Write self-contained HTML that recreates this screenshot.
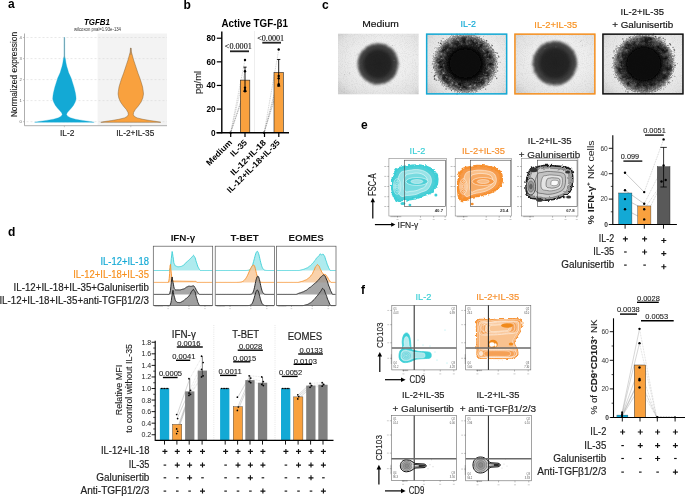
<!DOCTYPE html>
<html><head><meta charset="utf-8"><title>Figure</title>
<style>html,body{margin:0;padding:0;background:#fff;overflow:hidden;}svg{display:block;will-change:transform;}</style>
</head><body>
<svg width="685" height="496" viewBox="0 0 685 496">
<defs>
<filter id="rough" x="-20%" y="-20%" width="140%" height="140%">
  <feTurbulence type="fractalNoise" baseFrequency="0.35" numOctaves="2" seed="4" result="n"/>
  <feDisplacementMap in="SourceGraphic" in2="n" scale="3.5" xChannelSelector="R" yChannelSelector="G"/>
</filter>
<filter id="fuzz" x="-30%" y="-30%" width="160%" height="160%" color-interpolation-filters="sRGB">
  <feTurbulence type="fractalNoise" baseFrequency="0.8" numOctaves="2" seed="7" result="n"/>
  <feDisplacementMap in="SourceGraphic" in2="n" scale="5" xChannelSelector="R" yChannelSelector="G" result="d"/>
  <feGaussianBlur in="d" stdDeviation="0.5"/>
</filter>
<filter id="soft" x="-30%" y="-30%" width="160%" height="160%" color-interpolation-filters="sRGB">
  <feTurbulence type="fractalNoise" baseFrequency="1.1" numOctaves="2" seed="3" result="n"/>
  <feDisplacementMap in="SourceGraphic" in2="n" scale="3.0" xChannelSelector="R" yChannelSelector="G" result="d"/>
  <feGaussianBlur in="d" stdDeviation="0.8"/>
</filter>
<filter id="mottle" x="0" y="0" width="100%" height="100%">
  <feTurbulence type="fractalNoise" baseFrequency="0.3" numOctaves="2" seed="11" result="n"/>
  <feColorMatrix in="n" type="matrix" values="0 0 0 0 0  0 0 0 0 0  0 0 0 0 0  -3 0 0 0 1.6" result="a"/>
  <feComposite in="a" in2="SourceGraphic" operator="in"/>
</filter>
<filter id="mottleW" x="0" y="0" width="100%" height="100%">
  <feTurbulence type="fractalNoise" baseFrequency="0.35" numOctaves="2" seed="5" result="n"/>
  <feColorMatrix in="n" type="matrix" values="0 0 0 0 1  0 0 0 0 1  0 0 0 0 1  3 0 0 0 -1.45" result="a"/>
  <feComposite in="a" in2="SourceGraphic" operator="in"/>
</filter>
<filter id="grainW" x="0" y="0" width="100%" height="100%">
  <feTurbulence type="fractalNoise" baseFrequency="1.0" numOctaves="1" seed="8" result="n"/>
  <feColorMatrix in="n" type="matrix" values="0 0 0 0 1  0 0 0 0 1  0 0 0 0 1  3 0 0 0 -1.3" result="a"/>
  <feComposite in="a" in2="SourceGraphic" operator="in"/>
</filter>
<filter id="blur1" x="-50%" y="-50%" width="200%" height="200%"><feGaussianBlur stdDeviation="0.9"/></filter>
<filter id="grain" x="0" y="0" width="100%" height="100%">
  <feTurbulence type="fractalNoise" baseFrequency="1.1" numOctaves="1" seed="2" result="n"/>
  <feColorMatrix in="n" type="matrix" values="0 0 0 0 0  0 0 0 0 0  0 0 0 0 0  0 0 0 -1.6 0.9" result="a"/>
  <feComposite in="a" in2="SourceGraphic" operator="in"/>
</filter>
<radialGradient id="bgC" cx="55%" cy="45%" r="70%">
  <stop offset="0" stop-color="#f3f3f3"/><stop offset="0.5" stop-color="#eeeeee"/><stop offset="0.85" stop-color="#e2e2e2"/><stop offset="1" stop-color="#d0d0d0"/>
</radialGradient>
<radialGradient id="sph" cx="50%" cy="50%" r="50%">
  <stop offset="0" stop-color="#212121"/><stop offset="0.55" stop-color="#242424"/><stop offset="0.8" stop-color="#2e2e2e"/><stop offset="0.92" stop-color="#3e3e3e"/><stop offset="1" stop-color="#6a6a6a"/>
</radialGradient>
<radialGradient id="sph2" cx="50%" cy="50%" r="50%">
  <stop offset="0" stop-color="#060606"/><stop offset="0.52" stop-color="#0b0b0b"/><stop offset="0.64" stop-color="#262626"/><stop offset="0.74" stop-color="#4a4a4a"/><stop offset="0.86" stop-color="#606060"/><stop offset="0.95" stop-color="#8a8a8a" stop-opacity="0.85"/><stop offset="1" stop-color="#aaa" stop-opacity="0.4"/>
</radialGradient>
<radialGradient id="ringW" cx="50%" cy="50%" r="50%">
  <stop offset="0" stop-color="#fff" stop-opacity="0"/><stop offset="0.62" stop-color="#fff" stop-opacity="0"/><stop offset="0.8" stop-color="#fff" stop-opacity="1"/><stop offset="1" stop-color="#fff" stop-opacity="0.7"/>
</radialGradient>
<radialGradient id="ringK" cx="50%" cy="50%" r="50%">
  <stop offset="0" stop-color="#000" stop-opacity="0"/><stop offset="0.55" stop-color="#000" stop-opacity="0.2"/><stop offset="0.78" stop-color="#000" stop-opacity="1"/><stop offset="1" stop-color="#000" stop-opacity="0.6"/>
</radialGradient>
<clipPath id="ci1"><rect x="337.9" y="33.4" width="80.9" height="61.2"/></clipPath>
<clipPath id="ci2"><rect x="425.9" y="33.4" width="81.5" height="61.2"/></clipPath>
<clipPath id="ci3"><rect x="514.2" y="33.4" width="81.4" height="61.2"/></clipPath>
<clipPath id="ci4"><rect x="602.2" y="33.4" width="81.5" height="61.2"/></clipPath>
</defs>
<rect x="0" y="0" width="685" height="496" fill="#fff"/>
<text x="8" y="8" font-family='"Liberation Sans", sans-serif' font-size="12" font-weight="bold" fill="#000">a</text>
<text x="183.5" y="9.4" font-family='"Liberation Sans", sans-serif' font-size="12" font-weight="bold" fill="#000">b</text>
<text x="322" y="8.8" font-family='"Liberation Sans", sans-serif' font-size="12" font-weight="bold" fill="#000">c</text>
<text x="7.9" y="236" font-family='"Liberation Sans", sans-serif' font-size="12" font-weight="bold" fill="#000">d</text>
<text x="361" y="128.8" font-family='"Liberation Sans", sans-serif' font-size="12" font-weight="bold" fill="#000">e</text>
<text x="361" y="293.8" font-family='"Liberation Sans", sans-serif' font-size="12" font-weight="bold" fill="#000">f</text>
<rect x="97.6" y="33.5" width="69.4" height="92.2" fill="#f3f3f3" stroke="none" stroke-width="1"/>
<line x1="26.5" y1="121.7" x2="167" y2="121.7" stroke="#d8d8d8" stroke-width="0.6" stroke-dasharray="2,2"/>
<text x="21.8" y="123.2" font-family='"Liberation Sans", sans-serif' font-size="4.2" text-anchor="end" fill="#666">0</text>
<line x1="23.0" y1="121.7" x2="24.5" y2="121.7" stroke="#888" stroke-width="0.5"/>
<line x1="26.5" y1="100.6" x2="167" y2="100.6" stroke="#d8d8d8" stroke-width="0.6" stroke-dasharray="2,2"/>
<text x="21.8" y="102.1" font-family='"Liberation Sans", sans-serif' font-size="4.2" text-anchor="end" fill="#666">1</text>
<line x1="23.0" y1="100.6" x2="24.5" y2="100.6" stroke="#888" stroke-width="0.5"/>
<line x1="26.5" y1="79.6" x2="167" y2="79.6" stroke="#d8d8d8" stroke-width="0.6" stroke-dasharray="2,2"/>
<text x="21.8" y="81.1" font-family='"Liberation Sans", sans-serif' font-size="4.2" text-anchor="end" fill="#666">2</text>
<line x1="23.0" y1="79.6" x2="24.5" y2="79.6" stroke="#888" stroke-width="0.5"/>
<line x1="26.5" y1="58.6" x2="167" y2="58.6" stroke="#d8d8d8" stroke-width="0.6" stroke-dasharray="2,2"/>
<text x="21.8" y="60.1" font-family='"Liberation Sans", sans-serif' font-size="4.2" text-anchor="end" fill="#666">3</text>
<line x1="23.0" y1="58.6" x2="24.5" y2="58.6" stroke="#888" stroke-width="0.5"/>
<line x1="26.5" y1="37.5" x2="167" y2="37.5" stroke="#d8d8d8" stroke-width="0.6" stroke-dasharray="2,2"/>
<text x="21.8" y="39.0" font-family='"Liberation Sans", sans-serif' font-size="4.2" text-anchor="end" fill="#666">4</text>
<line x1="23.0" y1="37.5" x2="24.5" y2="37.5" stroke="#888" stroke-width="0.5"/>
<line x1="24.5" y1="33.5" x2="24.5" y2="125.7" stroke="#999" stroke-width="0.8"/>
<line x1="24.5" y1="125.7" x2="167" y2="125.7" stroke="#999" stroke-width="0.8"/>
<line x1="64.4" y1="125.7" x2="64.4" y2="127.2" stroke="#999" stroke-width="0.5"/>
<line x1="130.8" y1="125.7" x2="130.8" y2="127.2" stroke="#999" stroke-width="0.5"/>
<path d="M64.70,37.50 L64.75,56.00 L65.40,59.00 L66.00,63.00 L66.80,66.60 L67.60,69.10 L68.60,72.60 L71.10,78.10 L74.00,87.20 L75.40,93.00 L75.90,96.30 L76.10,99.00 L75.20,102.00 L73.40,105.40 L71.40,108.00 L68.90,110.80 L67.20,112.80 L66.50,114.40 L67.60,116.20 L70.40,117.80 L75.40,119.20 L82.40,120.40 L89.40,121.40 L94.20,122.30 L34.60,122.30 L39.40,121.40 L46.40,120.40 L53.40,119.20 L58.40,117.80 L61.20,116.20 L62.30,114.40 L61.60,112.80 L59.90,110.80 L57.40,108.00 L55.40,105.40 L53.60,102.00 L52.70,99.00 L52.90,96.30 L53.40,93.00 L54.80,87.20 L57.70,78.10 L60.20,72.60 L61.20,69.10 L62.00,66.60 L62.80,63.00 L63.40,59.00 L64.05,56.00 L64.10,37.50Z" fill="#13a9d5" stroke="#13a9d5" stroke-width="0.3" stroke-linejoin="round"/>
<line x1="64.4" y1="37.5" x2="64.4" y2="58" stroke="#999" stroke-width="0.6"/>
<path d="M131.10,48.00 L131.40,52.00 L132.80,57.00 L133.60,60.00 L135.10,64.40 L136.60,69.00 L138.10,73.50 L139.80,78.00 L141.30,82.60 L142.60,87.00 L143.30,91.70 L143.50,94.00 L142.80,98.00 L141.10,102.00 L138.30,106.00 L135.30,109.50 L133.60,112.50 L133.30,114.50 L134.20,116.30 L137.10,117.90 L142.80,119.30 L149.80,120.50 L156.80,121.50 L160.80,122.30 L100.80,122.30 L104.80,121.50 L111.80,120.50 L118.80,119.30 L124.50,117.90 L127.40,116.30 L128.30,114.50 L128.00,112.50 L126.30,109.50 L123.30,106.00 L120.50,102.00 L118.80,98.00 L118.10,94.00 L118.30,91.70 L119.00,87.00 L120.30,82.60 L121.80,78.00 L123.50,73.50 L125.00,69.00 L126.50,64.40 L128.00,60.00 L128.80,57.00 L130.20,52.00 L130.50,48.00Z" fill="#f9a13e" stroke="#7a5a30" stroke-width="0.45" stroke-linejoin="round"/>
<line x1="130.8" y1="48" x2="130.8" y2="55" stroke="#777" stroke-width="0.5"/>
<text x="97" y="24.8" font-family='"Liberation Sans", sans-serif' font-size="8.2" text-anchor="middle" font-weight="bold" font-style="italic" fill="#000" textLength="26" lengthAdjust="spacingAndGlyphs">TGFB1</text>
<text x="97.5" y="30.7" font-family='"Liberation Sans", sans-serif' font-size="4.6" text-anchor="middle" fill="#333" textLength="47" lengthAdjust="spacingAndGlyphs">wilcoxon pval=1.93e-134</text>
<text x="17.2" y="74.6" font-family='"Liberation Sans", sans-serif' font-size="8.8" text-anchor="middle" fill="#1a1a1a" stroke="#1a1a1a" stroke-width="0.12" textLength="85.5" lengthAdjust="spacingAndGlyphs" transform="rotate(-90 17.2 74.6)">Normalized expression</text>
<text x="67.2" y="136.2" font-family='"Liberation Sans", sans-serif' font-size="8.3" text-anchor="middle" fill="#222" stroke="#222" stroke-width="0.15" textLength="14.4" lengthAdjust="spacingAndGlyphs">IL-2</text>
<text x="135.3" y="136.2" font-family='"Liberation Sans", sans-serif' font-size="8.3" text-anchor="middle" fill="#222" stroke="#222" stroke-width="0.15" textLength="38" lengthAdjust="spacingAndGlyphs">IL-2+IL-35</text>
<text x="254.7" y="27.0" font-family='"Liberation Sans", sans-serif' font-size="10.2" text-anchor="middle" font-weight="bold" fill="#000" textLength="66.3" lengthAdjust="spacingAndGlyphs">Active TGF-β1</text>
<line x1="254.5" y1="31.5" x2="254.5" y2="132.7" stroke="#bbb" stroke-width="0.5" stroke-dasharray="1,1"/>
<line x1="230.6" y1="132.7" x2="245.0" y2="60.068499999999986" stroke="#777" stroke-width="0.35" stroke-dasharray="1,0.8"/>
<line x1="230.6" y1="132.7" x2="245.0" y2="71.28799999999998" stroke="#777" stroke-width="0.35" stroke-dasharray="1,0.8"/>
<line x1="230.6" y1="132.7" x2="245.0" y2="87.82199999999999" stroke="#777" stroke-width="0.35" stroke-dasharray="1,0.8"/>
<line x1="230.6" y1="132.7" x2="245.0" y2="90.18399999999998" stroke="#777" stroke-width="0.35" stroke-dasharray="1,0.8"/>
<line x1="230.6" y1="132.7" x2="245.0" y2="91.36499999999998" stroke="#777" stroke-width="0.35" stroke-dasharray="1,0.8"/>
<line x1="264.1" y1="132.7" x2="278.8" y2="49.43949999999998" stroke="#777" stroke-width="0.35" stroke-dasharray="1,0.8"/>
<line x1="264.1" y1="132.7" x2="278.8" y2="76.01199999999999" stroke="#777" stroke-width="0.35" stroke-dasharray="1,0.8"/>
<line x1="264.1" y1="132.7" x2="278.8" y2="78.374" stroke="#777" stroke-width="0.35" stroke-dasharray="1,0.8"/>
<line x1="264.1" y1="132.7" x2="278.8" y2="84.279" stroke="#777" stroke-width="0.35" stroke-dasharray="1,0.8"/>
<line x1="264.1" y1="132.7" x2="278.8" y2="85.45999999999998" stroke="#777" stroke-width="0.35" stroke-dasharray="1,0.8"/>
<rect x="240.3" y="80.14549999999998" width="9.5" height="52.554500000000004" fill="#f9a13e" stroke="#222" stroke-width="0.6"/>
<rect x="274.0" y="72.469" width="9.3" height="60.230999999999995" fill="#f9a13e" stroke="#222" stroke-width="0.6"/>
<line x1="245.0" y1="91.36499999999998" x2="245.0" y2="67.15449999999998" stroke="#000" stroke-width="0.9"/>
<line x1="243.4" y1="67.15449999999998" x2="246.6" y2="67.15449999999998" stroke="#000" stroke-width="0.9"/>
<line x1="243.4" y1="91.36499999999998" x2="246.6" y2="91.36499999999998" stroke="#000" stroke-width="0.9"/>
<line x1="278.7" y1="86.05049999999999" x2="278.7" y2="59.47799999999998" stroke="#000" stroke-width="0.9"/>
<line x1="277.09999999999997" y1="59.47799999999998" x2="280.3" y2="59.47799999999998" stroke="#000" stroke-width="0.9"/>
<line x1="277.09999999999997" y1="86.05049999999999" x2="280.3" y2="86.05049999999999" stroke="#000" stroke-width="0.9"/>
<circle cx="245.0" cy="60.068499999999986" r="1.2" fill="#000"/>
<circle cx="245.0" cy="71.28799999999998" r="1.2" fill="#000"/>
<circle cx="245.0" cy="87.82199999999999" r="1.2" fill="#000"/>
<circle cx="245.0" cy="90.18399999999998" r="1.2" fill="#000"/>
<circle cx="245.0" cy="91.36499999999998" r="1.2" fill="#000"/>
<circle cx="278.7" cy="49.43949999999998" r="1.2" fill="#000"/>
<circle cx="278.7" cy="76.01199999999999" r="1.2" fill="#000"/>
<circle cx="278.7" cy="78.374" r="1.2" fill="#000"/>
<circle cx="278.7" cy="84.279" r="1.2" fill="#000"/>
<circle cx="278.7" cy="85.45999999999998" r="1.2" fill="#000"/>
<circle cx="230.6" cy="132.7" r="1.2" fill="#000"/>
<circle cx="264.1" cy="132.7" r="1.2" fill="#000"/>
<line x1="221.8" y1="31.5" x2="221.8" y2="133.29999999999998" stroke="#000" stroke-width="1.4"/>
<line x1="216.5" y1="132.7" x2="289" y2="132.7" stroke="#000" stroke-width="1.4"/>
<line x1="216.8" y1="132.7" x2="221.8" y2="132.7" stroke="#000" stroke-width="1.2"/>
<text x="215.6" y="135.6" font-family='"Liberation Sans", sans-serif' font-size="8.2" text-anchor="end" font-weight="bold" fill="#000" textLength="4.6" lengthAdjust="spacingAndGlyphs">0</text>
<line x1="216.8" y1="109.07999999999998" x2="221.8" y2="109.07999999999998" stroke="#000" stroke-width="1.2"/>
<text x="215.6" y="111.97999999999999" font-family='"Liberation Sans", sans-serif' font-size="8.2" text-anchor="end" font-weight="bold" fill="#000" textLength="9.2" lengthAdjust="spacingAndGlyphs">20</text>
<line x1="216.8" y1="85.45999999999998" x2="221.8" y2="85.45999999999998" stroke="#000" stroke-width="1.2"/>
<text x="215.6" y="88.35999999999999" font-family='"Liberation Sans", sans-serif' font-size="8.2" text-anchor="end" font-weight="bold" fill="#000" textLength="9.2" lengthAdjust="spacingAndGlyphs">40</text>
<line x1="216.8" y1="61.83999999999999" x2="221.8" y2="61.83999999999999" stroke="#000" stroke-width="1.2"/>
<text x="215.6" y="64.74" font-family='"Liberation Sans", sans-serif' font-size="8.2" text-anchor="end" font-weight="bold" fill="#000" textLength="9.2" lengthAdjust="spacingAndGlyphs">60</text>
<line x1="216.8" y1="38.219999999999985" x2="221.8" y2="38.219999999999985" stroke="#000" stroke-width="1.2"/>
<text x="215.6" y="41.11999999999998" font-family='"Liberation Sans", sans-serif' font-size="8.2" text-anchor="end" font-weight="bold" fill="#000" textLength="9.2" lengthAdjust="spacingAndGlyphs">80</text>
<line x1="230.7" y1="132.7" x2="230.7" y2="137.0" stroke="#000" stroke-width="1.2"/>
<line x1="245.0" y1="132.7" x2="245.0" y2="137.0" stroke="#000" stroke-width="1.2"/>
<line x1="264.5" y1="132.7" x2="264.5" y2="137.0" stroke="#000" stroke-width="1.2"/>
<line x1="278.8" y1="132.7" x2="278.8" y2="137.0" stroke="#000" stroke-width="1.2"/>
<text x="232.6" y="143.2" font-family='"Liberation Sans", sans-serif' font-size="8.4" text-anchor="end" font-weight="bold" fill="#000" textLength="32.5" lengthAdjust="spacingAndGlyphs" transform="rotate(-45 232.6 143.2)">Medium</text>
<text x="247.6" y="143.2" font-family='"Liberation Sans", sans-serif' font-size="8.4" text-anchor="end" font-weight="bold" fill="#000" textLength="19.8" lengthAdjust="spacingAndGlyphs" transform="rotate(-45 247.6 143.2)">IL-35</text>
<text x="266.6" y="143.2" font-family='"Liberation Sans", sans-serif' font-size="8.4" text-anchor="end" font-weight="bold" fill="#000" textLength="46.5" lengthAdjust="spacingAndGlyphs" transform="rotate(-45 266.6 143.2)">IL-12+IL-18</text>
<text x="280.5" y="143.2" font-family='"Liberation Sans", sans-serif' font-size="8.4" text-anchor="end" font-weight="bold" fill="#000" textLength="71" lengthAdjust="spacingAndGlyphs" transform="rotate(-45 280.5 143.2)">IL-12+IL-18+IL-35</text>
<text x="201.0" y="82.4" font-family='"Liberation Sans", sans-serif' font-size="8.6" text-anchor="middle" fill="#222" stroke="#222" stroke-width="0.12" textLength="23" lengthAdjust="spacingAndGlyphs" transform="rotate(-90 201.0 82.4)">pg/ml</text>
<text x="238.3" y="49.3" font-family='"Liberation Serif", serif' font-size="9.2" text-anchor="middle" fill="#111" stroke="#111" stroke-width="0.15" textLength="27" lengthAdjust="spacingAndGlyphs">&lt;0.0001</text>
<line x1="230" y1="51.3" x2="249" y2="51.3" stroke="#222" stroke-width="1.8"/>
<text x="270.7" y="41.0" font-family='"Liberation Serif", serif' font-size="9.2" text-anchor="middle" fill="#111" stroke="#111" stroke-width="0.15" textLength="27" lengthAdjust="spacingAndGlyphs">&lt;0.0001</text>
<line x1="262.3" y1="42.7" x2="281" y2="42.7" stroke="#222" stroke-width="1.8"/>
<g clip-path="url(#ci1)">
<rect x="337.9" y="33.4" width="80.90000000000003" height="61.2" fill="url(#bgC)" stroke="none" stroke-width="1"/>
<ellipse cx="378" cy="63.9" rx="20.6" ry="20.6" fill="url(#sph)" filter="url(#soft)"/>
<ellipse cx="378" cy="63.9" rx="20.188000000000002" ry="20.188000000000002" fill="url(#ringW)" filter="url(#grainW)" opacity="0.35"/>
<circle cx="344.51" cy="74.85" r="0.4" fill="#999"/>
<circle cx="392.60" cy="45.58" r="0.4" fill="#999"/>
<circle cx="394.06" cy="60.20" r="0.4" fill="#999"/>
<circle cx="344.73" cy="88.79" r="0.4" fill="#999"/>
<circle cx="359.21" cy="55.51" r="0.4" fill="#999"/>
<circle cx="349.58" cy="73.02" r="0.4" fill="#999"/>
<rect x="337.9" y="33.4" width="80.90000000000003" height="61.2" fill="#000" stroke="none" stroke-width="1" filter="url(#grain)" opacity="0.10"/>
</g>
<g clip-path="url(#ci2)">
<rect x="425.9" y="33.4" width="81.5" height="61.2" fill="url(#bgC)" stroke="none" stroke-width="1"/>
<ellipse cx="465.3" cy="63.5" rx="32.6" ry="30.2" fill="url(#sph2)" filter="url(#fuzz)"/>
<circle cx="491.57" cy="64.33" r="1.83" fill="#121212" filter="url(#blur1)" opacity="0.95"/>
<circle cx="486.83" cy="73.33" r="2.15" fill="#121212" filter="url(#blur1)" opacity="0.95"/>
<circle cx="480.90" cy="81.51" r="2.96" fill="#121212" filter="url(#blur1)" opacity="0.95"/>
<circle cx="475.75" cy="82.45" r="2.21" fill="#121212" filter="url(#blur1)" opacity="0.95"/>
<circle cx="464.51" cy="87.11" r="1.89" fill="#121212" filter="url(#blur1)" opacity="0.95"/>
<circle cx="459.67" cy="85.09" r="2.92" fill="#121212" filter="url(#blur1)" opacity="0.95"/>
<circle cx="447.98" cy="81.59" r="1.90" fill="#121212" filter="url(#blur1)" opacity="0.95"/>
<circle cx="444.82" cy="77.63" r="2.58" fill="#121212" filter="url(#blur1)" opacity="0.95"/>
<circle cx="441.01" cy="67.52" r="2.07" fill="#121212" filter="url(#blur1)" opacity="0.95"/>
<circle cx="439.57" cy="61.56" r="2.65" fill="#121212" filter="url(#blur1)" opacity="0.95"/>
<circle cx="444.11" cy="50.17" r="1.82" fill="#121212" filter="url(#blur1)" opacity="0.95"/>
<circle cx="446.35" cy="47.70" r="2.22" fill="#121212" filter="url(#blur1)" opacity="0.95"/>
<circle cx="455.51" cy="43.78" r="2.47" fill="#121212" filter="url(#blur1)" opacity="0.95"/>
<circle cx="464.31" cy="40.02" r="2.47" fill="#121212" filter="url(#blur1)" opacity="0.95"/>
<circle cx="474.49" cy="42.45" r="2.86" fill="#121212" filter="url(#blur1)" opacity="0.95"/>
<circle cx="481.77" cy="44.75" r="1.98" fill="#121212" filter="url(#blur1)" opacity="0.95"/>
<circle cx="487.34" cy="52.25" r="2.03" fill="#121212" filter="url(#blur1)" opacity="0.95"/>
<circle cx="489.44" cy="56.22" r="2.13" fill="#121212" filter="url(#blur1)" opacity="0.95"/>
<ellipse cx="465.3" cy="63.5" rx="30.652" ry="28.323999999999998" fill="url(#ringW)" filter="url(#mottleW)" opacity="0.45"/>
<ellipse cx="465.3" cy="63.5" rx="30.02" ry="27.74" fill="url(#ringK)" filter="url(#mottle)" opacity="0.6"/>
<circle cx="440.44" cy="43.19" r="0.72" fill="#333" opacity="0.7"/>
<circle cx="497.97" cy="57.52" r="0.35" fill="#333" opacity="0.7"/>
<circle cx="497.30" cy="53.14" r="0.72" fill="#333" opacity="0.7"/>
<circle cx="493.02" cy="49.29" r="0.65" fill="#333" opacity="0.7"/>
<circle cx="500.16" cy="62.33" r="0.49" fill="#333" opacity="0.7"/>
<circle cx="495.93" cy="52.57" r="0.60" fill="#333" opacity="0.7"/>
<circle cx="483.29" cy="36.69" r="0.38" fill="#333" opacity="0.7"/>
<circle cx="435.94" cy="74.52" r="0.45" fill="#333" opacity="0.7"/>
<circle cx="468.13" cy="92.73" r="0.49" fill="#333" opacity="0.7"/>
<circle cx="433.46" cy="67.60" r="0.59" fill="#333" opacity="0.7"/>
<circle cx="434.61" cy="75.82" r="0.71" fill="#333" opacity="0.7"/>
<circle cx="434.41" cy="79.15" r="0.69" fill="#333" opacity="0.7"/>
<circle cx="485.62" cy="89.12" r="0.66" fill="#333" opacity="0.7"/>
<circle cx="436.97" cy="48.37" r="0.44" fill="#333" opacity="0.7"/>
<circle cx="472.95" cy="94.56" r="0.45" fill="#333" opacity="0.7"/>
<circle cx="457.35" cy="34.60" r="0.71" fill="#333" opacity="0.7"/>
<circle cx="434.66" cy="78.63" r="0.69" fill="#333" opacity="0.7"/>
<circle cx="468.72" cy="32.14" r="0.63" fill="#333" opacity="0.7"/>
<circle cx="491.40" cy="45.01" r="0.46" fill="#333" opacity="0.7"/>
<circle cx="483.56" cy="87.41" r="0.53" fill="#333" opacity="0.7"/>
<circle cx="432.22" cy="63.93" r="0.53" fill="#333" opacity="0.7"/>
<circle cx="475.45" cy="33.81" r="0.71" fill="#333" opacity="0.7"/>
<circle cx="456.46" cy="94.02" r="0.52" fill="#333" opacity="0.7"/>
<circle cx="476.93" cy="90.88" r="0.61" fill="#333" opacity="0.7"/>
<circle cx="476.98" cy="32.86" r="0.73" fill="#333" opacity="0.7"/>
<circle cx="471.85" cy="34.27" r="0.58" fill="#333" opacity="0.7"/>
<circle cx="433.53" cy="57.37" r="0.46" fill="#333" opacity="0.7"/>
<circle cx="451.55" cy="34.31" r="0.62" fill="#333" opacity="0.7"/>
<circle cx="435.87" cy="47.44" r="0.42" fill="#333" opacity="0.7"/>
<circle cx="434.73" cy="48.18" r="0.41" fill="#333" opacity="0.7"/>
<circle cx="438.74" cy="43.17" r="0.40" fill="#333" opacity="0.7"/>
<circle cx="469.76" cy="94.18" r="0.45" fill="#333" opacity="0.7"/>
<circle cx="436.49" cy="80.49" r="0.47" fill="#333" opacity="0.7"/>
<circle cx="457.47" cy="94.12" r="0.71" fill="#333" opacity="0.7"/>
<circle cx="431.92" cy="72.65" r="0.44" fill="#333" opacity="0.7"/>
<circle cx="456.96" cy="33.35" r="0.51" fill="#333" opacity="0.7"/>
<circle cx="440.86" cy="43.50" r="0.61" fill="#333" opacity="0.7"/>
<circle cx="438.32" cy="42.42" r="0.50" fill="#333" opacity="0.7"/>
<circle cx="478.16" cy="33.91" r="0.68" fill="#333" opacity="0.7"/>
<circle cx="498.59" cy="56.19" r="0.59" fill="#333" opacity="0.7"/>
<circle cx="446.07" cy="88.93" r="0.72" fill="#333" opacity="0.7"/>
<circle cx="488.96" cy="84.31" r="0.57" fill="#333" opacity="0.7"/>
<circle cx="443.08" cy="38.39" r="0.50" fill="#333" opacity="0.7"/>
<circle cx="433.08" cy="55.74" r="0.48" fill="#333" opacity="0.7"/>
<circle cx="496.44" cy="78.86" r="0.48" fill="#333" opacity="0.7"/>
<circle cx="457.07" cy="34.68" r="0.54" fill="#333" opacity="0.7"/>
<circle cx="441.22" cy="40.80" r="0.67" fill="#333" opacity="0.7"/>
<circle cx="479.10" cy="36.66" r="0.48" fill="#333" opacity="0.7"/>
<circle cx="434.94" cy="75.28" r="0.64" fill="#333" opacity="0.7"/>
<circle cx="434.27" cy="76.72" r="0.74" fill="#333" opacity="0.7"/>
<circle cx="498.92" cy="56.93" r="0.61" fill="#333" opacity="0.7"/>
<circle cx="496.72" cy="78.14" r="0.67" fill="#333" opacity="0.7"/>
<circle cx="451.52" cy="90.29" r="0.56" fill="#333" opacity="0.7"/>
<circle cx="492.26" cy="45.59" r="0.67" fill="#333" opacity="0.7"/>
<circle cx="495.23" cy="76.50" r="0.56" fill="#333" opacity="0.7"/>
<circle cx="433.36" cy="53.51" r="0.39" fill="#333" opacity="0.7"/>
<circle cx="497.67" cy="70.92" r="0.63" fill="#333" opacity="0.7"/>
<circle cx="442.07" cy="84.82" r="0.66" fill="#333" opacity="0.7"/>
<circle cx="436.01" cy="79.87" r="0.64" fill="#333" opacity="0.7"/>
<circle cx="486.71" cy="40.77" r="0.70" fill="#333" opacity="0.7"/>
<ellipse cx="465.3" cy="63.5" rx="15.8" ry="14.6" fill="#080808" filter="url(#blur1)"/>
<rect x="425.9" y="33.4" width="81.5" height="61.2" fill="#000" stroke="none" stroke-width="1" filter="url(#grain)" opacity="0.10"/>
</g>
<rect x="426.65" y="34.15" width="80.0" height="59.7" fill="none" stroke="#13a9d5" stroke-width="1.5"/>
<g clip-path="url(#ci3)">
<rect x="514.2" y="33.4" width="81.39999999999998" height="61.2" fill="url(#bgC)" stroke="none" stroke-width="1"/>
<ellipse cx="554.9" cy="63.2" rx="22.3" ry="22.3" fill="url(#sph)" filter="url(#soft)"/>
<ellipse cx="554.9" cy="63.2" rx="21.854" ry="21.854" fill="url(#ringW)" filter="url(#grainW)" opacity="0.35"/>
<circle cx="556.00" cy="46.97" r="0.4" fill="#999"/>
<circle cx="544.98" cy="48.84" r="0.4" fill="#999"/>
<circle cx="582.23" cy="45.76" r="0.4" fill="#999"/>
<circle cx="537.84" cy="52.82" r="0.4" fill="#999"/>
<circle cx="580.80" cy="41.46" r="0.4" fill="#999"/>
<circle cx="581.16" cy="40.62" r="0.4" fill="#999"/>
<rect x="514.2" y="33.4" width="81.39999999999998" height="61.2" fill="#000" stroke="none" stroke-width="1" filter="url(#grain)" opacity="0.10"/>
</g>
<rect x="514.95" y="34.15" width="79.89999999999998" height="59.7" fill="none" stroke="#f7901e" stroke-width="1.5"/>
<g clip-path="url(#ci4)">
<rect x="602.2" y="33.4" width="81.5" height="61.2" fill="url(#bgC)" stroke="none" stroke-width="1"/>
<ellipse cx="643.9" cy="64.0" rx="31.2" ry="30.2" fill="url(#sph2)" filter="url(#fuzz)"/>
<circle cx="668.22" cy="69.01" r="3.03" fill="#121212" filter="url(#blur1)" opacity="0.95"/>
<circle cx="664.38" cy="76.19" r="2.92" fill="#121212" filter="url(#blur1)" opacity="0.95"/>
<circle cx="660.31" cy="80.43" r="2.28" fill="#121212" filter="url(#blur1)" opacity="0.95"/>
<circle cx="651.71" cy="84.68" r="1.95" fill="#121212" filter="url(#blur1)" opacity="0.95"/>
<circle cx="646.04" cy="85.79" r="1.90" fill="#121212" filter="url(#blur1)" opacity="0.95"/>
<circle cx="638.03" cy="85.10" r="2.51" fill="#121212" filter="url(#blur1)" opacity="0.95"/>
<circle cx="628.29" cy="83.05" r="1.87" fill="#121212" filter="url(#blur1)" opacity="0.95"/>
<circle cx="624.35" cy="77.37" r="2.28" fill="#121212" filter="url(#blur1)" opacity="0.95"/>
<circle cx="620.55" cy="70.61" r="3.01" fill="#121212" filter="url(#blur1)" opacity="0.95"/>
<circle cx="621.34" cy="63.44" r="1.97" fill="#121212" filter="url(#blur1)" opacity="0.95"/>
<circle cx="623.23" cy="55.01" r="2.21" fill="#121212" filter="url(#blur1)" opacity="0.95"/>
<circle cx="627.42" cy="45.67" r="2.48" fill="#121212" filter="url(#blur1)" opacity="0.95"/>
<circle cx="633.24" cy="45.24" r="2.11" fill="#121212" filter="url(#blur1)" opacity="0.95"/>
<circle cx="645.55" cy="40.72" r="3.19" fill="#121212" filter="url(#blur1)" opacity="0.95"/>
<circle cx="649.56" cy="40.55" r="2.99" fill="#121212" filter="url(#blur1)" opacity="0.95"/>
<circle cx="659.39" cy="46.85" r="2.64" fill="#121212" filter="url(#blur1)" opacity="0.95"/>
<circle cx="663.98" cy="49.90" r="3.12" fill="#121212" filter="url(#blur1)" opacity="0.95"/>
<circle cx="665.03" cy="58.34" r="2.08" fill="#121212" filter="url(#blur1)" opacity="0.95"/>
<ellipse cx="643.9" cy="64.0" rx="29.293999999999997" ry="28.323999999999998" fill="url(#ringW)" filter="url(#mottleW)" opacity="0.25"/>
<ellipse cx="643.9" cy="64.0" rx="28.689999999999998" ry="27.74" fill="url(#ringK)" filter="url(#mottle)" opacity="0.6"/>
<circle cx="674.95" cy="67.00" r="0.60" fill="#333" opacity="0.7"/>
<circle cx="667.48" cy="84.38" r="0.38" fill="#333" opacity="0.7"/>
<circle cx="616.03" cy="49.41" r="0.50" fill="#333" opacity="0.7"/>
<circle cx="673.01" cy="47.46" r="0.64" fill="#333" opacity="0.7"/>
<circle cx="674.63" cy="55.13" r="0.56" fill="#333" opacity="0.7"/>
<circle cx="658.63" cy="37.93" r="0.55" fill="#333" opacity="0.7"/>
<circle cx="660.27" cy="37.69" r="0.52" fill="#333" opacity="0.7"/>
<circle cx="623.56" cy="41.32" r="0.69" fill="#333" opacity="0.7"/>
<circle cx="617.93" cy="47.23" r="0.38" fill="#333" opacity="0.7"/>
<circle cx="629.37" cy="37.42" r="0.60" fill="#333" opacity="0.7"/>
<circle cx="674.83" cy="76.28" r="0.54" fill="#333" opacity="0.7"/>
<circle cx="652.70" cy="94.34" r="0.37" fill="#333" opacity="0.7"/>
<circle cx="665.09" cy="39.74" r="0.66" fill="#333" opacity="0.7"/>
<circle cx="663.82" cy="89.73" r="0.40" fill="#333" opacity="0.7"/>
<circle cx="627.93" cy="91.97" r="0.75" fill="#333" opacity="0.7"/>
<circle cx="659.16" cy="37.13" r="0.55" fill="#333" opacity="0.7"/>
<circle cx="669.32" cy="83.02" r="0.51" fill="#333" opacity="0.7"/>
<circle cx="614.07" cy="51.05" r="0.73" fill="#333" opacity="0.7"/>
<circle cx="663.78" cy="38.52" r="0.48" fill="#333" opacity="0.7"/>
<circle cx="668.56" cy="82.48" r="0.74" fill="#333" opacity="0.7"/>
<circle cx="674.23" cy="52.61" r="0.42" fill="#333" opacity="0.7"/>
<circle cx="637.72" cy="33.34" r="0.57" fill="#333" opacity="0.7"/>
<circle cx="674.15" cy="49.44" r="0.73" fill="#333" opacity="0.7"/>
<circle cx="622.75" cy="38.93" r="0.69" fill="#333" opacity="0.7"/>
<circle cx="625.76" cy="91.10" r="0.54" fill="#333" opacity="0.7"/>
<circle cx="653.59" cy="33.48" r="0.69" fill="#333" opacity="0.7"/>
<circle cx="635.67" cy="95.52" r="0.72" fill="#333" opacity="0.7"/>
<circle cx="673.82" cy="57.93" r="0.45" fill="#333" opacity="0.7"/>
<circle cx="677.45" cy="63.84" r="0.48" fill="#333" opacity="0.7"/>
<circle cx="655.64" cy="36.61" r="0.75" fill="#333" opacity="0.7"/>
<circle cx="654.26" cy="94.32" r="0.45" fill="#333" opacity="0.7"/>
<circle cx="669.75" cy="43.64" r="0.73" fill="#333" opacity="0.7"/>
<circle cx="640.29" cy="34.28" r="0.54" fill="#333" opacity="0.7"/>
<circle cx="653.66" cy="34.87" r="0.70" fill="#333" opacity="0.7"/>
<circle cx="659.82" cy="37.89" r="0.62" fill="#333" opacity="0.7"/>
<circle cx="627.79" cy="89.24" r="0.55" fill="#333" opacity="0.7"/>
<circle cx="645.59" cy="93.18" r="0.45" fill="#333" opacity="0.7"/>
<circle cx="663.14" cy="38.12" r="0.73" fill="#333" opacity="0.7"/>
<circle cx="611.69" cy="67.47" r="0.40" fill="#333" opacity="0.7"/>
<circle cx="665.73" cy="87.53" r="0.36" fill="#333" opacity="0.7"/>
<circle cx="674.43" cy="50.64" r="0.59" fill="#333" opacity="0.7"/>
<circle cx="612.88" cy="67.73" r="0.53" fill="#333" opacity="0.7"/>
<circle cx="659.10" cy="89.77" r="0.40" fill="#333" opacity="0.7"/>
<circle cx="672.38" cy="80.75" r="0.46" fill="#333" opacity="0.7"/>
<circle cx="616.10" cy="48.26" r="0.61" fill="#333" opacity="0.7"/>
<circle cx="660.92" cy="36.71" r="0.38" fill="#333" opacity="0.7"/>
<circle cx="643.67" cy="32.36" r="0.58" fill="#333" opacity="0.7"/>
<circle cx="655.71" cy="91.42" r="0.53" fill="#333" opacity="0.7"/>
<circle cx="616.83" cy="46.12" r="0.55" fill="#333" opacity="0.7"/>
<circle cx="614.78" cy="77.28" r="0.50" fill="#333" opacity="0.7"/>
<circle cx="613.83" cy="52.85" r="0.44" fill="#333" opacity="0.7"/>
<circle cx="622.13" cy="88.83" r="0.39" fill="#333" opacity="0.7"/>
<circle cx="670.78" cy="45.56" r="0.48" fill="#333" opacity="0.7"/>
<circle cx="612.77" cy="66.32" r="0.40" fill="#333" opacity="0.7"/>
<circle cx="612.63" cy="57.92" r="0.68" fill="#333" opacity="0.7"/>
<circle cx="675.27" cy="65.36" r="0.74" fill="#333" opacity="0.7"/>
<circle cx="613.70" cy="74.32" r="0.41" fill="#333" opacity="0.7"/>
<circle cx="613.74" cy="57.57" r="0.60" fill="#333" opacity="0.7"/>
<circle cx="670.46" cy="44.43" r="0.69" fill="#333" opacity="0.7"/>
<circle cx="670.09" cy="82.40" r="0.40" fill="#333" opacity="0.7"/>
<ellipse cx="643.9" cy="64.0" rx="16.912000000000003" ry="16.352" fill="#080808" filter="url(#blur1)"/>
<rect x="602.2" y="33.4" width="81.5" height="61.2" fill="#000" stroke="none" stroke-width="1" filter="url(#grain)" opacity="0.10"/>
</g>
<rect x="602.95" y="34.15" width="80.0" height="59.7" fill="none" stroke="#111" stroke-width="1.5"/>
<text x="380.5" y="26.6" font-family='"Liberation Sans", sans-serif' font-size="9.8" text-anchor="middle" fill="#111" stroke="#111" stroke-width="0.17" textLength="36.6" lengthAdjust="spacingAndGlyphs">Medium</text>
<text x="468.3" y="27.4" font-family='"Liberation Sans", sans-serif' font-size="9.8" text-anchor="middle" fill="#13a9d5" stroke="#13a9d5" stroke-width="0.17" textLength="15.4" lengthAdjust="spacingAndGlyphs">IL-2</text>
<text x="555.8" y="27.6" font-family='"Liberation Sans", sans-serif' font-size="9.8" text-anchor="middle" fill="#f7901e" stroke="#f7901e" stroke-width="0.17" textLength="43" lengthAdjust="spacingAndGlyphs">IL-2+IL-35</text>
<text x="642.3" y="15.0" font-family='"Liberation Sans", sans-serif' font-size="9.8" text-anchor="middle" fill="#111" stroke="#111" stroke-width="0.17" textLength="43.4" lengthAdjust="spacingAndGlyphs">IL-2+IL-35</text>
<text x="642.7" y="28.4" font-family='"Liberation Sans", sans-serif' font-size="9.8" text-anchor="middle" fill="#111" stroke="#111" stroke-width="0.17" textLength="61" lengthAdjust="spacingAndGlyphs">+ Galunisertib</text>
<rect x="388.9" y="158.3" width="57.400000000000034" height="57.69999999999999" fill="#fff" stroke="#888" stroke-width="0.6"/>
<line x1="387.29999999999995" y1="166.5" x2="388.9" y2="166.5" stroke="#555" stroke-width="0.4"/>
<line x1="384.29999999999995" y1="166.5" x2="386.29999999999995" y2="166.5" stroke="#999" stroke-width="0.6"/>
<line x1="387.29999999999995" y1="176.4" x2="388.9" y2="176.4" stroke="#555" stroke-width="0.4"/>
<line x1="384.29999999999995" y1="176.4" x2="386.29999999999995" y2="176.4" stroke="#999" stroke-width="0.6"/>
<line x1="387.29999999999995" y1="186.5" x2="388.9" y2="186.5" stroke="#555" stroke-width="0.4"/>
<line x1="384.29999999999995" y1="186.5" x2="386.29999999999995" y2="186.5" stroke="#999" stroke-width="0.6"/>
<line x1="387.29999999999995" y1="196.7" x2="388.9" y2="196.7" stroke="#555" stroke-width="0.4"/>
<line x1="384.29999999999995" y1="196.7" x2="386.29999999999995" y2="196.7" stroke="#999" stroke-width="0.6"/>
<line x1="387.29999999999995" y1="206.5" x2="388.9" y2="206.5" stroke="#555" stroke-width="0.4"/>
<line x1="384.29999999999995" y1="206.5" x2="386.29999999999995" y2="206.5" stroke="#999" stroke-width="0.6"/>
<line x1="397.51" y1="216.0" x2="397.51" y2="217.6" stroke="#555" stroke-width="0.4"/>
<line x1="396.51" y1="219.5" x2="398.51" y2="219.5" stroke="#aaa" stroke-width="0.6"/>
<line x1="420.47" y1="216.0" x2="420.47" y2="217.6" stroke="#555" stroke-width="0.4"/>
<line x1="419.47" y1="219.5" x2="421.47" y2="219.5" stroke="#aaa" stroke-width="0.6"/>
<line x1="433.672" y1="216.0" x2="433.672" y2="217.6" stroke="#555" stroke-width="0.4"/>
<line x1="432.672" y1="219.5" x2="434.672" y2="219.5" stroke="#aaa" stroke-width="0.6"/>
<line x1="445.152" y1="216.0" x2="445.152" y2="217.6" stroke="#555" stroke-width="0.4"/>
<line x1="444.152" y1="219.5" x2="446.152" y2="219.5" stroke="#aaa" stroke-width="0.6"/>
<line x1="390.9" y1="216.0" x2="390.9" y2="217.2" stroke="#444" stroke-width="0.3"/>
<line x1="391.79999999999995" y1="216.0" x2="391.79999999999995" y2="217.2" stroke="#444" stroke-width="0.3"/>
<line x1="392.7" y1="216.0" x2="392.7" y2="217.2" stroke="#444" stroke-width="0.3"/>
<line x1="393.59999999999997" y1="216.0" x2="393.59999999999997" y2="217.2" stroke="#444" stroke-width="0.3"/>
<line x1="394.5" y1="216.0" x2="394.5" y2="217.2" stroke="#444" stroke-width="0.3"/>
<line x1="395.4" y1="216.0" x2="395.4" y2="217.2" stroke="#444" stroke-width="0.3"/>
<line x1="396.29999999999995" y1="216.0" x2="396.29999999999995" y2="217.2" stroke="#444" stroke-width="0.3"/>
<line x1="397.2" y1="216.0" x2="397.2" y2="217.2" stroke="#444" stroke-width="0.3"/>
<line x1="398.09999999999997" y1="216.0" x2="398.09999999999997" y2="217.2" stroke="#444" stroke-width="0.3"/>
<line x1="399.0" y1="216.0" x2="399.0" y2="217.2" stroke="#444" stroke-width="0.3"/>
<line x1="399.9" y1="216.0" x2="399.9" y2="217.2" stroke="#444" stroke-width="0.3"/>
<line x1="400.79999999999995" y1="216.0" x2="400.79999999999995" y2="217.2" stroke="#444" stroke-width="0.3"/>
<path d="M391.60,186.50 C391.42,183.33 391.53,180.98 392.40,178.00 C393.27,175.02 394.87,170.52 396.80,168.60 C398.73,166.68 401.63,167.05 404.00,166.50 C406.37,165.95 408.67,165.58 411.00,165.30 C413.33,165.02 415.50,164.68 418.00,164.80 C420.50,164.92 423.42,165.12 426.00,166.00 C428.58,166.88 431.60,168.43 433.50,170.10 C435.40,171.77 436.72,173.85 437.40,176.00 C438.08,178.15 438.08,180.75 437.60,183.00 C437.12,185.25 435.62,187.83 434.50,189.50 C433.38,191.17 432.65,192.00 430.90,193.00 C429.15,194.00 426.15,194.63 424.00,195.50 C421.85,196.37 420.17,197.53 418.00,198.20 C415.83,198.87 413.33,199.20 411.00,199.50 C408.67,199.80 406.15,199.72 404.00,200.00 C401.85,200.28 399.85,201.70 398.10,201.20 C396.35,200.70 394.58,199.45 393.50,197.00 C392.42,194.55 391.78,189.67 391.60,186.50Z" fill="#3ccfd6" stroke="#3ccfd6" stroke-width="1.3" filter="url(#rough)"/>
<path d="M393.53,186.25 C393.37,183.40 393.47,181.28 394.25,178.60 C395.03,175.91 396.47,171.86 398.21,170.14 C399.95,168.41 402.56,168.75 404.69,168.25 C406.82,167.75 408.89,167.43 410.99,167.17 C413.09,166.92 415.04,166.62 417.29,166.72 C419.54,166.82 422.17,167.00 424.49,167.80 C426.81,168.60 429.53,169.99 431.24,171.49 C432.95,172.99 434.13,174.87 434.75,176.80 C435.37,178.74 435.37,181.07 434.93,183.10 C434.50,185.12 433.14,187.45 432.14,188.95 C431.13,190.45 430.47,191.20 428.90,192.10 C427.32,193.00 424.62,193.57 422.69,194.35 C420.75,195.13 419.24,196.18 417.29,196.78 C415.34,197.38 413.09,197.68 410.99,197.95 C408.89,198.22 406.62,198.15 404.69,198.40 C402.75,198.66 400.95,199.93 399.38,199.48 C397.81,199.03 396.22,197.90 395.24,195.70 C394.26,193.50 393.70,189.10 393.53,186.25Z" fill="#4fcfd6" stroke="#4fcfd6" stroke-width="0.4" filter="url(#rough)"/>
<path d="M397.14,185.59 C397.00,183.25 397.09,181.51 397.73,179.30 C398.37,177.09 399.56,173.76 400.99,172.34 C402.42,170.93 404.56,171.20 406.31,170.79 C408.07,170.38 409.77,170.11 411.49,169.90 C413.22,169.69 414.82,169.45 416.67,169.53 C418.52,169.62 420.68,169.77 422.59,170.42 C424.51,171.07 426.74,172.22 428.14,173.45 C429.55,174.69 430.52,176.23 431.03,177.82 C431.54,179.41 431.54,181.34 431.18,183.00 C430.82,184.66 429.71,186.58 428.88,187.81 C428.06,189.04 427.51,189.66 426.22,190.40 C424.92,191.14 422.70,191.61 421.11,192.25 C419.52,192.89 418.28,193.75 416.67,194.25 C415.07,194.74 413.22,194.99 411.49,195.21 C409.77,195.43 407.91,195.37 406.31,195.58 C404.72,195.79 403.24,196.84 401.95,196.47 C400.65,196.10 399.35,195.17 398.54,193.36 C397.74,191.55 397.27,187.93 397.14,185.59Z" fill="#9ae3e7" stroke="#fff" stroke-width="0.5"/>
<path d="M403.26,184.34 C403.17,182.69 403.23,181.47 403.68,179.92 C404.13,178.37 404.96,176.03 405.97,175.03 C406.97,174.04 408.48,174.23 409.71,173.94 C410.94,173.65 412.14,173.46 413.35,173.32 C414.57,173.17 415.69,173.00 416.99,173.06 C418.29,173.12 419.81,173.22 421.15,173.68 C422.50,174.14 424.06,174.95 425.05,175.81 C426.04,176.68 426.72,177.76 427.08,178.88 C427.44,180.00 427.44,181.35 427.18,182.52 C426.93,183.69 426.15,185.03 425.57,185.90 C424.99,186.77 424.61,187.20 423.70,187.72 C422.79,188.24 421.23,188.57 420.11,189.02 C418.99,189.47 418.12,190.08 416.99,190.42 C415.87,190.77 414.57,190.94 413.35,191.10 C412.14,191.26 410.83,191.21 409.71,191.36 C408.59,191.51 407.55,192.24 406.64,191.98 C405.73,191.72 404.82,191.07 404.25,189.80 C403.69,188.53 403.36,185.99 403.26,184.34Z" fill="#78dbe0" stroke="#fff" stroke-width="0.5"/>
<ellipse cx="416.9" cy="181.5" rx="11" ry="4" fill="#4fcfd6" stroke="#fff" stroke-width="0.5"/>
<ellipse cx="416.9" cy="181.5" rx="6" ry="2" fill="#9fe3e7" stroke="#fff" stroke-width="0.4"/>
<ellipse cx="397.09999999999997" cy="186.5" rx="3.7199999999999998" ry="7.800000000000001" fill="#4fcfd6" fill-opacity="0.5" stroke="#fff" stroke-width="0.5"/>
<ellipse cx="397.09999999999997" cy="186.5" rx="2.666" ry="5.59" fill="#4fcfd6" fill-opacity="0.5" stroke="#fff" stroke-width="0.5"/>
<ellipse cx="397.09999999999997" cy="186.5" rx="1.736" ry="3.6399999999999997" fill="#4fcfd6" fill-opacity="0.5" stroke="#fff" stroke-width="0.5"/>
<ellipse cx="397.09999999999997" cy="186.5" rx="0.868" ry="1.8199999999999998" fill="#4fcfd6" fill-opacity="0.5" stroke="#fff" stroke-width="0.5"/>
<ellipse cx="402.9" cy="203.5" rx="2.5" ry="1.5" fill="#3ccfd6"/>
<ellipse cx="409.9" cy="205" rx="1.4" ry="1.2" fill="#3ccfd6"/>
<ellipse cx="435.9" cy="195" rx="1.5" ry="1.5" fill="#3ccfd6"/>
<rect x="404.4" y="160.2" width="41.10000000000002" height="46.30000000000001" fill="none" stroke="#444" stroke-width="0.6"/>
<text x="443.1" y="212.2" font-family='"Liberation Sans", sans-serif' font-size="4.3" text-anchor="end" font-weight="bold" fill="#333">40.7</text>
<rect x="455.2" y="158.3" width="56.400000000000034" height="57.69999999999999" fill="#fff" stroke="#888" stroke-width="0.6"/>
<line x1="453.59999999999997" y1="166.5" x2="455.2" y2="166.5" stroke="#555" stroke-width="0.4"/>
<line x1="450.59999999999997" y1="166.5" x2="452.59999999999997" y2="166.5" stroke="#999" stroke-width="0.6"/>
<line x1="453.59999999999997" y1="176.4" x2="455.2" y2="176.4" stroke="#555" stroke-width="0.4"/>
<line x1="450.59999999999997" y1="176.4" x2="452.59999999999997" y2="176.4" stroke="#999" stroke-width="0.6"/>
<line x1="453.59999999999997" y1="186.5" x2="455.2" y2="186.5" stroke="#555" stroke-width="0.4"/>
<line x1="450.59999999999997" y1="186.5" x2="452.59999999999997" y2="186.5" stroke="#999" stroke-width="0.6"/>
<line x1="453.59999999999997" y1="196.7" x2="455.2" y2="196.7" stroke="#555" stroke-width="0.4"/>
<line x1="450.59999999999997" y1="196.7" x2="452.59999999999997" y2="196.7" stroke="#999" stroke-width="0.6"/>
<line x1="453.59999999999997" y1="206.5" x2="455.2" y2="206.5" stroke="#555" stroke-width="0.4"/>
<line x1="450.59999999999997" y1="206.5" x2="452.59999999999997" y2="206.5" stroke="#999" stroke-width="0.6"/>
<line x1="463.65999999999997" y1="216.0" x2="463.65999999999997" y2="217.6" stroke="#555" stroke-width="0.4"/>
<line x1="462.65999999999997" y1="219.5" x2="464.65999999999997" y2="219.5" stroke="#aaa" stroke-width="0.6"/>
<line x1="486.22" y1="216.0" x2="486.22" y2="217.6" stroke="#555" stroke-width="0.4"/>
<line x1="485.22" y1="219.5" x2="487.22" y2="219.5" stroke="#aaa" stroke-width="0.6"/>
<line x1="499.192" y1="216.0" x2="499.192" y2="217.6" stroke="#555" stroke-width="0.4"/>
<line x1="498.192" y1="219.5" x2="500.192" y2="219.5" stroke="#aaa" stroke-width="0.6"/>
<line x1="510.47200000000004" y1="216.0" x2="510.47200000000004" y2="217.6" stroke="#555" stroke-width="0.4"/>
<line x1="509.47200000000004" y1="219.5" x2="511.47200000000004" y2="219.5" stroke="#aaa" stroke-width="0.6"/>
<line x1="457.2" y1="216.0" x2="457.2" y2="217.2" stroke="#444" stroke-width="0.3"/>
<line x1="458.09999999999997" y1="216.0" x2="458.09999999999997" y2="217.2" stroke="#444" stroke-width="0.3"/>
<line x1="459.0" y1="216.0" x2="459.0" y2="217.2" stroke="#444" stroke-width="0.3"/>
<line x1="459.9" y1="216.0" x2="459.9" y2="217.2" stroke="#444" stroke-width="0.3"/>
<line x1="460.8" y1="216.0" x2="460.8" y2="217.2" stroke="#444" stroke-width="0.3"/>
<line x1="461.7" y1="216.0" x2="461.7" y2="217.2" stroke="#444" stroke-width="0.3"/>
<line x1="462.59999999999997" y1="216.0" x2="462.59999999999997" y2="217.2" stroke="#444" stroke-width="0.3"/>
<line x1="463.5" y1="216.0" x2="463.5" y2="217.2" stroke="#444" stroke-width="0.3"/>
<line x1="464.4" y1="216.0" x2="464.4" y2="217.2" stroke="#444" stroke-width="0.3"/>
<line x1="465.3" y1="216.0" x2="465.3" y2="217.2" stroke="#444" stroke-width="0.3"/>
<line x1="466.2" y1="216.0" x2="466.2" y2="217.2" stroke="#444" stroke-width="0.3"/>
<line x1="467.09999999999997" y1="216.0" x2="467.09999999999997" y2="217.2" stroke="#444" stroke-width="0.3"/>
<path d="M457.60,186.50 C457.63,183.33 457.77,179.92 458.50,177.00 C459.23,174.08 459.92,170.75 462.00,169.00 C464.08,167.25 468.33,167.08 471.00,166.50 C473.67,165.92 475.50,165.58 478.00,165.50 C480.50,165.42 483.33,165.67 486.00,166.00 C488.67,166.33 491.67,166.67 494.00,167.50 C496.33,168.33 498.60,169.25 500.00,171.00 C501.40,172.75 502.23,175.67 502.40,178.00 C502.57,180.33 502.07,183.00 501.00,185.00 C499.93,187.00 498.17,188.50 496.00,190.00 C493.83,191.50 490.67,193.00 488.00,194.00 C485.33,195.00 482.67,195.42 480.00,196.00 C477.33,196.58 474.33,196.83 472.00,197.50 C469.67,198.17 467.70,199.33 466.00,200.00 C464.30,200.67 463.08,202.17 461.80,201.50 C460.52,200.83 459.00,198.50 458.30,196.00 C457.60,193.50 457.57,189.67 457.60,186.50Z" fill="#f7902e" stroke="#f7902e" stroke-width="1.3" filter="url(#rough)"/>
<path d="M459.56,186.25 C459.59,183.40 459.71,180.32 460.37,177.70 C461.03,175.07 461.64,172.07 463.52,170.50 C465.39,168.93 469.22,168.78 471.62,168.25 C474.02,167.72 475.67,167.42 477.92,167.35 C480.17,167.28 482.72,167.50 485.12,167.80 C487.52,168.10 490.22,168.40 492.32,169.15 C494.42,169.90 496.46,170.73 497.72,172.30 C498.98,173.88 499.73,176.50 499.88,178.60 C500.03,180.70 499.58,183.10 498.62,184.90 C497.66,186.70 496.07,188.05 494.12,189.40 C492.17,190.75 489.32,192.10 486.92,193.00 C484.52,193.90 482.12,194.28 479.72,194.80 C477.32,195.33 474.62,195.55 472.52,196.15 C470.42,196.75 468.65,197.80 467.12,198.40 C465.59,199.00 464.50,200.35 463.34,199.75 C462.19,199.15 460.82,197.05 460.19,194.80 C459.56,192.55 459.53,189.10 459.56,186.25Z" fill="#f69a48" stroke="#f69a48" stroke-width="0.4" filter="url(#rough)"/>
<path d="M463.22,185.59 C463.24,183.25 463.34,180.72 463.88,178.56 C464.42,176.40 464.93,173.94 466.47,172.64 C468.01,171.34 471.16,171.22 473.13,170.79 C475.11,170.36 476.46,170.11 478.31,170.05 C480.16,169.99 482.26,170.17 484.23,170.42 C486.21,170.67 488.43,170.91 490.15,171.53 C491.88,172.15 493.56,172.82 494.59,174.12 C495.63,175.42 496.24,177.57 496.37,179.30 C496.49,181.03 496.12,183.00 495.33,184.48 C494.54,185.96 493.24,187.07 491.63,188.18 C490.03,189.29 487.69,190.40 485.71,191.14 C483.74,191.88 481.77,192.19 479.79,192.62 C477.82,193.05 475.60,193.24 473.87,193.73 C472.15,194.22 470.69,195.09 469.43,195.58 C468.17,196.07 467.27,197.18 466.32,196.69 C465.37,196.20 464.25,194.47 463.73,192.62 C463.22,190.77 463.19,187.93 463.22,185.59Z" fill="#f9c08a" stroke="#fff" stroke-width="0.5"/>
<path d="M469.41,184.34 C469.43,182.69 469.49,180.92 469.88,179.40 C470.26,177.88 470.61,176.15 471.70,175.24 C472.78,174.33 474.99,174.24 476.38,173.94 C477.76,173.64 478.72,173.46 480.02,173.42 C481.32,173.38 482.79,173.51 484.18,173.68 C485.56,173.85 487.12,174.03 488.34,174.46 C489.55,174.89 490.73,175.37 491.46,176.28 C492.18,177.19 492.62,178.71 492.70,179.92 C492.79,181.13 492.53,182.52 491.98,183.56 C491.42,184.60 490.50,185.38 489.38,186.16 C488.25,186.94 486.60,187.72 485.22,188.24 C483.83,188.76 482.44,188.98 481.06,189.28 C479.67,189.58 478.11,189.71 476.90,190.06 C475.68,190.41 474.66,191.01 473.78,191.36 C472.89,191.71 472.26,192.49 471.59,192.14 C470.92,191.79 470.14,190.58 469.77,189.28 C469.41,187.98 469.39,185.99 469.41,184.34Z" fill="#f7ab66" stroke="#fff" stroke-width="0.5"/>
<ellipse cx="483.2" cy="181.5" rx="11" ry="4" fill="#f69a48" stroke="#fff" stroke-width="0.5"/>
<ellipse cx="483.2" cy="181.5" rx="6" ry="2" fill="#f9bd86" stroke="#fff" stroke-width="0.4"/>
<ellipse cx="463.4" cy="186.5" rx="3.7199999999999998" ry="7.800000000000001" fill="#f69a48" fill-opacity="0.5" stroke="#fff" stroke-width="0.5"/>
<ellipse cx="463.4" cy="186.5" rx="2.666" ry="5.59" fill="#f69a48" fill-opacity="0.5" stroke="#fff" stroke-width="0.5"/>
<ellipse cx="463.4" cy="186.5" rx="1.736" ry="3.6399999999999997" fill="#f69a48" fill-opacity="0.5" stroke="#fff" stroke-width="0.5"/>
<ellipse cx="463.4" cy="186.5" rx="0.868" ry="1.8199999999999998" fill="#f69a48" fill-opacity="0.5" stroke="#fff" stroke-width="0.5"/>
<ellipse cx="465.2" cy="199" rx="2.5" ry="2" fill="#f7902e"/>
<ellipse cx="472.2" cy="204" rx="1.5" ry="1.3" fill="#f7902e"/>
<ellipse cx="501.2" cy="180" rx="1.6" ry="3" fill="#f7902e"/>
<rect x="470.3" y="160.2" width="40.5" height="46.30000000000001" fill="none" stroke="#444" stroke-width="0.6"/>
<text x="508.40000000000003" y="212.2" font-family='"Liberation Sans", sans-serif' font-size="4.3" text-anchor="end" font-weight="bold" fill="#333">25.4</text>
<rect x="521.6" y="158.3" width="56.299999999999955" height="57.69999999999999" fill="#fff" stroke="#888" stroke-width="0.6"/>
<line x1="520.0" y1="166.5" x2="521.6" y2="166.5" stroke="#555" stroke-width="0.4"/>
<line x1="517.0" y1="166.5" x2="519.0" y2="166.5" stroke="#999" stroke-width="0.6"/>
<line x1="520.0" y1="176.4" x2="521.6" y2="176.4" stroke="#555" stroke-width="0.4"/>
<line x1="517.0" y1="176.4" x2="519.0" y2="176.4" stroke="#999" stroke-width="0.6"/>
<line x1="520.0" y1="186.5" x2="521.6" y2="186.5" stroke="#555" stroke-width="0.4"/>
<line x1="517.0" y1="186.5" x2="519.0" y2="186.5" stroke="#999" stroke-width="0.6"/>
<line x1="520.0" y1="196.7" x2="521.6" y2="196.7" stroke="#555" stroke-width="0.4"/>
<line x1="517.0" y1="196.7" x2="519.0" y2="196.7" stroke="#999" stroke-width="0.6"/>
<line x1="520.0" y1="206.5" x2="521.6" y2="206.5" stroke="#555" stroke-width="0.4"/>
<line x1="517.0" y1="206.5" x2="519.0" y2="206.5" stroke="#999" stroke-width="0.6"/>
<line x1="530.0450000000001" y1="216.0" x2="530.0450000000001" y2="217.6" stroke="#555" stroke-width="0.4"/>
<line x1="529.0450000000001" y1="219.5" x2="531.0450000000001" y2="219.5" stroke="#aaa" stroke-width="0.6"/>
<line x1="552.565" y1="216.0" x2="552.565" y2="217.6" stroke="#555" stroke-width="0.4"/>
<line x1="551.565" y1="219.5" x2="553.565" y2="219.5" stroke="#aaa" stroke-width="0.6"/>
<line x1="565.514" y1="216.0" x2="565.514" y2="217.6" stroke="#555" stroke-width="0.4"/>
<line x1="564.514" y1="219.5" x2="566.514" y2="219.5" stroke="#aaa" stroke-width="0.6"/>
<line x1="576.774" y1="216.0" x2="576.774" y2="217.6" stroke="#555" stroke-width="0.4"/>
<line x1="575.774" y1="219.5" x2="577.774" y2="219.5" stroke="#aaa" stroke-width="0.6"/>
<line x1="523.6" y1="216.0" x2="523.6" y2="217.2" stroke="#444" stroke-width="0.3"/>
<line x1="524.5" y1="216.0" x2="524.5" y2="217.2" stroke="#444" stroke-width="0.3"/>
<line x1="525.4" y1="216.0" x2="525.4" y2="217.2" stroke="#444" stroke-width="0.3"/>
<line x1="526.3000000000001" y1="216.0" x2="526.3000000000001" y2="217.2" stroke="#444" stroke-width="0.3"/>
<line x1="527.2" y1="216.0" x2="527.2" y2="217.2" stroke="#444" stroke-width="0.3"/>
<line x1="528.1" y1="216.0" x2="528.1" y2="217.2" stroke="#444" stroke-width="0.3"/>
<line x1="529.0" y1="216.0" x2="529.0" y2="217.2" stroke="#444" stroke-width="0.3"/>
<line x1="529.9" y1="216.0" x2="529.9" y2="217.2" stroke="#444" stroke-width="0.3"/>
<line x1="530.8000000000001" y1="216.0" x2="530.8000000000001" y2="217.2" stroke="#444" stroke-width="0.3"/>
<line x1="531.7" y1="216.0" x2="531.7" y2="217.2" stroke="#444" stroke-width="0.3"/>
<line x1="532.6" y1="216.0" x2="532.6" y2="217.2" stroke="#444" stroke-width="0.3"/>
<line x1="533.5" y1="216.0" x2="533.5" y2="217.2" stroke="#444" stroke-width="0.3"/>
<path d="M526.10,186.50 C526.10,183.83 526.18,181.00 527.00,178.00 C527.82,175.00 529.33,170.33 531.00,168.50 C532.67,166.67 534.67,167.50 537.00,167.00 C539.33,166.50 542.00,165.67 545.00,165.50 C548.00,165.33 551.67,165.75 555.00,166.00 C558.33,166.25 562.27,166.33 565.00,167.00 C567.73,167.67 570.12,168.17 571.40,170.00 C572.68,171.83 572.60,175.33 572.70,178.00 C572.80,180.67 572.62,183.50 572.00,186.00 C571.38,188.50 570.67,191.17 569.00,193.00 C567.33,194.83 564.67,195.92 562.00,197.00 C559.33,198.08 555.83,198.97 553.00,199.50 C550.17,200.03 547.50,200.28 545.00,200.20 C542.50,200.12 540.33,199.37 538.00,199.00 C535.67,198.63 532.83,198.83 531.00,198.00 C529.17,197.17 527.82,195.92 527.00,194.00 C526.18,192.08 526.10,189.17 526.10,186.50Z" fill="#9c9c9c" stroke="#1a1a1a" stroke-width="1.6" filter="url(#rough)"/>
<path d="M528.83,186.15 C528.83,183.86 528.90,181.42 529.60,178.84 C530.31,176.26 531.61,172.25 533.04,170.67 C534.48,169.09 536.20,169.81 538.20,169.38 C540.21,168.95 542.50,168.23 545.08,168.09 C547.66,167.95 550.82,168.31 553.68,168.52 C556.55,168.74 559.93,168.81 562.28,169.38 C564.63,169.95 566.68,170.38 567.79,171.96 C568.89,173.54 568.82,176.55 568.91,178.84 C568.99,181.13 568.83,183.57 568.30,185.72 C567.77,187.87 567.16,190.16 565.72,191.74 C564.29,193.32 562.00,194.25 559.70,195.18 C557.41,196.11 554.40,196.87 551.96,197.33 C549.53,197.79 547.23,198.00 545.08,197.93 C542.93,197.86 541.07,197.22 539.06,196.90 C537.06,196.58 534.62,196.76 533.04,196.04 C531.47,195.32 530.31,194.25 529.60,192.60 C528.90,190.95 528.83,188.44 528.83,186.15Z" fill="#d0d0d0" stroke="#555" stroke-width="0.5" filter="url(#rough)"/>
<path d="M534.77,185.31 C534.77,183.55 534.83,181.68 535.36,179.70 C535.90,177.72 536.90,174.64 538.00,173.43 C539.10,172.22 540.42,172.77 541.96,172.44 C543.50,172.11 545.26,171.56 547.24,171.45 C549.22,171.34 551.64,171.62 553.84,171.78 C556.04,171.94 558.64,172.00 560.44,172.44 C562.25,172.88 563.82,173.21 564.67,174.42 C565.51,175.63 565.46,177.94 565.53,179.70 C565.59,181.46 565.47,183.33 565.06,184.98 C564.66,186.63 564.18,188.39 563.08,189.60 C561.98,190.81 560.22,191.53 558.46,192.24 C556.70,192.96 554.39,193.54 552.52,193.89 C550.65,194.24 548.89,194.41 547.24,194.35 C545.59,194.30 544.16,193.80 542.62,193.56 C541.08,193.32 539.21,193.45 538.00,192.90 C536.79,192.35 535.90,191.52 535.36,190.26 C534.83,189.00 534.77,187.07 534.77,185.31Z" fill="#c2c2c2" stroke="#333" stroke-width="0.5"/>
<path d="M540.95,184.61 C540.95,183.38 540.99,182.08 541.36,180.70 C541.74,179.32 542.44,177.17 543.20,176.33 C543.97,175.49 544.89,175.87 545.96,175.64 C547.04,175.41 548.26,175.03 549.64,174.95 C551.02,174.87 552.71,175.06 554.24,175.18 C555.78,175.30 557.59,175.33 558.84,175.64 C560.10,175.95 561.20,176.18 561.79,177.02 C562.38,177.86 562.34,179.47 562.39,180.70 C562.43,181.93 562.35,183.23 562.06,184.38 C561.78,185.53 561.45,186.76 560.68,187.60 C559.92,188.44 558.69,188.94 557.46,189.44 C556.24,189.94 554.63,190.34 553.32,190.59 C552.02,190.84 550.79,190.95 549.64,190.91 C548.49,190.87 547.50,190.53 546.42,190.36 C545.35,190.19 544.05,190.28 543.20,189.90 C542.36,189.52 541.74,188.94 541.36,188.06 C540.99,187.18 540.95,185.84 540.95,184.61Z" fill="#e4e4e4" stroke="#444" stroke-width="0.5"/>
<path d="M546.05,184.05 C546.05,183.25 546.08,182.40 546.32,181.50 C546.57,180.60 547.02,179.20 547.52,178.65 C548.02,178.10 548.62,178.35 549.32,178.20 C550.02,178.05 550.82,177.80 551.72,177.75 C552.62,177.70 553.72,177.83 554.72,177.90 C555.72,177.97 556.90,178.00 557.72,178.20 C558.54,178.40 559.25,178.55 559.64,179.10 C560.02,179.65 560.00,180.70 560.03,181.50 C560.06,182.30 560.00,183.15 559.82,183.90 C559.64,184.65 559.42,185.45 558.92,186.00 C558.42,186.55 557.62,186.88 556.82,187.20 C556.02,187.52 554.97,187.79 554.12,187.95 C553.27,188.11 552.47,188.19 551.72,188.16 C550.97,188.13 550.32,187.91 549.62,187.80 C548.92,187.69 548.07,187.75 547.52,187.50 C546.97,187.25 546.57,186.88 546.32,186.30 C546.08,185.73 546.05,184.85 546.05,184.05Z" fill="#cfcfcf" stroke="#333" stroke-width="0.5"/>
<path d="M550.88,183.56 C550.88,183.13 550.89,182.68 551.02,182.20 C551.15,181.72 551.40,180.97 551.66,180.68 C551.93,180.39 552.25,180.52 552.62,180.44 C553.00,180.36 553.42,180.23 553.90,180.20 C554.38,180.17 554.97,180.24 555.50,180.28 C556.04,180.32 556.67,180.33 557.10,180.44 C557.54,180.55 557.92,180.63 558.13,180.92 C558.33,181.21 558.32,181.77 558.34,182.20 C558.35,182.63 558.32,183.08 558.22,183.48 C558.13,183.88 558.01,184.31 557.74,184.60 C557.48,184.89 557.05,185.07 556.62,185.24 C556.20,185.41 555.64,185.55 555.18,185.64 C554.73,185.73 554.30,185.77 553.90,185.75 C553.50,185.74 553.16,185.62 552.78,185.56 C552.41,185.50 551.96,185.53 551.66,185.40 C551.37,185.27 551.15,185.07 551.02,184.76 C550.89,184.45 550.88,183.99 550.88,183.56Z" fill="#fafafa" stroke="#333" stroke-width="0.4"/>
<ellipse cx="530.9" cy="186.5" rx="4.6" ry="8.5" fill="#c0c0c0" stroke="#222" stroke-width="0.7"/>
<ellipse cx="530.9" cy="186.5" rx="3" ry="5.6" fill="#999" stroke="#333" stroke-width="0.4"/>
<ellipse cx="530.9" cy="186.5" rx="1.4" ry="2.6" fill="#666" stroke="#333" stroke-width="0.3"/>
<ellipse cx="533.6" cy="170" rx="4" ry="2.2" fill="#333"/>
<ellipse cx="539.6" cy="200" rx="3.5" ry="1.8" fill="#333"/>
<ellipse cx="568.6" cy="197" rx="2.5" ry="1.5" fill="#333"/>
<ellipse cx="567.6" cy="172" rx="2.5" ry="1.5" fill="#333"/>
<rect x="537.5" y="160.2" width="39.60000000000002" height="46.30000000000001" fill="none" stroke="#444" stroke-width="0.6"/>
<text x="574.6999999999999" y="212.2" font-family='"Liberation Sans", sans-serif' font-size="4.3" text-anchor="end" font-weight="bold" fill="#333">67.8</text>
<text x="417.5" y="153.8" font-family='"Liberation Sans", sans-serif' font-size="9.8" text-anchor="middle" fill="#3ccfd6" stroke="#3ccfd6" stroke-width="0.17" textLength="15.8" lengthAdjust="spacingAndGlyphs">IL-2</text>
<text x="483.5" y="153.8" font-family='"Liberation Sans", sans-serif' font-size="9.8" text-anchor="middle" fill="#f7902e" stroke="#f7902e" stroke-width="0.17" textLength="43" lengthAdjust="spacingAndGlyphs">IL-2+IL-35</text>
<text x="549.7" y="144.0" font-family='"Liberation Sans", sans-serif' font-size="9.8" text-anchor="middle" fill="#222" stroke="#222" stroke-width="0.17" textLength="43.8" lengthAdjust="spacingAndGlyphs">IL-2+IL-35</text>
<text x="549.5" y="157.5" font-family='"Liberation Sans", sans-serif' font-size="9.8" text-anchor="middle" fill="#222" stroke="#222" stroke-width="0.17" textLength="61.3" lengthAdjust="spacingAndGlyphs">+ Galunisertib</text>
<text x="376.0" y="184.6" font-family='"Liberation Sans", sans-serif' font-size="10.0" text-anchor="middle" fill="#222" stroke="#222" stroke-width="0.17" textLength="22.3" lengthAdjust="spacingAndGlyphs" transform="rotate(-90 376.0 184.6)">FSC-A</text>
<line x1="372.8" y1="218.4" x2="372.8" y2="201" stroke="#000" stroke-width="1.2"/>
<path d="M372.8,197.8 L370.6,202.2 L375.0,202.2Z" fill="#000" stroke="none" stroke-width="1"/>
<line x1="374.9" y1="224.6" x2="392" y2="224.6" stroke="#000" stroke-width="1.2"/>
<path d="M395.4,224.6 L391.2,222.4 L391.2,226.8Z" fill="#000" stroke="none" stroke-width="1"/>
<text x="397.6" y="227.6" font-family='"Liberation Sans", sans-serif' font-size="9.0" fill="#222" stroke="#222" stroke-width="0.12" textLength="20.6" lengthAdjust="spacingAndGlyphs">IFN-γ</text>
<line x1="625" y1="172.81099999999998" x2="644.2" y2="192.115" stroke="#666" stroke-width="0.35"/>
<line x1="644.2" y1="192.115" x2="663.6" y2="139.41" stroke="#888" stroke-width="0.35" stroke-dasharray="1,0.8"/>
<line x1="625" y1="190.21" x2="644.2" y2="203.799" stroke="#666" stroke-width="0.35"/>
<line x1="644.2" y1="203.799" x2="663.6" y2="165.445" stroke="#888" stroke-width="0.35" stroke-dasharray="1,0.8"/>
<line x1="625" y1="199.1" x2="644.2" y2="209.26" stroke="#666" stroke-width="0.35"/>
<line x1="644.2" y1="209.26" x2="663.6" y2="180.685" stroke="#888" stroke-width="0.35" stroke-dasharray="1,0.8"/>
<line x1="625" y1="209.26" x2="644.2" y2="219.42" stroke="#666" stroke-width="0.35"/>
<line x1="644.2" y1="219.42" x2="663.6" y2="179.415" stroke="#888" stroke-width="0.35" stroke-dasharray="1,0.8"/>
<rect x="618.7" y="193.004" width="13.2" height="31.49600000000001" fill="#13a9d5" stroke="#333" stroke-width="0.4"/>
<rect x="637.8" y="205.958" width="13.1" height="18.542" fill="#f9a13e" stroke="#333" stroke-width="0.4"/>
<rect x="657.3" y="166.715" width="12.7" height="57.785" fill="#595959" stroke="#222" stroke-width="0.4"/>
<line x1="663.6" y1="147.4" x2="663.6" y2="187" stroke="#000" stroke-width="0.8"/>
<line x1="660.4" y1="147.4" x2="666.8" y2="147.4" stroke="#000" stroke-width="0.8"/>
<line x1="660.4" y1="187" x2="666.8" y2="187" stroke="#000" stroke-width="0.8"/>
<circle cx="625" cy="172.81099999999998" r="1.2" fill="#000"/>
<circle cx="625" cy="190.21" r="1.2" fill="#000"/>
<circle cx="625" cy="199.1" r="1.2" fill="#000"/>
<circle cx="625" cy="209.26" r="1.2" fill="#000"/>
<circle cx="644.2" cy="192.115" r="1.2" fill="#000"/>
<circle cx="644.2" cy="203.799" r="1.2" fill="#000"/>
<circle cx="644.2" cy="209.26" r="1.2" fill="#000"/>
<circle cx="644.2" cy="219.42" r="1.2" fill="#000"/>
<circle cx="663.6" cy="139.41" r="1.2" fill="#000"/>
<circle cx="663.6" cy="165.445" r="1.2" fill="#000"/>
<circle cx="661.5" cy="181.574" r="1.2" fill="#000"/>
<circle cx="665.7" cy="180.05" r="1.2" fill="#000"/>
<line x1="612.8" y1="135.2" x2="612.8" y2="225.0" stroke="#000" stroke-width="1.1"/>
<line x1="612.8" y1="224.5" x2="676.9" y2="224.5" stroke="#000" stroke-width="1.1"/>
<line x1="608.8" y1="224.5" x2="612.8" y2="224.5" stroke="#000" stroke-width="0.9"/>
<text x="607.8" y="226.8" font-family='"Liberation Sans", sans-serif' font-size="6.6" text-anchor="end" font-weight="bold" fill="#333">0</text>
<line x1="608.8" y1="199.1" x2="612.8" y2="199.1" stroke="#000" stroke-width="0.9"/>
<text x="607.8" y="201.4" font-family='"Liberation Sans", sans-serif' font-size="6.6" text-anchor="end" fill="#333">20</text>
<line x1="608.8" y1="173.7" x2="612.8" y2="173.7" stroke="#000" stroke-width="0.9"/>
<text x="607.8" y="176.0" font-family='"Liberation Sans", sans-serif' font-size="6.6" text-anchor="end" fill="#333">40</text>
<line x1="608.8" y1="148.3" x2="612.8" y2="148.3" stroke="#000" stroke-width="0.9"/>
<text x="607.8" y="150.60000000000002" font-family='"Liberation Sans", sans-serif' font-size="6.6" text-anchor="end" fill="#333">60</text>
<line x1="610.8" y1="211.8" x2="612.8" y2="211.8" stroke="#000" stroke-width="0.7"/>
<line x1="610.8" y1="186.4" x2="612.8" y2="186.4" stroke="#000" stroke-width="0.7"/>
<line x1="610.8" y1="161.0" x2="612.8" y2="161.0" stroke="#000" stroke-width="0.7"/>
<line x1="625.1" y1="224.5" x2="625.1" y2="228.7" stroke="#000" stroke-width="0.9"/>
<line x1="644.3" y1="224.5" x2="644.3" y2="228.7" stroke="#000" stroke-width="0.9"/>
<line x1="663.5" y1="224.5" x2="663.5" y2="228.7" stroke="#000" stroke-width="0.9"/>
<text x="629.95" y="158.6" font-family='"Liberation Sans", sans-serif' font-size="7.6" text-anchor="middle" fill="#1a1a1a" stroke="#1a1a1a" stroke-width="0.1" textLength="18.3" lengthAdjust="spacingAndGlyphs">0.099</text>
<line x1="623.4" y1="161.1" x2="642.3" y2="161.1" stroke="#222" stroke-width="1.5"/>
<text x="654.5" y="132.7" font-family='"Liberation Sans", sans-serif' font-size="7.6" text-anchor="middle" fill="#1a1a1a" stroke="#1a1a1a" stroke-width="0.1" textLength="22.6" lengthAdjust="spacingAndGlyphs">0.0051</text>
<line x1="645" y1="135.1" x2="663.8" y2="135.1" stroke="#222" stroke-width="1.5"/>
<text x="593.5" y="224.5" transform="rotate(-90 593.5 224.5)" font-family='"Liberation Sans", sans-serif' font-size="9.6" fill="#222" textLength="84" lengthAdjust="spacingAndGlyphs"><tspan font-weight="bold">% IFN-γ</tspan><tspan font-weight="bold" font-size="6" dy="-3.5">+</tspan><tspan dy="3.5"> NK cells</tspan></text>
<text x="614.2" y="241.9" font-family='"Liberation Sans", sans-serif' font-size="10.0" text-anchor="end" fill="#222" stroke="#222" stroke-width="0.17" textLength="15.4" lengthAdjust="spacingAndGlyphs">IL-2</text>
<text x="614.2" y="255.0" font-family='"Liberation Sans", sans-serif' font-size="10.0" text-anchor="end" fill="#222" stroke="#222" stroke-width="0.17" textLength="21" lengthAdjust="spacingAndGlyphs">IL-35</text>
<text x="614.2" y="268.1" font-family='"Liberation Sans", sans-serif' font-size="10.0" text-anchor="end" fill="#222" stroke="#222" stroke-width="0.17" textLength="53" lengthAdjust="spacingAndGlyphs">Galunisertib</text>
<path d="M622.90,238.90H627.90M625.40,236.40V241.40" stroke="#111" stroke-width="1.15" fill="none"/>
<path d="M642.10,238.90H647.10M644.60,236.40V241.40" stroke="#111" stroke-width="1.15" fill="none"/>
<path d="M661.30,240.50H666.30M663.80,238.00V243.00" stroke="#111" stroke-width="1.15" fill="none"/>
<path d="M624.10,252.00H626.70" stroke="#111" stroke-width="1.15" fill="none"/>
<path d="M642.10,252.00H647.10M644.60,249.50V254.50" stroke="#111" stroke-width="1.15" fill="none"/>
<path d="M661.30,253.60H666.30M663.80,251.10V256.10" stroke="#111" stroke-width="1.15" fill="none"/>
<path d="M624.10,265.10H626.70" stroke="#111" stroke-width="1.15" fill="none"/>
<path d="M643.30,265.10H645.90" stroke="#111" stroke-width="1.15" fill="none"/>
<path d="M661.30,266.70H666.30M663.80,264.20V269.20" stroke="#111" stroke-width="1.15" fill="none"/>
<text x="148.9" y="265.2" font-family='"Liberation Sans", sans-serif' font-size="10.0" text-anchor="end" fill="#13a9d5" stroke="#13a9d5" stroke-width="0.17" textLength="48.4" lengthAdjust="spacingAndGlyphs">IL-12+IL-18</text>
<text x="148.9" y="278.3" font-family='"Liberation Sans", sans-serif' font-size="10.0" text-anchor="end" fill="#f7901e" stroke="#f7901e" stroke-width="0.17" textLength="75.7" lengthAdjust="spacingAndGlyphs">IL-12+IL-18+IL-35</text>
<text x="148.9" y="291.2" font-family='"Liberation Sans", sans-serif' font-size="10.0" text-anchor="end" fill="#222" stroke="#222" stroke-width="0.17" textLength="135.3" lengthAdjust="spacingAndGlyphs">IL-12+IL-18+IL-35+Galunisertib</text>
<text x="148.9" y="304.3" font-family='"Liberation Sans", sans-serif' font-size="10.0" text-anchor="end" fill="#222" stroke="#222" stroke-width="0.17" textLength="149.5" lengthAdjust="spacingAndGlyphs">IL-12+IL-18+IL-35+anti-TGFβ1/2/3</text>
<text x="182.9" y="241.0" font-family='"Liberation Sans", sans-serif' font-size="9.8" text-anchor="middle" font-weight="bold" fill="#111">IFN-γ</text>
<text x="244.6" y="241.0" font-family='"Liberation Sans", sans-serif' font-size="9.8" text-anchor="middle" font-weight="bold" fill="#111">T-BET</text>
<text x="306.2" y="241.0" font-family='"Liberation Sans", sans-serif' font-size="9.8" text-anchor="middle" font-weight="bold" fill="#111">EOMES</text>
<rect x="153.3" y="246.2" width="59.39999999999998" height="59.400000000000034" fill="#fff" stroke="none" stroke-width="1"/>
<path d="M153.80,270.50 L153.80,270.50 L154.22,270.50 L154.63,270.50 L155.05,270.50 L155.47,270.50 L155.89,270.50 L156.30,270.50 L156.72,270.50 L157.14,270.50 L157.55,270.50 L157.97,270.50 L158.39,270.50 L158.81,270.50 L159.22,270.50 L159.64,270.50 L160.06,270.50 L160.47,270.50 L160.89,270.50 L161.31,270.50 L161.73,270.50 L162.14,270.50 L162.56,270.50 L162.98,270.50 L163.39,270.50 L163.81,270.50 L164.23,270.50 L164.65,270.50 L165.06,270.50 L165.48,270.50 L165.90,270.50 L166.31,270.50 L166.73,270.50 L167.15,270.50 L167.57,270.50 L167.98,270.50 L168.40,270.50 L168.82,270.50 L169.23,270.50 L169.65,270.18 L170.07,268.74 L170.49,267.52 L170.90,262.96 L171.32,258.41 L171.74,255.03 L172.15,251.51 L172.57,253.67 L172.99,256.46 L173.41,259.18 L173.82,262.59 L174.24,263.79 L174.66,264.56 L175.07,265.40 L175.49,265.99 L175.91,266.09 L176.33,266.23 L176.74,266.40 L177.16,266.56 L177.58,266.70 L177.99,266.80 L178.41,266.77 L178.83,266.73 L179.25,266.68 L179.66,266.63 L180.08,266.58 L180.50,266.54 L180.91,266.50 L181.33,266.39 L181.75,266.20 L182.17,265.96 L182.58,265.70 L183.00,265.44 L183.42,265.22 L183.83,265.05 L184.25,264.79 L184.67,264.26 L185.09,263.62 L185.50,263.00 L185.92,262.56 L186.34,262.32 L186.75,261.98 L187.17,261.59 L187.59,261.24 L188.01,261.00 L188.42,260.67 L188.84,260.20 L189.26,259.68 L189.67,259.23 L190.09,258.95 L190.51,258.55 L190.93,258.03 L191.34,257.60 L191.76,257.30 L192.18,256.80 L192.59,256.21 L193.01,255.65 L193.43,255.25 L193.85,255.62 L194.26,256.37 L194.68,257.12 L195.10,257.69 L195.51,259.04 L195.93,260.75 L196.35,262.18 L196.77,263.09 L197.18,264.50 L197.60,266.01 L198.02,267.01 L198.43,267.62 L198.85,268.46 L199.27,269.23 L199.69,269.64 L200.10,270.13 L200.52,270.50 L200.94,270.50 L201.35,270.50 L201.77,270.50 L202.19,270.50 L202.61,270.50 L203.02,270.50 L203.44,270.50 L203.86,270.50 L204.27,270.50 L204.69,270.50 L205.11,270.50 L205.53,270.50 L205.94,270.50 L206.36,270.50 L206.78,270.50 L207.19,270.50 L207.61,270.50 L208.03,270.50 L208.45,270.50 L208.86,270.50 L209.28,270.50 L209.70,270.50 L210.11,270.50 L210.53,270.50 L210.95,270.50 L211.37,270.50 L211.78,270.50 L212.20,270.50 L212.20,270.50Z" fill="#a6e9ec" stroke="none" stroke-width="1" fill-opacity="0.9"/>
<path d="M153.80,270.50 L154.22,270.50 L154.63,270.50 L155.05,270.50 L155.47,270.50 L155.89,270.50 L156.30,270.50 L156.72,270.50 L157.14,270.50 L157.55,270.50 L157.97,270.50 L158.39,270.50 L158.81,270.50 L159.22,270.50 L159.64,270.50 L160.06,270.50 L160.47,270.50 L160.89,270.50 L161.31,270.50 L161.73,270.50 L162.14,270.50 L162.56,270.50 L162.98,270.50 L163.39,270.50 L163.81,270.50 L164.23,270.50 L164.65,270.50 L165.06,270.50 L165.48,270.50 L165.90,270.50 L166.31,270.50 L166.73,270.50 L167.15,270.50 L167.57,270.50 L167.98,270.50 L168.40,270.50 L168.82,270.50 L169.23,270.50 L169.65,270.18 L170.07,268.74 L170.49,267.52 L170.90,262.96 L171.32,258.41 L171.74,255.03 L172.15,251.51 L172.57,253.67 L172.99,256.46 L173.41,259.18 L173.82,262.59 L174.24,263.79 L174.66,264.56 L175.07,265.40 L175.49,265.99 L175.91,266.09 L176.33,266.23 L176.74,266.40 L177.16,266.56 L177.58,266.70 L177.99,266.80 L178.41,266.77 L178.83,266.73 L179.25,266.68 L179.66,266.63 L180.08,266.58 L180.50,266.54 L180.91,266.50 L181.33,266.39 L181.75,266.20 L182.17,265.96 L182.58,265.70 L183.00,265.44 L183.42,265.22 L183.83,265.05 L184.25,264.79 L184.67,264.26 L185.09,263.62 L185.50,263.00 L185.92,262.56 L186.34,262.32 L186.75,261.98 L187.17,261.59 L187.59,261.24 L188.01,261.00 L188.42,260.67 L188.84,260.20 L189.26,259.68 L189.67,259.23 L190.09,258.95 L190.51,258.55 L190.93,258.03 L191.34,257.60 L191.76,257.30 L192.18,256.80 L192.59,256.21 L193.01,255.65 L193.43,255.25 L193.85,255.62 L194.26,256.37 L194.68,257.12 L195.10,257.69 L195.51,259.04 L195.93,260.75 L196.35,262.18 L196.77,263.09 L197.18,264.50 L197.60,266.01 L198.02,267.01 L198.43,267.62 L198.85,268.46 L199.27,269.23 L199.69,269.64 L200.10,270.13 L200.52,270.50 L200.94,270.50 L201.35,270.50 L201.77,270.50 L202.19,270.50 L202.61,270.50 L203.02,270.50 L203.44,270.50 L203.86,270.50 L204.27,270.50 L204.69,270.50 L205.11,270.50 L205.53,270.50 L205.94,270.50 L206.36,270.50 L206.78,270.50 L207.19,270.50 L207.61,270.50 L208.03,270.50 L208.45,270.50 L208.86,270.50 L209.28,270.50 L209.70,270.50 L210.11,270.50 L210.53,270.50 L210.95,270.50 L211.37,270.50 L211.78,270.50 L212.20,270.50" fill="none" stroke="#3ccfd6" stroke-width="0.9" stroke-linejoin="round"/>
<path d="M153.80,282.40 L153.80,282.40 L154.22,282.40 L154.63,282.40 L155.05,282.40 L155.47,282.40 L155.89,282.40 L156.30,282.40 L156.72,282.40 L157.14,282.40 L157.55,282.40 L157.97,282.40 L158.39,282.40 L158.81,282.40 L159.22,282.40 L159.64,282.40 L160.06,282.40 L160.47,282.40 L160.89,282.40 L161.31,282.40 L161.73,282.40 L162.14,282.40 L162.56,282.40 L162.98,282.40 L163.39,282.40 L163.81,282.40 L164.23,282.40 L164.65,282.40 L165.06,282.40 L165.48,282.40 L165.90,282.40 L166.31,282.40 L166.73,282.40 L167.15,282.40 L167.57,282.40 L167.98,282.40 L168.40,282.40 L168.82,280.91 L169.23,278.60 L169.65,273.48 L170.07,265.75 L170.49,264.40 L170.90,269.62 L171.32,273.14 L171.74,277.36 L172.15,279.59 L172.57,280.40 L172.99,281.09 L173.41,281.10 L173.82,281.11 L174.24,281.11 L174.66,281.11 L175.07,281.12 L175.49,281.12 L175.91,281.13 L176.33,281.13 L176.74,281.14 L177.16,281.14 L177.58,281.15 L177.99,281.15 L178.41,281.16 L178.83,281.16 L179.25,281.17 L179.66,281.17 L180.08,281.18 L180.50,281.19 L180.91,281.19 L181.33,281.20 L181.75,281.21 L182.17,281.21 L182.58,281.22 L183.00,281.23 L183.42,281.23 L183.83,281.24 L184.25,281.25 L184.67,281.25 L185.09,281.26 L185.50,281.27 L185.92,281.27 L186.34,281.28 L186.75,281.29 L187.17,281.29 L187.59,281.30 L188.01,281.31 L188.42,281.31 L188.84,281.32 L189.26,281.32 L189.67,281.33 L190.09,281.34 L190.51,281.34 L190.93,281.35 L191.34,281.35 L191.76,281.36 L192.18,281.36 L192.59,281.37 L193.01,281.37 L193.43,281.38 L193.85,281.38 L194.26,281.39 L194.68,281.39 L195.10,281.39 L195.51,281.40 L195.93,281.40 L196.35,281.71 L196.77,282.21 L197.18,282.40 L197.60,282.40 L198.02,282.40 L198.43,282.40 L198.85,282.40 L199.27,282.40 L199.69,282.40 L200.10,282.40 L200.52,282.40 L200.94,282.40 L201.35,282.40 L201.77,282.40 L202.19,282.40 L202.61,282.40 L203.02,282.40 L203.44,282.40 L203.86,282.40 L204.27,282.40 L204.69,282.40 L205.11,282.40 L205.53,282.40 L205.94,282.40 L206.36,282.40 L206.78,282.40 L207.19,282.40 L207.61,282.40 L208.03,282.40 L208.45,282.40 L208.86,282.40 L209.28,282.40 L209.70,282.40 L210.11,282.40 L210.53,282.40 L210.95,282.40 L211.37,282.40 L211.78,282.40 L212.20,282.40 L212.20,282.40Z" fill="#f9c796" stroke="none" stroke-width="1" fill-opacity="0.8"/>
<path d="M153.80,282.40 L154.22,282.40 L154.63,282.40 L155.05,282.40 L155.47,282.40 L155.89,282.40 L156.30,282.40 L156.72,282.40 L157.14,282.40 L157.55,282.40 L157.97,282.40 L158.39,282.40 L158.81,282.40 L159.22,282.40 L159.64,282.40 L160.06,282.40 L160.47,282.40 L160.89,282.40 L161.31,282.40 L161.73,282.40 L162.14,282.40 L162.56,282.40 L162.98,282.40 L163.39,282.40 L163.81,282.40 L164.23,282.40 L164.65,282.40 L165.06,282.40 L165.48,282.40 L165.90,282.40 L166.31,282.40 L166.73,282.40 L167.15,282.40 L167.57,282.40 L167.98,282.40 L168.40,282.40 L168.82,280.91 L169.23,278.60 L169.65,273.48 L170.07,265.75 L170.49,264.40 L170.90,269.62 L171.32,273.14 L171.74,277.36 L172.15,279.59 L172.57,280.40 L172.99,281.09 L173.41,281.10 L173.82,281.11 L174.24,281.11 L174.66,281.11 L175.07,281.12 L175.49,281.12 L175.91,281.13 L176.33,281.13 L176.74,281.14 L177.16,281.14 L177.58,281.15 L177.99,281.15 L178.41,281.16 L178.83,281.16 L179.25,281.17 L179.66,281.17 L180.08,281.18 L180.50,281.19 L180.91,281.19 L181.33,281.20 L181.75,281.21 L182.17,281.21 L182.58,281.22 L183.00,281.23 L183.42,281.23 L183.83,281.24 L184.25,281.25 L184.67,281.25 L185.09,281.26 L185.50,281.27 L185.92,281.27 L186.34,281.28 L186.75,281.29 L187.17,281.29 L187.59,281.30 L188.01,281.31 L188.42,281.31 L188.84,281.32 L189.26,281.32 L189.67,281.33 L190.09,281.34 L190.51,281.34 L190.93,281.35 L191.34,281.35 L191.76,281.36 L192.18,281.36 L192.59,281.37 L193.01,281.37 L193.43,281.38 L193.85,281.38 L194.26,281.39 L194.68,281.39 L195.10,281.39 L195.51,281.40 L195.93,281.40 L196.35,281.71 L196.77,282.21 L197.18,282.40 L197.60,282.40 L198.02,282.40 L198.43,282.40 L198.85,282.40 L199.27,282.40 L199.69,282.40 L200.10,282.40 L200.52,282.40 L200.94,282.40 L201.35,282.40 L201.77,282.40 L202.19,282.40 L202.61,282.40 L203.02,282.40 L203.44,282.40 L203.86,282.40 L204.27,282.40 L204.69,282.40 L205.11,282.40 L205.53,282.40 L205.94,282.40 L206.36,282.40 L206.78,282.40 L207.19,282.40 L207.61,282.40 L208.03,282.40 L208.45,282.40 L208.86,282.40 L209.28,282.40 L209.70,282.40 L210.11,282.40 L210.53,282.40 L210.95,282.40 L211.37,282.40 L211.78,282.40 L212.20,282.40" fill="none" stroke="#f6902a" stroke-width="0.9" stroke-linejoin="round"/>
<path d="M153.80,294.40 L153.80,294.40 L154.22,294.40 L154.63,294.40 L155.05,294.40 L155.47,294.40 L155.89,294.40 L156.30,294.40 L156.72,294.40 L157.14,294.40 L157.55,294.40 L157.97,294.40 L158.39,294.40 L158.81,294.40 L159.22,294.40 L159.64,294.40 L160.06,294.40 L160.47,294.40 L160.89,294.40 L161.31,294.40 L161.73,294.40 L162.14,294.40 L162.56,294.40 L162.98,294.40 L163.39,294.40 L163.81,294.40 L164.23,294.40 L164.65,294.40 L165.06,294.40 L165.48,294.40 L165.90,294.40 L166.31,294.40 L166.73,294.40 L167.15,294.40 L167.57,294.40 L167.98,294.40 L168.40,294.40 L168.82,294.40 L169.23,294.40 L169.65,293.97 L170.07,292.06 L170.49,290.43 L170.90,286.36 L171.32,282.31 L171.74,278.41 L172.15,276.97 L172.57,279.89 L172.99,282.36 L173.41,284.21 L173.82,286.75 L174.24,288.43 L174.66,288.88 L175.07,289.47 L175.49,289.89 L175.91,289.90 L176.33,289.90 L176.74,289.90 L177.16,289.90 L177.58,289.90 L177.99,289.90 L178.41,289.90 L178.83,289.90 L179.25,289.90 L179.66,289.90 L180.08,289.89 L180.50,289.82 L180.91,289.72 L181.33,289.60 L181.75,289.48 L182.17,289.35 L182.58,289.22 L183.00,289.10 L183.42,289.00 L183.83,288.92 L184.25,288.80 L184.67,288.55 L185.09,288.24 L185.50,287.90 L185.92,287.56 L186.34,287.25 L186.75,287.00 L187.17,286.86 L187.59,286.70 L188.01,286.50 L188.42,286.30 L188.84,286.14 L189.26,286.13 L189.67,286.19 L190.09,286.27 L190.51,286.34 L190.93,286.39 L191.34,286.33 L191.76,286.22 L192.18,286.08 L192.59,285.93 L193.01,285.80 L193.43,285.71 L193.85,286.01 L194.26,286.57 L194.68,287.12 L195.10,287.52 L195.51,288.32 L195.93,289.35 L196.35,290.21 L196.77,290.73 L197.18,291.51 L197.60,292.35 L198.02,292.91 L198.43,293.27 L198.85,293.78 L199.27,294.24 L199.69,294.40 L200.10,294.40 L200.52,294.40 L200.94,294.40 L201.35,294.40 L201.77,294.40 L202.19,294.40 L202.61,294.40 L203.02,294.40 L203.44,294.40 L203.86,294.40 L204.27,294.40 L204.69,294.40 L205.11,294.40 L205.53,294.40 L205.94,294.40 L206.36,294.40 L206.78,294.40 L207.19,294.40 L207.61,294.40 L208.03,294.40 L208.45,294.40 L208.86,294.40 L209.28,294.40 L209.70,294.40 L210.11,294.40 L210.53,294.40 L210.95,294.40 L211.37,294.40 L211.78,294.40 L212.20,294.40 L212.20,294.40Z" fill="#8e8e8e" stroke="none" stroke-width="1" fill-opacity="0.78"/>
<path d="M153.80,294.40 L154.22,294.40 L154.63,294.40 L155.05,294.40 L155.47,294.40 L155.89,294.40 L156.30,294.40 L156.72,294.40 L157.14,294.40 L157.55,294.40 L157.97,294.40 L158.39,294.40 L158.81,294.40 L159.22,294.40 L159.64,294.40 L160.06,294.40 L160.47,294.40 L160.89,294.40 L161.31,294.40 L161.73,294.40 L162.14,294.40 L162.56,294.40 L162.98,294.40 L163.39,294.40 L163.81,294.40 L164.23,294.40 L164.65,294.40 L165.06,294.40 L165.48,294.40 L165.90,294.40 L166.31,294.40 L166.73,294.40 L167.15,294.40 L167.57,294.40 L167.98,294.40 L168.40,294.40 L168.82,294.40 L169.23,294.40 L169.65,293.97 L170.07,292.06 L170.49,290.43 L170.90,286.36 L171.32,282.31 L171.74,278.41 L172.15,276.97 L172.57,279.89 L172.99,282.36 L173.41,284.21 L173.82,286.75 L174.24,288.43 L174.66,288.88 L175.07,289.47 L175.49,289.89 L175.91,289.90 L176.33,289.90 L176.74,289.90 L177.16,289.90 L177.58,289.90 L177.99,289.90 L178.41,289.90 L178.83,289.90 L179.25,289.90 L179.66,289.90 L180.08,289.89 L180.50,289.82 L180.91,289.72 L181.33,289.60 L181.75,289.48 L182.17,289.35 L182.58,289.22 L183.00,289.10 L183.42,289.00 L183.83,288.92 L184.25,288.80 L184.67,288.55 L185.09,288.24 L185.50,287.90 L185.92,287.56 L186.34,287.25 L186.75,287.00 L187.17,286.86 L187.59,286.70 L188.01,286.50 L188.42,286.30 L188.84,286.14 L189.26,286.13 L189.67,286.19 L190.09,286.27 L190.51,286.34 L190.93,286.39 L191.34,286.33 L191.76,286.22 L192.18,286.08 L192.59,285.93 L193.01,285.80 L193.43,285.71 L193.85,286.01 L194.26,286.57 L194.68,287.12 L195.10,287.52 L195.51,288.32 L195.93,289.35 L196.35,290.21 L196.77,290.73 L197.18,291.51 L197.60,292.35 L198.02,292.91 L198.43,293.27 L198.85,293.78 L199.27,294.24 L199.69,294.40 L200.10,294.40 L200.52,294.40 L200.94,294.40 L201.35,294.40 L201.77,294.40 L202.19,294.40 L202.61,294.40 L203.02,294.40 L203.44,294.40 L203.86,294.40 L204.27,294.40 L204.69,294.40 L205.11,294.40 L205.53,294.40 L205.94,294.40 L206.36,294.40 L206.78,294.40 L207.19,294.40 L207.61,294.40 L208.03,294.40 L208.45,294.40 L208.86,294.40 L209.28,294.40 L209.70,294.40 L210.11,294.40 L210.53,294.40 L210.95,294.40 L211.37,294.40 L211.78,294.40 L212.20,294.40" fill="none" stroke="#1a1a1a" stroke-width="0.9" stroke-linejoin="round"/>
<path d="M153.80,305.60 L153.80,305.60 L154.22,305.60 L154.63,305.60 L155.05,305.60 L155.47,305.60 L155.89,305.60 L156.30,305.60 L156.72,305.60 L157.14,305.60 L157.55,305.60 L157.97,305.60 L158.39,305.60 L158.81,305.60 L159.22,305.60 L159.64,305.60 L160.06,305.60 L160.47,305.60 L160.89,305.60 L161.31,305.60 L161.73,305.60 L162.14,305.60 L162.56,305.60 L162.98,305.60 L163.39,305.60 L163.81,305.60 L164.23,305.60 L164.65,305.60 L165.06,305.60 L165.48,305.60 L165.90,305.60 L166.31,305.60 L166.73,305.60 L167.15,305.60 L167.57,305.60 L167.98,305.60 L168.40,305.60 L168.82,305.60 L169.23,305.60 L169.65,305.60 L170.07,305.48 L170.49,304.15 L170.90,302.79 L171.32,300.63 L171.74,297.12 L172.15,294.90 L172.57,291.87 L172.99,290.28 L173.41,292.52 L173.82,294.95 L174.24,296.17 L174.66,297.71 L175.07,299.40 L175.49,300.59 L175.91,301.01 L176.33,301.61 L176.74,302.18 L177.16,302.41 L177.58,302.43 L177.99,302.46 L178.41,302.49 L178.83,302.53 L179.25,302.56 L179.66,302.59 L180.08,302.58 L180.50,302.42 L180.91,302.20 L181.33,301.96 L181.75,301.70 L182.17,301.45 L182.58,301.24 L183.00,301.10 L183.42,300.86 L183.83,300.52 L184.25,300.11 L184.67,299.67 L185.09,299.26 L185.50,298.90 L185.92,298.64 L186.34,298.42 L186.75,298.08 L187.17,297.69 L187.59,297.34 L188.01,297.10 L188.42,296.69 L188.84,296.10 L189.26,295.45 L189.67,294.89 L190.09,294.49 L190.51,293.69 L190.93,292.67 L191.34,291.80 L191.76,291.37 L192.18,290.80 L192.59,290.14 L193.01,289.56 L193.43,289.41 L193.85,289.95 L194.26,290.64 L194.68,291.28 L195.10,291.83 L195.51,293.44 L195.93,295.50 L196.35,297.21 L196.77,298.25 L197.18,299.82 L197.60,301.49 L198.02,302.62 L198.43,303.34 L198.85,304.35 L199.27,305.27 L199.69,305.60 L200.10,305.60 L200.52,305.60 L200.94,305.60 L201.35,305.60 L201.77,305.60 L202.19,305.60 L202.61,305.60 L203.02,305.60 L203.44,305.60 L203.86,305.60 L204.27,305.60 L204.69,305.60 L205.11,305.60 L205.53,305.60 L205.94,305.60 L206.36,305.60 L206.78,305.60 L207.19,305.60 L207.61,305.60 L208.03,305.60 L208.45,305.60 L208.86,305.60 L209.28,305.60 L209.70,305.60 L210.11,305.60 L210.53,305.60 L210.95,305.60 L211.37,305.60 L211.78,305.60 L212.20,305.60 L212.20,305.60Z" fill="#8e8e8e" stroke="none" stroke-width="1" fill-opacity="0.85"/>
<path d="M153.80,305.60 L154.22,305.60 L154.63,305.60 L155.05,305.60 L155.47,305.60 L155.89,305.60 L156.30,305.60 L156.72,305.60 L157.14,305.60 L157.55,305.60 L157.97,305.60 L158.39,305.60 L158.81,305.60 L159.22,305.60 L159.64,305.60 L160.06,305.60 L160.47,305.60 L160.89,305.60 L161.31,305.60 L161.73,305.60 L162.14,305.60 L162.56,305.60 L162.98,305.60 L163.39,305.60 L163.81,305.60 L164.23,305.60 L164.65,305.60 L165.06,305.60 L165.48,305.60 L165.90,305.60 L166.31,305.60 L166.73,305.60 L167.15,305.60 L167.57,305.60 L167.98,305.60 L168.40,305.60 L168.82,305.60 L169.23,305.60 L169.65,305.60 L170.07,305.48 L170.49,304.15 L170.90,302.79 L171.32,300.63 L171.74,297.12 L172.15,294.90 L172.57,291.87 L172.99,290.28 L173.41,292.52 L173.82,294.95 L174.24,296.17 L174.66,297.71 L175.07,299.40 L175.49,300.59 L175.91,301.01 L176.33,301.61 L176.74,302.18 L177.16,302.41 L177.58,302.43 L177.99,302.46 L178.41,302.49 L178.83,302.53 L179.25,302.56 L179.66,302.59 L180.08,302.58 L180.50,302.42 L180.91,302.20 L181.33,301.96 L181.75,301.70 L182.17,301.45 L182.58,301.24 L183.00,301.10 L183.42,300.86 L183.83,300.52 L184.25,300.11 L184.67,299.67 L185.09,299.26 L185.50,298.90 L185.92,298.64 L186.34,298.42 L186.75,298.08 L187.17,297.69 L187.59,297.34 L188.01,297.10 L188.42,296.69 L188.84,296.10 L189.26,295.45 L189.67,294.89 L190.09,294.49 L190.51,293.69 L190.93,292.67 L191.34,291.80 L191.76,291.37 L192.18,290.80 L192.59,290.14 L193.01,289.56 L193.43,289.41 L193.85,289.95 L194.26,290.64 L194.68,291.28 L195.10,291.83 L195.51,293.44 L195.93,295.50 L196.35,297.21 L196.77,298.25 L197.18,299.82 L197.60,301.49 L198.02,302.62 L198.43,303.34 L198.85,304.35 L199.27,305.27 L199.69,305.60 L200.10,305.60 L200.52,305.60 L200.94,305.60 L201.35,305.60 L201.77,305.60 L202.19,305.60 L202.61,305.60 L203.02,305.60 L203.44,305.60 L203.86,305.60 L204.27,305.60 L204.69,305.60 L205.11,305.60 L205.53,305.60 L205.94,305.60 L206.36,305.60 L206.78,305.60 L207.19,305.60 L207.61,305.60 L208.03,305.60 L208.45,305.60 L208.86,305.60 L209.28,305.60 L209.70,305.60 L210.11,305.60 L210.53,305.60 L210.95,305.60 L211.37,305.60 L211.78,305.60 L212.20,305.60" fill="none" stroke="#1a1a1a" stroke-width="0.9" stroke-linejoin="round"/>
<rect x="153.3" y="246.2" width="59.39999999999998" height="59.400000000000034" fill="none" stroke="#555" stroke-width="0.7"/>
<line x1="168.15" y1="305.6" x2="168.15" y2="306.90000000000003" stroke="#444" stroke-width="0.4"/>
<line x1="167.35" y1="308.6" x2="168.95000000000002" y2="308.6" stroke="#aaa" stroke-width="0.5"/>
<line x1="188.94" y1="305.6" x2="188.94" y2="306.90000000000003" stroke="#444" stroke-width="0.4"/>
<line x1="188.14" y1="308.6" x2="189.74" y2="308.6" stroke="#aaa" stroke-width="0.5"/>
<line x1="204.978" y1="305.6" x2="204.978" y2="306.90000000000003" stroke="#444" stroke-width="0.4"/>
<line x1="204.178" y1="308.6" x2="205.77800000000002" y2="308.6" stroke="#aaa" stroke-width="0.5"/>
<line x1="155.3" y1="305.6" x2="155.3" y2="306.6" stroke="#666" stroke-width="0.3"/>
<line x1="156.10000000000002" y1="305.6" x2="156.10000000000002" y2="306.6" stroke="#666" stroke-width="0.3"/>
<line x1="156.9" y1="305.6" x2="156.9" y2="306.6" stroke="#666" stroke-width="0.3"/>
<line x1="157.70000000000002" y1="305.6" x2="157.70000000000002" y2="306.6" stroke="#666" stroke-width="0.3"/>
<line x1="158.5" y1="305.6" x2="158.5" y2="306.6" stroke="#666" stroke-width="0.3"/>
<line x1="159.3" y1="305.6" x2="159.3" y2="306.6" stroke="#666" stroke-width="0.3"/>
<line x1="160.10000000000002" y1="305.6" x2="160.10000000000002" y2="306.6" stroke="#666" stroke-width="0.3"/>
<line x1="160.9" y1="305.6" x2="160.9" y2="306.6" stroke="#666" stroke-width="0.3"/>
<line x1="161.70000000000002" y1="305.6" x2="161.70000000000002" y2="306.6" stroke="#666" stroke-width="0.3"/>
<line x1="162.5" y1="305.6" x2="162.5" y2="306.6" stroke="#666" stroke-width="0.3"/>
<rect x="215.2" y="246.2" width="59.30000000000001" height="59.400000000000034" fill="#fff" stroke="none" stroke-width="1"/>
<path d="M215.70,270.50 L215.70,270.50 L216.12,270.50 L216.53,270.50 L216.95,270.50 L217.37,270.50 L217.78,270.50 L218.20,270.50 L218.61,270.50 L219.03,270.50 L219.45,270.50 L219.86,270.50 L220.28,270.50 L220.70,270.50 L221.11,270.50 L221.53,270.50 L221.95,270.50 L222.36,270.50 L222.78,270.50 L223.20,270.50 L223.61,270.50 L224.03,270.50 L224.44,270.50 L224.86,270.50 L225.28,270.50 L225.69,270.50 L226.11,270.50 L226.53,270.50 L226.94,270.50 L227.36,270.50 L227.78,270.50 L228.19,270.50 L228.61,270.50 L229.03,270.50 L229.44,270.50 L229.86,270.50 L230.27,270.50 L230.69,270.50 L231.11,270.50 L231.52,270.50 L231.94,270.50 L232.36,270.50 L232.77,270.50 L233.19,270.50 L233.61,270.50 L234.02,270.50 L234.44,270.50 L234.86,270.50 L235.27,270.50 L235.69,270.50 L236.10,270.50 L236.52,270.50 L236.94,270.50 L237.35,270.50 L237.77,270.50 L238.19,270.50 L238.60,270.50 L239.02,270.50 L239.44,270.50 L239.85,270.50 L240.27,270.50 L240.69,270.50 L241.10,270.50 L241.52,270.50 L241.94,270.50 L242.35,270.50 L242.77,270.50 L243.18,270.50 L243.60,270.50 L244.02,270.50 L244.43,270.50 L244.85,270.50 L245.27,270.49 L245.68,270.49 L246.10,270.48 L246.52,270.47 L246.93,270.45 L247.35,270.42 L247.76,270.38 L248.18,270.31 L248.60,270.21 L249.01,270.08 L249.43,269.88 L249.85,269.62 L250.26,269.27 L250.68,268.82 L251.10,268.24 L251.51,267.51 L251.93,266.63 L252.35,265.59 L252.76,264.38 L253.18,263.03 L253.59,261.54 L254.01,259.97 L254.43,258.36 L254.84,256.77 L255.26,255.26 L255.68,253.91 L256.09,252.79 L256.51,251.95 L256.93,251.45 L257.34,251.30 L257.76,251.60 L258.18,252.36 L258.59,253.53 L259.01,255.03 L259.43,256.75 L259.84,258.59 L260.26,260.45 L260.67,262.23 L261.09,263.87 L261.51,265.32 L261.92,266.55 L262.34,267.57 L262.76,268.38 L263.17,269.00 L263.59,269.47 L264.01,269.81 L264.42,270.05 L264.84,270.21 L265.25,270.32 L265.67,270.39 L266.09,270.44 L266.50,270.46 L266.92,270.48 L267.34,270.49 L267.75,270.49 L268.17,270.50 L268.59,270.50 L269.00,270.50 L269.42,270.50 L269.84,270.50 L270.25,270.50 L270.67,270.50 L271.08,270.50 L271.50,270.50 L271.92,270.50 L272.33,270.50 L272.75,270.50 L273.17,270.50 L273.58,270.50 L274.00,270.50 L274.00,270.50Z" fill="#a6e9ec" stroke="none" stroke-width="1" fill-opacity="0.9"/>
<path d="M215.70,270.50 L216.12,270.50 L216.53,270.50 L216.95,270.50 L217.37,270.50 L217.78,270.50 L218.20,270.50 L218.61,270.50 L219.03,270.50 L219.45,270.50 L219.86,270.50 L220.28,270.50 L220.70,270.50 L221.11,270.50 L221.53,270.50 L221.95,270.50 L222.36,270.50 L222.78,270.50 L223.20,270.50 L223.61,270.50 L224.03,270.50 L224.44,270.50 L224.86,270.50 L225.28,270.50 L225.69,270.50 L226.11,270.50 L226.53,270.50 L226.94,270.50 L227.36,270.50 L227.78,270.50 L228.19,270.50 L228.61,270.50 L229.03,270.50 L229.44,270.50 L229.86,270.50 L230.27,270.50 L230.69,270.50 L231.11,270.50 L231.52,270.50 L231.94,270.50 L232.36,270.50 L232.77,270.50 L233.19,270.50 L233.61,270.50 L234.02,270.50 L234.44,270.50 L234.86,270.50 L235.27,270.50 L235.69,270.50 L236.10,270.50 L236.52,270.50 L236.94,270.50 L237.35,270.50 L237.77,270.50 L238.19,270.50 L238.60,270.50 L239.02,270.50 L239.44,270.50 L239.85,270.50 L240.27,270.50 L240.69,270.50 L241.10,270.50 L241.52,270.50 L241.94,270.50 L242.35,270.50 L242.77,270.50 L243.18,270.50 L243.60,270.50 L244.02,270.50 L244.43,270.50 L244.85,270.50 L245.27,270.49 L245.68,270.49 L246.10,270.48 L246.52,270.47 L246.93,270.45 L247.35,270.42 L247.76,270.38 L248.18,270.31 L248.60,270.21 L249.01,270.08 L249.43,269.88 L249.85,269.62 L250.26,269.27 L250.68,268.82 L251.10,268.24 L251.51,267.51 L251.93,266.63 L252.35,265.59 L252.76,264.38 L253.18,263.03 L253.59,261.54 L254.01,259.97 L254.43,258.36 L254.84,256.77 L255.26,255.26 L255.68,253.91 L256.09,252.79 L256.51,251.95 L256.93,251.45 L257.34,251.30 L257.76,251.60 L258.18,252.36 L258.59,253.53 L259.01,255.03 L259.43,256.75 L259.84,258.59 L260.26,260.45 L260.67,262.23 L261.09,263.87 L261.51,265.32 L261.92,266.55 L262.34,267.57 L262.76,268.38 L263.17,269.00 L263.59,269.47 L264.01,269.81 L264.42,270.05 L264.84,270.21 L265.25,270.32 L265.67,270.39 L266.09,270.44 L266.50,270.46 L266.92,270.48 L267.34,270.49 L267.75,270.49 L268.17,270.50 L268.59,270.50 L269.00,270.50 L269.42,270.50 L269.84,270.50 L270.25,270.50 L270.67,270.50 L271.08,270.50 L271.50,270.50 L271.92,270.50 L272.33,270.50 L272.75,270.50 L273.17,270.50 L273.58,270.50 L274.00,270.50" fill="none" stroke="#3ccfd6" stroke-width="0.9" stroke-linejoin="round"/>
<path d="M215.70,282.40 L215.70,282.40 L216.12,282.40 L216.53,282.40 L216.95,282.40 L217.37,282.40 L217.78,282.40 L218.20,282.40 L218.61,282.40 L219.03,282.40 L219.45,282.40 L219.86,282.40 L220.28,282.40 L220.70,282.40 L221.11,282.40 L221.53,282.40 L221.95,282.40 L222.36,282.40 L222.78,282.40 L223.20,282.40 L223.61,282.40 L224.03,282.40 L224.44,282.40 L224.86,282.40 L225.28,282.40 L225.69,282.40 L226.11,282.40 L226.53,282.40 L226.94,282.40 L227.36,282.40 L227.78,282.40 L228.19,282.40 L228.61,282.40 L229.03,282.40 L229.44,282.40 L229.86,282.40 L230.27,282.40 L230.69,282.40 L231.11,282.40 L231.52,282.40 L231.94,282.40 L232.36,282.40 L232.77,282.40 L233.19,282.40 L233.61,282.40 L234.02,282.40 L234.44,282.40 L234.86,282.40 L235.27,282.39 L235.69,282.39 L236.10,282.39 L236.52,282.38 L236.94,282.38 L237.35,282.37 L237.77,282.36 L238.19,282.34 L238.60,282.32 L239.02,282.29 L239.44,282.26 L239.85,282.21 L240.27,282.15 L240.69,282.08 L241.10,281.99 L241.52,281.88 L241.94,281.74 L242.35,281.57 L242.77,281.37 L243.18,281.12 L243.60,280.84 L244.02,280.50 L244.43,280.11 L244.85,279.67 L245.27,279.16 L245.68,278.59 L246.10,277.96 L246.52,277.26 L246.93,276.50 L247.35,275.69 L247.76,274.83 L248.18,273.93 L248.60,272.99 L249.01,272.04 L249.43,271.09 L249.85,270.15 L250.26,269.24 L250.68,268.37 L251.10,267.58 L251.51,266.86 L251.93,266.24 L252.35,265.74 L252.76,265.36 L253.18,265.11 L253.59,265.00 L254.01,265.15 L254.43,265.78 L254.84,266.87 L255.26,268.32 L255.68,270.01 L256.09,271.82 L256.51,273.63 L256.93,275.35 L257.34,276.90 L257.76,278.24 L258.18,279.34 L258.59,280.22 L259.01,280.89 L259.43,281.39 L259.84,281.74 L260.26,281.98 L260.67,282.14 L261.09,282.25 L261.51,282.31 L261.92,282.35 L262.34,282.37 L262.76,282.39 L263.17,282.39 L263.59,282.40 L264.01,282.40 L264.42,282.40 L264.84,282.40 L265.25,282.40 L265.67,282.40 L266.09,282.40 L266.50,282.40 L266.92,282.40 L267.34,282.40 L267.75,282.40 L268.17,282.40 L268.59,282.40 L269.00,282.40 L269.42,282.40 L269.84,282.40 L270.25,282.40 L270.67,282.40 L271.08,282.40 L271.50,282.40 L271.92,282.40 L272.33,282.40 L272.75,282.40 L273.17,282.40 L273.58,282.40 L274.00,282.40 L274.00,282.40Z" fill="#f9c796" stroke="none" stroke-width="1" fill-opacity="0.8"/>
<path d="M215.70,282.40 L216.12,282.40 L216.53,282.40 L216.95,282.40 L217.37,282.40 L217.78,282.40 L218.20,282.40 L218.61,282.40 L219.03,282.40 L219.45,282.40 L219.86,282.40 L220.28,282.40 L220.70,282.40 L221.11,282.40 L221.53,282.40 L221.95,282.40 L222.36,282.40 L222.78,282.40 L223.20,282.40 L223.61,282.40 L224.03,282.40 L224.44,282.40 L224.86,282.40 L225.28,282.40 L225.69,282.40 L226.11,282.40 L226.53,282.40 L226.94,282.40 L227.36,282.40 L227.78,282.40 L228.19,282.40 L228.61,282.40 L229.03,282.40 L229.44,282.40 L229.86,282.40 L230.27,282.40 L230.69,282.40 L231.11,282.40 L231.52,282.40 L231.94,282.40 L232.36,282.40 L232.77,282.40 L233.19,282.40 L233.61,282.40 L234.02,282.40 L234.44,282.40 L234.86,282.40 L235.27,282.39 L235.69,282.39 L236.10,282.39 L236.52,282.38 L236.94,282.38 L237.35,282.37 L237.77,282.36 L238.19,282.34 L238.60,282.32 L239.02,282.29 L239.44,282.26 L239.85,282.21 L240.27,282.15 L240.69,282.08 L241.10,281.99 L241.52,281.88 L241.94,281.74 L242.35,281.57 L242.77,281.37 L243.18,281.12 L243.60,280.84 L244.02,280.50 L244.43,280.11 L244.85,279.67 L245.27,279.16 L245.68,278.59 L246.10,277.96 L246.52,277.26 L246.93,276.50 L247.35,275.69 L247.76,274.83 L248.18,273.93 L248.60,272.99 L249.01,272.04 L249.43,271.09 L249.85,270.15 L250.26,269.24 L250.68,268.37 L251.10,267.58 L251.51,266.86 L251.93,266.24 L252.35,265.74 L252.76,265.36 L253.18,265.11 L253.59,265.00 L254.01,265.15 L254.43,265.78 L254.84,266.87 L255.26,268.32 L255.68,270.01 L256.09,271.82 L256.51,273.63 L256.93,275.35 L257.34,276.90 L257.76,278.24 L258.18,279.34 L258.59,280.22 L259.01,280.89 L259.43,281.39 L259.84,281.74 L260.26,281.98 L260.67,282.14 L261.09,282.25 L261.51,282.31 L261.92,282.35 L262.34,282.37 L262.76,282.39 L263.17,282.39 L263.59,282.40 L264.01,282.40 L264.42,282.40 L264.84,282.40 L265.25,282.40 L265.67,282.40 L266.09,282.40 L266.50,282.40 L266.92,282.40 L267.34,282.40 L267.75,282.40 L268.17,282.40 L268.59,282.40 L269.00,282.40 L269.42,282.40 L269.84,282.40 L270.25,282.40 L270.67,282.40 L271.08,282.40 L271.50,282.40 L271.92,282.40 L272.33,282.40 L272.75,282.40 L273.17,282.40 L273.58,282.40 L274.00,282.40" fill="none" stroke="#f6902a" stroke-width="0.9" stroke-linejoin="round"/>
<path d="M215.70,294.40 L215.70,294.40 L216.12,294.40 L216.53,294.40 L216.95,294.40 L217.37,294.40 L217.78,294.40 L218.20,294.40 L218.61,294.40 L219.03,294.40 L219.45,294.40 L219.86,294.40 L220.28,294.40 L220.70,294.40 L221.11,294.40 L221.53,294.40 L221.95,294.40 L222.36,294.40 L222.78,294.40 L223.20,294.40 L223.61,294.40 L224.03,294.40 L224.44,294.40 L224.86,294.40 L225.28,294.40 L225.69,294.40 L226.11,294.40 L226.53,294.40 L226.94,294.40 L227.36,294.40 L227.78,294.40 L228.19,294.40 L228.61,294.40 L229.03,294.40 L229.44,294.40 L229.86,294.40 L230.27,294.40 L230.69,294.40 L231.11,294.40 L231.52,294.40 L231.94,294.40 L232.36,294.40 L232.77,294.40 L233.19,294.40 L233.61,294.40 L234.02,294.40 L234.44,294.40 L234.86,294.40 L235.27,294.40 L235.69,294.40 L236.10,294.40 L236.52,294.40 L236.94,294.40 L237.35,294.40 L237.77,294.40 L238.19,294.40 L238.60,294.40 L239.02,294.40 L239.44,294.40 L239.85,294.40 L240.27,294.40 L240.69,294.40 L241.10,294.40 L241.52,294.40 L241.94,294.40 L242.35,294.40 L242.77,294.40 L243.18,294.40 L243.60,294.40 L244.02,294.40 L244.43,294.40 L244.85,294.40 L245.27,294.40 L245.68,294.40 L246.10,294.40 L246.52,294.40 L246.93,294.40 L247.35,294.40 L247.76,294.40 L248.18,294.40 L248.60,294.39 L249.01,294.39 L249.43,294.38 L249.85,294.36 L250.26,294.33 L250.68,294.27 L251.10,294.17 L251.51,294.02 L251.93,293.76 L252.35,293.38 L252.76,292.80 L253.18,291.98 L253.59,290.87 L254.01,289.45 L254.43,287.72 L254.84,285.77 L255.26,283.71 L255.68,281.69 L256.09,279.84 L256.51,278.30 L256.93,277.15 L257.34,276.44 L257.76,276.18 L258.18,276.35 L258.59,276.99 L259.01,278.11 L259.43,279.62 L259.84,281.42 L260.26,283.37 L260.67,285.34 L261.09,287.22 L261.51,288.90 L261.92,290.34 L262.34,291.51 L262.76,292.41 L263.17,293.08 L263.59,293.55 L264.01,293.88 L264.42,294.09 L264.84,294.22 L265.25,294.30 L265.67,294.35 L266.09,294.37 L266.50,294.39 L266.92,294.39 L267.34,294.40 L267.75,294.40 L268.17,294.40 L268.59,294.40 L269.00,294.40 L269.42,294.40 L269.84,294.40 L270.25,294.40 L270.67,294.40 L271.08,294.40 L271.50,294.40 L271.92,294.40 L272.33,294.40 L272.75,294.40 L273.17,294.40 L273.58,294.40 L274.00,294.40 L274.00,294.40Z" fill="#8e8e8e" stroke="none" stroke-width="1" fill-opacity="0.78"/>
<path d="M215.70,294.40 L216.12,294.40 L216.53,294.40 L216.95,294.40 L217.37,294.40 L217.78,294.40 L218.20,294.40 L218.61,294.40 L219.03,294.40 L219.45,294.40 L219.86,294.40 L220.28,294.40 L220.70,294.40 L221.11,294.40 L221.53,294.40 L221.95,294.40 L222.36,294.40 L222.78,294.40 L223.20,294.40 L223.61,294.40 L224.03,294.40 L224.44,294.40 L224.86,294.40 L225.28,294.40 L225.69,294.40 L226.11,294.40 L226.53,294.40 L226.94,294.40 L227.36,294.40 L227.78,294.40 L228.19,294.40 L228.61,294.40 L229.03,294.40 L229.44,294.40 L229.86,294.40 L230.27,294.40 L230.69,294.40 L231.11,294.40 L231.52,294.40 L231.94,294.40 L232.36,294.40 L232.77,294.40 L233.19,294.40 L233.61,294.40 L234.02,294.40 L234.44,294.40 L234.86,294.40 L235.27,294.40 L235.69,294.40 L236.10,294.40 L236.52,294.40 L236.94,294.40 L237.35,294.40 L237.77,294.40 L238.19,294.40 L238.60,294.40 L239.02,294.40 L239.44,294.40 L239.85,294.40 L240.27,294.40 L240.69,294.40 L241.10,294.40 L241.52,294.40 L241.94,294.40 L242.35,294.40 L242.77,294.40 L243.18,294.40 L243.60,294.40 L244.02,294.40 L244.43,294.40 L244.85,294.40 L245.27,294.40 L245.68,294.40 L246.10,294.40 L246.52,294.40 L246.93,294.40 L247.35,294.40 L247.76,294.40 L248.18,294.40 L248.60,294.39 L249.01,294.39 L249.43,294.38 L249.85,294.36 L250.26,294.33 L250.68,294.27 L251.10,294.17 L251.51,294.02 L251.93,293.76 L252.35,293.38 L252.76,292.80 L253.18,291.98 L253.59,290.87 L254.01,289.45 L254.43,287.72 L254.84,285.77 L255.26,283.71 L255.68,281.69 L256.09,279.84 L256.51,278.30 L256.93,277.15 L257.34,276.44 L257.76,276.18 L258.18,276.35 L258.59,276.99 L259.01,278.11 L259.43,279.62 L259.84,281.42 L260.26,283.37 L260.67,285.34 L261.09,287.22 L261.51,288.90 L261.92,290.34 L262.34,291.51 L262.76,292.41 L263.17,293.08 L263.59,293.55 L264.01,293.88 L264.42,294.09 L264.84,294.22 L265.25,294.30 L265.67,294.35 L266.09,294.37 L266.50,294.39 L266.92,294.39 L267.34,294.40 L267.75,294.40 L268.17,294.40 L268.59,294.40 L269.00,294.40 L269.42,294.40 L269.84,294.40 L270.25,294.40 L270.67,294.40 L271.08,294.40 L271.50,294.40 L271.92,294.40 L272.33,294.40 L272.75,294.40 L273.17,294.40 L273.58,294.40 L274.00,294.40" fill="none" stroke="#1a1a1a" stroke-width="0.9" stroke-linejoin="round"/>
<path d="M215.70,305.60 L215.70,305.60 L216.12,305.60 L216.53,305.60 L216.95,305.60 L217.37,305.60 L217.78,305.60 L218.20,305.60 L218.61,305.60 L219.03,305.60 L219.45,305.60 L219.86,305.60 L220.28,305.60 L220.70,305.60 L221.11,305.60 L221.53,305.60 L221.95,305.60 L222.36,305.60 L222.78,305.60 L223.20,305.60 L223.61,305.60 L224.03,305.60 L224.44,305.60 L224.86,305.60 L225.28,305.60 L225.69,305.60 L226.11,305.60 L226.53,305.60 L226.94,305.60 L227.36,305.60 L227.78,305.60 L228.19,305.60 L228.61,305.60 L229.03,305.60 L229.44,305.60 L229.86,305.60 L230.27,305.60 L230.69,305.60 L231.11,305.60 L231.52,305.60 L231.94,305.60 L232.36,305.60 L232.77,305.60 L233.19,305.60 L233.61,305.60 L234.02,305.60 L234.44,305.60 L234.86,305.60 L235.27,305.60 L235.69,305.60 L236.10,305.60 L236.52,305.60 L236.94,305.60 L237.35,305.60 L237.77,305.60 L238.19,305.60 L238.60,305.60 L239.02,305.60 L239.44,305.60 L239.85,305.60 L240.27,305.60 L240.69,305.60 L241.10,305.60 L241.52,305.60 L241.94,305.60 L242.35,305.60 L242.77,305.60 L243.18,305.60 L243.60,305.60 L244.02,305.60 L244.43,305.60 L244.85,305.60 L245.27,305.60 L245.68,305.60 L246.10,305.60 L246.52,305.60 L246.93,305.59 L247.35,305.59 L247.76,305.58 L248.18,305.57 L248.60,305.54 L249.01,305.50 L249.43,305.44 L249.85,305.34 L250.26,305.20 L250.68,304.99 L251.10,304.69 L251.51,304.29 L251.93,303.75 L252.35,303.06 L252.76,302.20 L253.18,301.16 L253.59,299.95 L254.01,298.59 L254.43,297.12 L254.84,295.61 L255.26,294.13 L255.68,292.76 L256.09,291.59 L256.51,290.70 L256.93,290.16 L257.34,290.00 L257.76,290.28 L258.18,291.00 L258.59,292.10 L259.01,293.49 L259.43,295.06 L259.84,296.70 L260.26,298.30 L260.67,299.79 L261.09,301.12 L261.51,302.24 L261.92,303.16 L262.34,303.88 L262.76,304.42 L263.17,304.82 L263.59,305.10 L264.01,305.29 L264.42,305.41 L264.84,305.49 L265.25,305.54 L265.67,305.56 L266.09,305.58 L266.50,305.59 L266.92,305.59 L267.34,305.60 L267.75,305.60 L268.17,305.60 L268.59,305.60 L269.00,305.60 L269.42,305.60 L269.84,305.60 L270.25,305.60 L270.67,305.60 L271.08,305.60 L271.50,305.60 L271.92,305.60 L272.33,305.60 L272.75,305.60 L273.17,305.60 L273.58,305.60 L274.00,305.60 L274.00,305.60Z" fill="#8e8e8e" stroke="none" stroke-width="1" fill-opacity="0.85"/>
<path d="M215.70,305.60 L216.12,305.60 L216.53,305.60 L216.95,305.60 L217.37,305.60 L217.78,305.60 L218.20,305.60 L218.61,305.60 L219.03,305.60 L219.45,305.60 L219.86,305.60 L220.28,305.60 L220.70,305.60 L221.11,305.60 L221.53,305.60 L221.95,305.60 L222.36,305.60 L222.78,305.60 L223.20,305.60 L223.61,305.60 L224.03,305.60 L224.44,305.60 L224.86,305.60 L225.28,305.60 L225.69,305.60 L226.11,305.60 L226.53,305.60 L226.94,305.60 L227.36,305.60 L227.78,305.60 L228.19,305.60 L228.61,305.60 L229.03,305.60 L229.44,305.60 L229.86,305.60 L230.27,305.60 L230.69,305.60 L231.11,305.60 L231.52,305.60 L231.94,305.60 L232.36,305.60 L232.77,305.60 L233.19,305.60 L233.61,305.60 L234.02,305.60 L234.44,305.60 L234.86,305.60 L235.27,305.60 L235.69,305.60 L236.10,305.60 L236.52,305.60 L236.94,305.60 L237.35,305.60 L237.77,305.60 L238.19,305.60 L238.60,305.60 L239.02,305.60 L239.44,305.60 L239.85,305.60 L240.27,305.60 L240.69,305.60 L241.10,305.60 L241.52,305.60 L241.94,305.60 L242.35,305.60 L242.77,305.60 L243.18,305.60 L243.60,305.60 L244.02,305.60 L244.43,305.60 L244.85,305.60 L245.27,305.60 L245.68,305.60 L246.10,305.60 L246.52,305.60 L246.93,305.59 L247.35,305.59 L247.76,305.58 L248.18,305.57 L248.60,305.54 L249.01,305.50 L249.43,305.44 L249.85,305.34 L250.26,305.20 L250.68,304.99 L251.10,304.69 L251.51,304.29 L251.93,303.75 L252.35,303.06 L252.76,302.20 L253.18,301.16 L253.59,299.95 L254.01,298.59 L254.43,297.12 L254.84,295.61 L255.26,294.13 L255.68,292.76 L256.09,291.59 L256.51,290.70 L256.93,290.16 L257.34,290.00 L257.76,290.28 L258.18,291.00 L258.59,292.10 L259.01,293.49 L259.43,295.06 L259.84,296.70 L260.26,298.30 L260.67,299.79 L261.09,301.12 L261.51,302.24 L261.92,303.16 L262.34,303.88 L262.76,304.42 L263.17,304.82 L263.59,305.10 L264.01,305.29 L264.42,305.41 L264.84,305.49 L265.25,305.54 L265.67,305.56 L266.09,305.58 L266.50,305.59 L266.92,305.59 L267.34,305.60 L267.75,305.60 L268.17,305.60 L268.59,305.60 L269.00,305.60 L269.42,305.60 L269.84,305.60 L270.25,305.60 L270.67,305.60 L271.08,305.60 L271.50,305.60 L271.92,305.60 L272.33,305.60 L272.75,305.60 L273.17,305.60 L273.58,305.60 L274.00,305.60" fill="none" stroke="#1a1a1a" stroke-width="0.9" stroke-linejoin="round"/>
<rect x="215.2" y="246.2" width="59.30000000000001" height="59.400000000000034" fill="none" stroke="#555" stroke-width="0.7"/>
<line x1="230.02499999999998" y1="305.6" x2="230.02499999999998" y2="306.90000000000003" stroke="#444" stroke-width="0.4"/>
<line x1="229.22499999999997" y1="308.6" x2="230.825" y2="308.6" stroke="#aaa" stroke-width="0.5"/>
<line x1="250.78" y1="305.6" x2="250.78" y2="306.90000000000003" stroke="#444" stroke-width="0.4"/>
<line x1="249.98" y1="308.6" x2="251.58" y2="308.6" stroke="#aaa" stroke-width="0.5"/>
<line x1="266.791" y1="305.6" x2="266.791" y2="306.90000000000003" stroke="#444" stroke-width="0.4"/>
<line x1="265.991" y1="308.6" x2="267.591" y2="308.6" stroke="#aaa" stroke-width="0.5"/>
<line x1="217.2" y1="305.6" x2="217.2" y2="306.6" stroke="#666" stroke-width="0.3"/>
<line x1="218.0" y1="305.6" x2="218.0" y2="306.6" stroke="#666" stroke-width="0.3"/>
<line x1="218.79999999999998" y1="305.6" x2="218.79999999999998" y2="306.6" stroke="#666" stroke-width="0.3"/>
<line x1="219.6" y1="305.6" x2="219.6" y2="306.6" stroke="#666" stroke-width="0.3"/>
<line x1="220.39999999999998" y1="305.6" x2="220.39999999999998" y2="306.6" stroke="#666" stroke-width="0.3"/>
<line x1="221.2" y1="305.6" x2="221.2" y2="306.6" stroke="#666" stroke-width="0.3"/>
<line x1="222.0" y1="305.6" x2="222.0" y2="306.6" stroke="#666" stroke-width="0.3"/>
<line x1="222.79999999999998" y1="305.6" x2="222.79999999999998" y2="306.6" stroke="#666" stroke-width="0.3"/>
<line x1="223.6" y1="305.6" x2="223.6" y2="306.6" stroke="#666" stroke-width="0.3"/>
<line x1="224.39999999999998" y1="305.6" x2="224.39999999999998" y2="306.6" stroke="#666" stroke-width="0.3"/>
<rect x="276.6" y="246.2" width="59.39999999999998" height="59.400000000000034" fill="#fff" stroke="none" stroke-width="1"/>
<path d="M277.10,270.50 L277.10,270.50 L277.52,270.50 L277.93,270.50 L278.35,270.50 L278.77,270.50 L279.19,270.50 L279.60,270.50 L280.02,270.50 L280.44,270.50 L280.85,270.50 L281.27,270.50 L281.69,270.50 L282.11,270.50 L282.52,270.50 L282.94,270.50 L283.36,270.50 L283.77,270.50 L284.19,270.50 L284.61,270.50 L285.03,270.50 L285.44,270.50 L285.86,270.50 L286.28,270.50 L286.69,270.50 L287.11,270.50 L287.53,270.50 L287.95,270.50 L288.36,270.50 L288.78,270.50 L289.20,270.50 L289.61,270.50 L290.03,270.50 L290.45,270.50 L290.87,270.50 L291.28,270.50 L291.70,270.50 L292.12,270.50 L292.53,270.50 L292.95,270.50 L293.37,270.50 L293.79,270.50 L294.20,270.50 L294.62,270.50 L295.04,270.50 L295.45,270.50 L295.87,270.50 L296.29,270.50 L296.71,270.50 L297.12,270.50 L297.54,270.50 L297.96,270.50 L298.37,270.50 L298.79,270.50 L299.21,270.47 L299.63,270.39 L300.04,270.29 L300.46,270.17 L300.88,270.04 L301.29,269.91 L301.71,269.78 L302.13,269.67 L302.55,269.57 L302.96,269.50 L303.38,269.41 L303.80,269.27 L304.21,269.11 L304.63,268.92 L305.05,268.73 L305.47,268.53 L305.88,268.35 L306.30,268.19 L306.72,268.06 L307.13,267.95 L307.55,267.73 L307.97,267.43 L308.39,267.10 L308.80,266.75 L309.22,266.43 L309.64,266.16 L310.05,265.97 L310.47,265.66 L310.89,265.24 L311.31,264.74 L311.72,264.22 L312.14,263.73 L312.56,263.31 L312.97,263.01 L313.39,262.63 L313.81,262.05 L314.23,261.40 L314.64,260.83 L315.06,260.45 L315.48,259.93 L315.89,259.20 L316.31,258.43 L316.73,257.78 L317.15,257.44 L317.56,257.15 L317.98,256.81 L318.40,256.54 L318.81,256.14 L319.23,255.43 L319.65,254.62 L320.07,253.95 L320.48,253.84 L320.90,254.35 L321.32,254.86 L321.73,254.90 L322.15,254.62 L322.57,254.29 L322.99,254.04 L323.40,254.34 L323.82,255.04 L324.24,255.72 L324.65,256.30 L325.07,257.59 L325.49,259.13 L325.91,260.33 L326.32,261.25 L326.74,262.71 L327.16,264.19 L327.57,265.10 L327.99,266.01 L328.41,267.21 L328.83,268.23 L329.24,268.81 L329.66,269.62 L330.08,270.37 L330.49,270.50 L330.91,270.50 L331.33,270.50 L331.75,270.50 L332.16,270.50 L332.58,270.50 L333.00,270.50 L333.41,270.50 L333.83,270.50 L334.25,270.50 L334.67,270.50 L335.08,270.50 L335.50,270.50 L335.50,270.50Z" fill="#a6e9ec" stroke="none" stroke-width="1" fill-opacity="0.9"/>
<path d="M277.10,270.50 L277.52,270.50 L277.93,270.50 L278.35,270.50 L278.77,270.50 L279.19,270.50 L279.60,270.50 L280.02,270.50 L280.44,270.50 L280.85,270.50 L281.27,270.50 L281.69,270.50 L282.11,270.50 L282.52,270.50 L282.94,270.50 L283.36,270.50 L283.77,270.50 L284.19,270.50 L284.61,270.50 L285.03,270.50 L285.44,270.50 L285.86,270.50 L286.28,270.50 L286.69,270.50 L287.11,270.50 L287.53,270.50 L287.95,270.50 L288.36,270.50 L288.78,270.50 L289.20,270.50 L289.61,270.50 L290.03,270.50 L290.45,270.50 L290.87,270.50 L291.28,270.50 L291.70,270.50 L292.12,270.50 L292.53,270.50 L292.95,270.50 L293.37,270.50 L293.79,270.50 L294.20,270.50 L294.62,270.50 L295.04,270.50 L295.45,270.50 L295.87,270.50 L296.29,270.50 L296.71,270.50 L297.12,270.50 L297.54,270.50 L297.96,270.50 L298.37,270.50 L298.79,270.50 L299.21,270.47 L299.63,270.39 L300.04,270.29 L300.46,270.17 L300.88,270.04 L301.29,269.91 L301.71,269.78 L302.13,269.67 L302.55,269.57 L302.96,269.50 L303.38,269.41 L303.80,269.27 L304.21,269.11 L304.63,268.92 L305.05,268.73 L305.47,268.53 L305.88,268.35 L306.30,268.19 L306.72,268.06 L307.13,267.95 L307.55,267.73 L307.97,267.43 L308.39,267.10 L308.80,266.75 L309.22,266.43 L309.64,266.16 L310.05,265.97 L310.47,265.66 L310.89,265.24 L311.31,264.74 L311.72,264.22 L312.14,263.73 L312.56,263.31 L312.97,263.01 L313.39,262.63 L313.81,262.05 L314.23,261.40 L314.64,260.83 L315.06,260.45 L315.48,259.93 L315.89,259.20 L316.31,258.43 L316.73,257.78 L317.15,257.44 L317.56,257.15 L317.98,256.81 L318.40,256.54 L318.81,256.14 L319.23,255.43 L319.65,254.62 L320.07,253.95 L320.48,253.84 L320.90,254.35 L321.32,254.86 L321.73,254.90 L322.15,254.62 L322.57,254.29 L322.99,254.04 L323.40,254.34 L323.82,255.04 L324.24,255.72 L324.65,256.30 L325.07,257.59 L325.49,259.13 L325.91,260.33 L326.32,261.25 L326.74,262.71 L327.16,264.19 L327.57,265.10 L327.99,266.01 L328.41,267.21 L328.83,268.23 L329.24,268.81 L329.66,269.62 L330.08,270.37 L330.49,270.50 L330.91,270.50 L331.33,270.50 L331.75,270.50 L332.16,270.50 L332.58,270.50 L333.00,270.50 L333.41,270.50 L333.83,270.50 L334.25,270.50 L334.67,270.50 L335.08,270.50 L335.50,270.50" fill="none" stroke="#3ccfd6" stroke-width="0.9" stroke-linejoin="round"/>
<path d="M277.10,282.40 L277.10,282.40 L277.52,282.40 L277.93,282.40 L278.35,282.40 L278.77,282.40 L279.19,282.40 L279.60,282.40 L280.02,282.40 L280.44,282.40 L280.85,282.40 L281.27,282.40 L281.69,282.40 L282.11,282.40 L282.52,282.40 L282.94,282.40 L283.36,282.40 L283.77,282.40 L284.19,282.40 L284.61,282.40 L285.03,282.40 L285.44,282.40 L285.86,282.40 L286.28,282.40 L286.69,282.40 L287.11,282.40 L287.53,282.40 L287.95,282.40 L288.36,282.40 L288.78,282.40 L289.20,282.40 L289.61,282.40 L290.03,282.40 L290.45,282.40 L290.87,282.40 L291.28,282.40 L291.70,282.40 L292.12,282.40 L292.53,282.40 L292.95,282.40 L293.37,282.40 L293.79,282.40 L294.20,282.40 L294.62,282.40 L295.04,282.40 L295.45,282.40 L295.87,282.40 L296.29,282.40 L296.71,282.40 L297.12,282.40 L297.54,282.40 L297.96,282.40 L298.37,282.34 L298.79,282.25 L299.21,282.14 L299.63,282.02 L300.04,281.89 L300.46,281.76 L300.88,281.64 L301.29,281.53 L301.71,281.44 L302.13,281.37 L302.55,281.26 L302.96,281.11 L303.38,280.94 L303.80,280.74 L304.21,280.55 L304.63,280.36 L305.05,280.19 L305.47,280.04 L305.88,279.92 L306.30,279.77 L306.72,279.52 L307.13,279.20 L307.55,278.86 L307.97,278.52 L308.39,278.21 L308.80,277.98 L309.22,277.74 L309.64,277.33 L310.05,276.79 L310.47,276.19 L310.89,275.59 L311.31,275.04 L311.72,274.60 L312.14,274.23 L312.56,273.46 L312.97,272.46 L313.39,271.45 L313.81,270.64 L314.23,270.03 L314.64,268.96 L315.06,267.78 L315.48,266.93 L315.89,266.54 L316.31,265.98 L316.73,265.36 L317.15,264.81 L317.56,264.53 L317.98,264.89 L318.40,265.37 L318.81,265.78 L319.23,266.28 L319.65,267.36 L320.07,268.54 L320.48,269.38 L320.90,270.06 L321.32,271.07 L321.73,272.01 L322.15,272.53 L322.57,273.10 L322.99,273.79 L323.40,274.32 L323.82,274.41 L324.24,274.43 L324.65,274.46 L325.07,274.48 L325.49,274.50 L325.91,274.93 L326.32,275.57 L326.74,276.16 L327.16,276.57 L327.57,277.25 L327.99,278.13 L328.41,279.01 L328.83,279.71 L329.24,280.10 L329.66,280.63 L330.08,281.27 L330.49,281.88 L330.91,282.34 L331.33,282.40 L331.75,282.40 L332.16,282.40 L332.58,282.40 L333.00,282.40 L333.41,282.40 L333.83,282.40 L334.25,282.40 L334.67,282.40 L335.08,282.40 L335.50,282.40 L335.50,282.40Z" fill="#f9c796" stroke="none" stroke-width="1" fill-opacity="0.8"/>
<path d="M277.10,282.40 L277.52,282.40 L277.93,282.40 L278.35,282.40 L278.77,282.40 L279.19,282.40 L279.60,282.40 L280.02,282.40 L280.44,282.40 L280.85,282.40 L281.27,282.40 L281.69,282.40 L282.11,282.40 L282.52,282.40 L282.94,282.40 L283.36,282.40 L283.77,282.40 L284.19,282.40 L284.61,282.40 L285.03,282.40 L285.44,282.40 L285.86,282.40 L286.28,282.40 L286.69,282.40 L287.11,282.40 L287.53,282.40 L287.95,282.40 L288.36,282.40 L288.78,282.40 L289.20,282.40 L289.61,282.40 L290.03,282.40 L290.45,282.40 L290.87,282.40 L291.28,282.40 L291.70,282.40 L292.12,282.40 L292.53,282.40 L292.95,282.40 L293.37,282.40 L293.79,282.40 L294.20,282.40 L294.62,282.40 L295.04,282.40 L295.45,282.40 L295.87,282.40 L296.29,282.40 L296.71,282.40 L297.12,282.40 L297.54,282.40 L297.96,282.40 L298.37,282.34 L298.79,282.25 L299.21,282.14 L299.63,282.02 L300.04,281.89 L300.46,281.76 L300.88,281.64 L301.29,281.53 L301.71,281.44 L302.13,281.37 L302.55,281.26 L302.96,281.11 L303.38,280.94 L303.80,280.74 L304.21,280.55 L304.63,280.36 L305.05,280.19 L305.47,280.04 L305.88,279.92 L306.30,279.77 L306.72,279.52 L307.13,279.20 L307.55,278.86 L307.97,278.52 L308.39,278.21 L308.80,277.98 L309.22,277.74 L309.64,277.33 L310.05,276.79 L310.47,276.19 L310.89,275.59 L311.31,275.04 L311.72,274.60 L312.14,274.23 L312.56,273.46 L312.97,272.46 L313.39,271.45 L313.81,270.64 L314.23,270.03 L314.64,268.96 L315.06,267.78 L315.48,266.93 L315.89,266.54 L316.31,265.98 L316.73,265.36 L317.15,264.81 L317.56,264.53 L317.98,264.89 L318.40,265.37 L318.81,265.78 L319.23,266.28 L319.65,267.36 L320.07,268.54 L320.48,269.38 L320.90,270.06 L321.32,271.07 L321.73,272.01 L322.15,272.53 L322.57,273.10 L322.99,273.79 L323.40,274.32 L323.82,274.41 L324.24,274.43 L324.65,274.46 L325.07,274.48 L325.49,274.50 L325.91,274.93 L326.32,275.57 L326.74,276.16 L327.16,276.57 L327.57,277.25 L327.99,278.13 L328.41,279.01 L328.83,279.71 L329.24,280.10 L329.66,280.63 L330.08,281.27 L330.49,281.88 L330.91,282.34 L331.33,282.40 L331.75,282.40 L332.16,282.40 L332.58,282.40 L333.00,282.40 L333.41,282.40 L333.83,282.40 L334.25,282.40 L334.67,282.40 L335.08,282.40 L335.50,282.40" fill="none" stroke="#f6902a" stroke-width="0.9" stroke-linejoin="round"/>
<path d="M277.10,294.40 L277.10,294.40 L277.52,294.40 L277.93,294.40 L278.35,294.40 L278.77,294.40 L279.19,294.40 L279.60,294.40 L280.02,294.40 L280.44,294.40 L280.85,294.40 L281.27,294.40 L281.69,294.40 L282.11,294.40 L282.52,294.40 L282.94,294.40 L283.36,294.40 L283.77,294.40 L284.19,294.40 L284.61,294.40 L285.03,294.40 L285.44,294.40 L285.86,294.40 L286.28,294.40 L286.69,294.40 L287.11,294.40 L287.53,294.40 L287.95,294.40 L288.36,294.40 L288.78,294.40 L289.20,294.40 L289.61,294.40 L290.03,294.40 L290.45,294.40 L290.87,294.40 L291.28,294.40 L291.70,294.40 L292.12,294.40 L292.53,294.40 L292.95,294.40 L293.37,294.40 L293.79,294.40 L294.20,294.40 L294.62,294.40 L295.04,294.40 L295.45,294.40 L295.87,294.40 L296.29,294.33 L296.71,294.21 L297.12,294.05 L297.54,293.86 L297.96,293.67 L298.37,293.48 L298.79,293.29 L299.21,293.12 L299.63,292.99 L300.04,292.89 L300.46,292.79 L300.88,292.65 L301.29,292.49 L301.71,292.31 L302.13,292.15 L302.55,292.01 L302.96,291.91 L303.38,291.77 L303.80,291.57 L304.21,291.33 L304.63,291.07 L305.05,290.82 L305.47,290.60 L305.88,290.43 L306.30,290.26 L306.72,290.00 L307.13,289.68 L307.55,289.32 L307.97,288.93 L308.39,288.54 L308.80,288.17 L309.22,287.84 L309.64,287.57 L310.05,287.38 L310.47,287.16 L310.89,286.88 L311.31,286.54 L311.72,286.16 L312.14,285.76 L312.56,285.34 L312.97,284.93 L313.39,284.53 L313.81,284.16 L314.23,283.84 L314.64,283.57 L315.06,283.37 L315.48,283.06 L315.89,282.63 L316.31,282.13 L316.73,281.62 L317.15,281.12 L317.56,280.70 L317.98,280.41 L318.40,280.08 L318.81,279.61 L319.23,279.04 L319.65,278.43 L320.07,277.85 L320.48,277.34 L320.90,276.96 L321.32,276.73 L321.73,276.40 L322.15,276.00 L322.57,275.58 L322.99,275.20 L323.40,274.90 L323.82,274.92 L324.24,275.29 L324.65,275.68 L325.07,275.99 L325.49,276.79 L325.91,277.89 L326.32,279.04 L326.74,280.00 L327.16,280.69 L327.57,281.86 L327.99,283.37 L328.41,284.88 L328.83,286.07 L329.24,286.81 L329.66,287.86 L330.08,289.14 L330.49,290.37 L330.91,291.28 L331.33,291.91 L331.75,292.89 L332.16,293.87 L332.58,294.40 L333.00,294.40 L333.41,294.40 L333.83,294.40 L334.25,294.40 L334.67,294.40 L335.08,294.40 L335.50,294.40 L335.50,294.40Z" fill="#8e8e8e" stroke="none" stroke-width="1" fill-opacity="0.78"/>
<path d="M277.10,294.40 L277.52,294.40 L277.93,294.40 L278.35,294.40 L278.77,294.40 L279.19,294.40 L279.60,294.40 L280.02,294.40 L280.44,294.40 L280.85,294.40 L281.27,294.40 L281.69,294.40 L282.11,294.40 L282.52,294.40 L282.94,294.40 L283.36,294.40 L283.77,294.40 L284.19,294.40 L284.61,294.40 L285.03,294.40 L285.44,294.40 L285.86,294.40 L286.28,294.40 L286.69,294.40 L287.11,294.40 L287.53,294.40 L287.95,294.40 L288.36,294.40 L288.78,294.40 L289.20,294.40 L289.61,294.40 L290.03,294.40 L290.45,294.40 L290.87,294.40 L291.28,294.40 L291.70,294.40 L292.12,294.40 L292.53,294.40 L292.95,294.40 L293.37,294.40 L293.79,294.40 L294.20,294.40 L294.62,294.40 L295.04,294.40 L295.45,294.40 L295.87,294.40 L296.29,294.33 L296.71,294.21 L297.12,294.05 L297.54,293.86 L297.96,293.67 L298.37,293.48 L298.79,293.29 L299.21,293.12 L299.63,292.99 L300.04,292.89 L300.46,292.79 L300.88,292.65 L301.29,292.49 L301.71,292.31 L302.13,292.15 L302.55,292.01 L302.96,291.91 L303.38,291.77 L303.80,291.57 L304.21,291.33 L304.63,291.07 L305.05,290.82 L305.47,290.60 L305.88,290.43 L306.30,290.26 L306.72,290.00 L307.13,289.68 L307.55,289.32 L307.97,288.93 L308.39,288.54 L308.80,288.17 L309.22,287.84 L309.64,287.57 L310.05,287.38 L310.47,287.16 L310.89,286.88 L311.31,286.54 L311.72,286.16 L312.14,285.76 L312.56,285.34 L312.97,284.93 L313.39,284.53 L313.81,284.16 L314.23,283.84 L314.64,283.57 L315.06,283.37 L315.48,283.06 L315.89,282.63 L316.31,282.13 L316.73,281.62 L317.15,281.12 L317.56,280.70 L317.98,280.41 L318.40,280.08 L318.81,279.61 L319.23,279.04 L319.65,278.43 L320.07,277.85 L320.48,277.34 L320.90,276.96 L321.32,276.73 L321.73,276.40 L322.15,276.00 L322.57,275.58 L322.99,275.20 L323.40,274.90 L323.82,274.92 L324.24,275.29 L324.65,275.68 L325.07,275.99 L325.49,276.79 L325.91,277.89 L326.32,279.04 L326.74,280.00 L327.16,280.69 L327.57,281.86 L327.99,283.37 L328.41,284.88 L328.83,286.07 L329.24,286.81 L329.66,287.86 L330.08,289.14 L330.49,290.37 L330.91,291.28 L331.33,291.91 L331.75,292.89 L332.16,293.87 L332.58,294.40 L333.00,294.40 L333.41,294.40 L333.83,294.40 L334.25,294.40 L334.67,294.40 L335.08,294.40 L335.50,294.40" fill="none" stroke="#1a1a1a" stroke-width="0.9" stroke-linejoin="round"/>
<path d="M277.10,305.60 L277.10,305.60 L277.52,305.60 L277.93,305.60 L278.35,305.60 L278.77,305.60 L279.19,305.60 L279.60,305.60 L280.02,305.60 L280.44,305.60 L280.85,305.60 L281.27,305.60 L281.69,305.60 L282.11,305.60 L282.52,305.60 L282.94,305.60 L283.36,305.60 L283.77,305.60 L284.19,305.60 L284.61,305.60 L285.03,305.60 L285.44,305.60 L285.86,305.60 L286.28,305.60 L286.69,305.60 L287.11,305.60 L287.53,305.60 L287.95,305.60 L288.36,305.60 L288.78,305.60 L289.20,305.60 L289.61,305.60 L290.03,305.60 L290.45,305.60 L290.87,305.60 L291.28,305.60 L291.70,305.60 L292.12,305.60 L292.53,305.60 L292.95,305.60 L293.37,305.60 L293.79,305.60 L294.20,305.60 L294.62,305.60 L295.04,305.60 L295.45,305.60 L295.87,305.60 L296.29,305.60 L296.71,305.60 L297.12,305.60 L297.54,305.60 L297.96,305.60 L298.37,305.60 L298.79,305.60 L299.21,305.60 L299.63,305.60 L300.04,305.60 L300.46,305.60 L300.88,305.60 L301.29,305.60 L301.71,305.60 L302.13,305.60 L302.55,305.60 L302.96,305.60 L303.38,305.54 L303.80,305.45 L304.21,305.34 L304.63,305.21 L305.05,305.08 L305.47,304.96 L305.88,304.83 L306.30,304.73 L306.72,304.64 L307.13,304.56 L307.55,304.41 L307.97,304.21 L308.39,303.98 L308.80,303.72 L309.22,303.46 L309.64,303.21 L310.05,302.98 L310.47,302.78 L310.89,302.63 L311.31,302.40 L311.72,302.02 L312.14,301.54 L312.56,301.03 L312.97,300.52 L313.39,300.06 L313.81,299.71 L314.23,299.44 L314.64,299.02 L315.06,298.48 L315.48,297.88 L315.89,297.28 L316.31,296.74 L316.73,296.30 L317.15,295.99 L317.56,295.51 L317.98,294.88 L318.40,294.25 L318.81,293.75 L319.23,293.38 L319.65,292.77 L320.07,292.09 L320.48,291.61 L320.90,291.13 L321.32,290.40 L321.73,289.59 L322.15,288.85 L322.57,288.33 L322.99,288.60 L323.40,289.07 L323.82,289.49 L324.24,289.99 L324.65,291.05 L325.07,292.32 L325.49,293.55 L325.91,294.47 L326.32,295.24 L326.74,296.47 L327.16,297.89 L327.57,299.19 L327.99,300.09 L328.41,300.80 L328.83,301.86 L329.24,303.02 L329.66,304.04 L330.08,304.65 L330.49,305.09 L330.91,305.54 L331.33,305.60 L331.75,305.60 L332.16,305.60 L332.58,305.60 L333.00,305.60 L333.41,305.60 L333.83,305.60 L334.25,305.60 L334.67,305.60 L335.08,305.60 L335.50,305.60 L335.50,305.60Z" fill="#8e8e8e" stroke="none" stroke-width="1" fill-opacity="0.85"/>
<path d="M277.10,305.60 L277.52,305.60 L277.93,305.60 L278.35,305.60 L278.77,305.60 L279.19,305.60 L279.60,305.60 L280.02,305.60 L280.44,305.60 L280.85,305.60 L281.27,305.60 L281.69,305.60 L282.11,305.60 L282.52,305.60 L282.94,305.60 L283.36,305.60 L283.77,305.60 L284.19,305.60 L284.61,305.60 L285.03,305.60 L285.44,305.60 L285.86,305.60 L286.28,305.60 L286.69,305.60 L287.11,305.60 L287.53,305.60 L287.95,305.60 L288.36,305.60 L288.78,305.60 L289.20,305.60 L289.61,305.60 L290.03,305.60 L290.45,305.60 L290.87,305.60 L291.28,305.60 L291.70,305.60 L292.12,305.60 L292.53,305.60 L292.95,305.60 L293.37,305.60 L293.79,305.60 L294.20,305.60 L294.62,305.60 L295.04,305.60 L295.45,305.60 L295.87,305.60 L296.29,305.60 L296.71,305.60 L297.12,305.60 L297.54,305.60 L297.96,305.60 L298.37,305.60 L298.79,305.60 L299.21,305.60 L299.63,305.60 L300.04,305.60 L300.46,305.60 L300.88,305.60 L301.29,305.60 L301.71,305.60 L302.13,305.60 L302.55,305.60 L302.96,305.60 L303.38,305.54 L303.80,305.45 L304.21,305.34 L304.63,305.21 L305.05,305.08 L305.47,304.96 L305.88,304.83 L306.30,304.73 L306.72,304.64 L307.13,304.56 L307.55,304.41 L307.97,304.21 L308.39,303.98 L308.80,303.72 L309.22,303.46 L309.64,303.21 L310.05,302.98 L310.47,302.78 L310.89,302.63 L311.31,302.40 L311.72,302.02 L312.14,301.54 L312.56,301.03 L312.97,300.52 L313.39,300.06 L313.81,299.71 L314.23,299.44 L314.64,299.02 L315.06,298.48 L315.48,297.88 L315.89,297.28 L316.31,296.74 L316.73,296.30 L317.15,295.99 L317.56,295.51 L317.98,294.88 L318.40,294.25 L318.81,293.75 L319.23,293.38 L319.65,292.77 L320.07,292.09 L320.48,291.61 L320.90,291.13 L321.32,290.40 L321.73,289.59 L322.15,288.85 L322.57,288.33 L322.99,288.60 L323.40,289.07 L323.82,289.49 L324.24,289.99 L324.65,291.05 L325.07,292.32 L325.49,293.55 L325.91,294.47 L326.32,295.24 L326.74,296.47 L327.16,297.89 L327.57,299.19 L327.99,300.09 L328.41,300.80 L328.83,301.86 L329.24,303.02 L329.66,304.04 L330.08,304.65 L330.49,305.09 L330.91,305.54 L331.33,305.60 L331.75,305.60 L332.16,305.60 L332.58,305.60 L333.00,305.60 L333.41,305.60 L333.83,305.60 L334.25,305.60 L334.67,305.60 L335.08,305.60 L335.50,305.60" fill="none" stroke="#1a1a1a" stroke-width="0.9" stroke-linejoin="round"/>
<rect x="276.6" y="246.2" width="59.39999999999998" height="59.400000000000034" fill="none" stroke="#555" stroke-width="0.7"/>
<line x1="291.45000000000005" y1="305.6" x2="291.45000000000005" y2="306.90000000000003" stroke="#444" stroke-width="0.4"/>
<line x1="290.65000000000003" y1="308.6" x2="292.25000000000006" y2="308.6" stroke="#aaa" stroke-width="0.5"/>
<line x1="312.24" y1="305.6" x2="312.24" y2="306.90000000000003" stroke="#444" stroke-width="0.4"/>
<line x1="311.44" y1="308.6" x2="313.04" y2="308.6" stroke="#aaa" stroke-width="0.5"/>
<line x1="328.278" y1="305.6" x2="328.278" y2="306.90000000000003" stroke="#444" stroke-width="0.4"/>
<line x1="327.478" y1="308.6" x2="329.07800000000003" y2="308.6" stroke="#aaa" stroke-width="0.5"/>
<line x1="278.6" y1="305.6" x2="278.6" y2="306.6" stroke="#666" stroke-width="0.3"/>
<line x1="279.40000000000003" y1="305.6" x2="279.40000000000003" y2="306.6" stroke="#666" stroke-width="0.3"/>
<line x1="280.20000000000005" y1="305.6" x2="280.20000000000005" y2="306.6" stroke="#666" stroke-width="0.3"/>
<line x1="281.0" y1="305.6" x2="281.0" y2="306.6" stroke="#666" stroke-width="0.3"/>
<line x1="281.8" y1="305.6" x2="281.8" y2="306.6" stroke="#666" stroke-width="0.3"/>
<line x1="282.6" y1="305.6" x2="282.6" y2="306.6" stroke="#666" stroke-width="0.3"/>
<line x1="283.40000000000003" y1="305.6" x2="283.40000000000003" y2="306.6" stroke="#666" stroke-width="0.3"/>
<line x1="284.20000000000005" y1="305.6" x2="284.20000000000005" y2="306.6" stroke="#666" stroke-width="0.3"/>
<line x1="285.0" y1="305.6" x2="285.0" y2="306.6" stroke="#666" stroke-width="0.3"/>
<line x1="285.8" y1="305.6" x2="285.8" y2="306.6" stroke="#666" stroke-width="0.3"/>
<text x="121.9" y="390.0" font-family='"Liberation Sans", sans-serif' font-size="9.0" text-anchor="middle" fill="#1a1a1a" stroke="#1a1a1a" stroke-width="0.1" textLength="50.3" lengthAdjust="spacingAndGlyphs" transform="rotate(-90 121.9 390.0)">Relative MFI</text>
<text x="131.8" y="388.4" font-family='"Liberation Sans", sans-serif' font-size="8.8" text-anchor="middle" fill="#1a1a1a" stroke="#1a1a1a" stroke-width="0.1" textLength="88.7" lengthAdjust="spacingAndGlyphs" transform="rotate(-90 131.8 388.4)">to control without IL-35</text>
<line x1="213.8" y1="325" x2="213.8" y2="440.4" stroke="#ccc" stroke-width="0.5" stroke-dasharray="1,1.2"/>
<line x1="275.0" y1="325" x2="275.0" y2="440.4" stroke="#ccc" stroke-width="0.5" stroke-dasharray="1,1.2"/>
<line x1="177.15" y1="414.51" x2="189.75" y2="378.67400000000004" stroke="#777" stroke-width="0.3"/>
<line x1="189.75" y1="378.67400000000004" x2="202.35" y2="356.132" stroke="#999" stroke-width="0.3" stroke-dasharray="0.8,0.8"/>
<line x1="177.15" y1="418.55600000000004" x2="189.75" y2="390.23400000000004" stroke="#777" stroke-width="0.3"/>
<line x1="189.75" y1="390.23400000000004" x2="202.35" y2="362.49" stroke="#999" stroke-width="0.3" stroke-dasharray="0.8,0.8"/>
<line x1="177.15" y1="428.96000000000004" x2="189.75" y2="393.124" stroke="#777" stroke-width="0.3"/>
<line x1="189.75" y1="393.124" x2="202.35" y2="369.42600000000004" stroke="#999" stroke-width="0.3" stroke-dasharray="0.8,0.8"/>
<line x1="177.15" y1="431.272" x2="189.75" y2="394.28000000000003" stroke="#777" stroke-width="0.3"/>
<line x1="189.75" y1="394.28000000000003" x2="202.35" y2="375.784" stroke="#999" stroke-width="0.3" stroke-dasharray="0.8,0.8"/>
<line x1="177.15" y1="433.584" x2="189.75" y2="395.43600000000004" stroke="#777" stroke-width="0.3"/>
<line x1="189.75" y1="395.43600000000004" x2="202.35" y2="376.94" stroke="#999" stroke-width="0.3" stroke-dasharray="0.8,0.8"/>
<rect x="159.9" y="388.5" width="9.3" height="51.89999999999998" fill="#13a9d5" stroke="none" stroke-width="0.4"/>
<rect x="172.5" y="424.336" width="9.3" height="16.063999999999965" fill="#f9a13e" stroke="#333" stroke-width="0.4"/>
<rect x="185.1" y="391.39" width="9.3" height="49.00999999999999" fill="#808080" stroke="none" stroke-width="0.4"/>
<rect x="197.7" y="370.582" width="9.3" height="69.81799999999998" fill="#808080" stroke="none" stroke-width="0.4"/>
<circle cx="161.35000000000002" cy="388.5" r="0.8" fill="#000"/>
<circle cx="162.95000000000002" cy="388.5" r="0.8" fill="#000"/>
<circle cx="164.55" cy="388.5" r="0.8" fill="#000"/>
<circle cx="166.15000000000003" cy="388.5" r="0.8" fill="#000"/>
<circle cx="167.75000000000003" cy="388.5" r="0.8" fill="#000"/>
<circle cx="176.67000000000002" cy="414.51" r="0.85" fill="#000"/>
<circle cx="177.63" cy="418.55600000000004" r="0.85" fill="#000"/>
<circle cx="176.67000000000002" cy="428.96000000000004" r="0.85" fill="#000"/>
<circle cx="177.63" cy="431.272" r="0.85" fill="#000"/>
<circle cx="176.67000000000002" cy="433.584" r="0.85" fill="#000"/>
<circle cx="188.95" cy="378.67400000000004" r="0.85" fill="#000"/>
<circle cx="190.55" cy="390.23400000000004" r="0.85" fill="#000"/>
<circle cx="188.95" cy="393.124" r="0.85" fill="#000"/>
<circle cx="190.55" cy="394.28000000000003" r="0.85" fill="#000"/>
<circle cx="188.95" cy="395.43600000000004" r="0.85" fill="#000"/>
<circle cx="201.54999999999998" cy="356.132" r="0.85" fill="#000"/>
<circle cx="203.15" cy="362.49" r="0.85" fill="#000"/>
<circle cx="201.54999999999998" cy="369.42600000000004" r="0.85" fill="#000"/>
<circle cx="203.15" cy="375.784" r="0.85" fill="#000"/>
<circle cx="201.54999999999998" cy="376.94" r="0.85" fill="#000"/>
<line x1="189.75" y1="395.43600000000004" x2="189.75" y2="378.67400000000004" stroke="#000" stroke-width="0.5"/>
<line x1="202.35" y1="376.94" x2="202.35" y2="356.132" stroke="#000" stroke-width="0.5"/>
<line x1="237.85" y1="397.17" x2="249.95000000000002" y2="375.784" stroke="#777" stroke-width="0.3"/>
<line x1="249.95000000000002" y1="375.784" x2="262.54999999999995" y2="376.94" stroke="#999" stroke-width="0.3" stroke-dasharray="0.8,0.8"/>
<line x1="237.85" y1="406.996" x2="249.95000000000002" y2="378.096" stroke="#777" stroke-width="0.3"/>
<line x1="249.95000000000002" y1="378.096" x2="262.54999999999995" y2="381.564" stroke="#999" stroke-width="0.3" stroke-dasharray="0.8,0.8"/>
<line x1="237.85" y1="410.464" x2="249.95000000000002" y2="381.564" stroke="#777" stroke-width="0.3"/>
<line x1="249.95000000000002" y1="381.564" x2="262.54999999999995" y2="384.454" stroke="#999" stroke-width="0.3" stroke-dasharray="0.8,0.8"/>
<rect x="220.1" y="388.5" width="9.3" height="51.89999999999998" fill="#13a9d5" stroke="none" stroke-width="0.4"/>
<rect x="233.2" y="406.707" width="9.3" height="33.692999999999984" fill="#f9a13e" stroke="#333" stroke-width="0.4"/>
<rect x="245.3" y="380.119" width="9.3" height="60.28099999999995" fill="#808080" stroke="none" stroke-width="0.4"/>
<rect x="257.9" y="382.72" width="9.3" height="57.67999999999995" fill="#808080" stroke="none" stroke-width="0.4"/>
<circle cx="221.55" cy="388.5" r="0.8" fill="#000"/>
<circle cx="223.15" cy="388.5" r="0.8" fill="#000"/>
<circle cx="224.75" cy="388.5" r="0.8" fill="#000"/>
<circle cx="226.35000000000002" cy="388.5" r="0.8" fill="#000"/>
<circle cx="227.95000000000002" cy="388.5" r="0.8" fill="#000"/>
<circle cx="237.37" cy="397.17" r="0.85" fill="#000"/>
<circle cx="238.32999999999998" cy="406.996" r="0.85" fill="#000"/>
<circle cx="237.37" cy="410.464" r="0.85" fill="#000"/>
<circle cx="249.15" cy="375.784" r="0.85" fill="#000"/>
<circle cx="250.75000000000003" cy="378.096" r="0.85" fill="#000"/>
<circle cx="249.15" cy="381.564" r="0.85" fill="#000"/>
<circle cx="250.75000000000003" cy="382.72" r="0.85" fill="#000"/>
<circle cx="261.74999999999994" cy="376.94" r="0.85" fill="#000"/>
<circle cx="263.34999999999997" cy="381.564" r="0.85" fill="#000"/>
<circle cx="261.74999999999994" cy="384.454" r="0.85" fill="#000"/>
<circle cx="263.34999999999997" cy="385.61" r="0.85" fill="#000"/>
<line x1="249.95000000000002" y1="382.72" x2="249.95000000000002" y2="375.784" stroke="#000" stroke-width="0.5"/>
<line x1="262.54999999999995" y1="385.61" x2="262.54999999999995" y2="376.94" stroke="#000" stroke-width="0.5"/>
<line x1="298.25" y1="394.858" x2="310.84999999999997" y2="383.298" stroke="#777" stroke-width="0.3"/>
<line x1="310.84999999999997" y1="383.298" x2="322.95" y2="382.72" stroke="#999" stroke-width="0.3" stroke-dasharray="0.8,0.8"/>
<line x1="298.25" y1="396.592" x2="310.84999999999997" y2="385.61" stroke="#777" stroke-width="0.3"/>
<line x1="310.84999999999997" y1="385.61" x2="322.95" y2="384.454" stroke="#999" stroke-width="0.3" stroke-dasharray="0.8,0.8"/>
<line x1="298.25" y1="398.904" x2="310.84999999999997" y2="387.344" stroke="#777" stroke-width="0.3"/>
<line x1="310.84999999999997" y1="387.344" x2="322.95" y2="386.188" stroke="#999" stroke-width="0.3" stroke-dasharray="0.8,0.8"/>
<rect x="281.0" y="388.5" width="9.3" height="51.89999999999998" fill="#13a9d5" stroke="none" stroke-width="0.4"/>
<rect x="293.6" y="396.88100000000003" width="9.3" height="43.51899999999995" fill="#f9a13e" stroke="#333" stroke-width="0.4"/>
<rect x="306.2" y="385.61" width="9.3" height="54.789999999999964" fill="#808080" stroke="none" stroke-width="0.4"/>
<rect x="318.3" y="384.743" width="9.3" height="55.65699999999998" fill="#808080" stroke="none" stroke-width="0.4"/>
<circle cx="282.45" cy="388.5" r="0.8" fill="#000"/>
<circle cx="284.05" cy="388.5" r="0.8" fill="#000"/>
<circle cx="285.65" cy="388.5" r="0.8" fill="#000"/>
<circle cx="287.25" cy="388.5" r="0.8" fill="#000"/>
<circle cx="288.84999999999997" cy="388.5" r="0.8" fill="#000"/>
<circle cx="297.77" cy="394.858" r="0.85" fill="#000"/>
<circle cx="298.73" cy="396.592" r="0.85" fill="#000"/>
<circle cx="297.77" cy="398.904" r="0.85" fill="#000"/>
<circle cx="310.04999999999995" cy="383.298" r="0.85" fill="#000"/>
<circle cx="311.65" cy="385.61" r="0.85" fill="#000"/>
<circle cx="310.04999999999995" cy="387.344" r="0.85" fill="#000"/>
<circle cx="322.15" cy="382.72" r="0.85" fill="#000"/>
<circle cx="323.75" cy="384.454" r="0.85" fill="#000"/>
<circle cx="322.15" cy="386.188" r="0.85" fill="#000"/>
<line x1="310.84999999999997" y1="387.344" x2="310.84999999999997" y2="383.298" stroke="#000" stroke-width="0.5"/>
<line x1="322.95" y1="386.188" x2="322.95" y2="382.72" stroke="#000" stroke-width="0.5"/>
<line x1="155.2" y1="340.7" x2="155.2" y2="440.9" stroke="#000" stroke-width="1.1"/>
<line x1="155.2" y1="440.4" x2="333.5" y2="440.4" stroke="#000" stroke-width="1.1"/>
<line x1="151.6" y1="434.74" x2="155.2" y2="434.74" stroke="#000" stroke-width="0.9"/>
<text x="151.2" y="437.24" font-family='"Liberation Sans", sans-serif' font-size="7.0" text-anchor="end" fill="#222" textLength="9.8" lengthAdjust="spacingAndGlyphs">0.2</text>
<line x1="151.6" y1="423.18" x2="155.2" y2="423.18" stroke="#000" stroke-width="0.9"/>
<text x="151.2" y="425.68" font-family='"Liberation Sans", sans-serif' font-size="7.0" text-anchor="end" fill="#222" textLength="9.8" lengthAdjust="spacingAndGlyphs">0.4</text>
<line x1="151.6" y1="411.62" x2="155.2" y2="411.62" stroke="#000" stroke-width="0.9"/>
<text x="151.2" y="414.12" font-family='"Liberation Sans", sans-serif' font-size="7.0" text-anchor="end" fill="#222" textLength="9.8" lengthAdjust="spacingAndGlyphs">0.6</text>
<line x1="151.6" y1="400.06" x2="155.2" y2="400.06" stroke="#000" stroke-width="0.9"/>
<text x="151.2" y="402.56" font-family='"Liberation Sans", sans-serif' font-size="7.0" text-anchor="end" fill="#222" textLength="9.8" lengthAdjust="spacingAndGlyphs">0.8</text>
<line x1="151.6" y1="388.5" x2="155.2" y2="388.5" stroke="#000" stroke-width="0.9"/>
<text x="151.2" y="391.0" font-family='"Liberation Sans", sans-serif' font-size="7.0" text-anchor="end" fill="#222" textLength="9.8" lengthAdjust="spacingAndGlyphs">1.0</text>
<line x1="151.6" y1="376.94" x2="155.2" y2="376.94" stroke="#000" stroke-width="0.9"/>
<text x="151.2" y="379.44" font-family='"Liberation Sans", sans-serif' font-size="7.0" text-anchor="end" fill="#222" textLength="9.8" lengthAdjust="spacingAndGlyphs">1.2</text>
<line x1="151.6" y1="365.38" x2="155.2" y2="365.38" stroke="#000" stroke-width="0.9"/>
<text x="151.2" y="367.88" font-family='"Liberation Sans", sans-serif' font-size="7.0" text-anchor="end" fill="#222" textLength="9.8" lengthAdjust="spacingAndGlyphs">1.4</text>
<line x1="151.6" y1="353.82" x2="155.2" y2="353.82" stroke="#000" stroke-width="0.9"/>
<text x="151.2" y="356.32" font-family='"Liberation Sans", sans-serif' font-size="7.0" text-anchor="end" fill="#222" textLength="9.8" lengthAdjust="spacingAndGlyphs">1.6</text>
<line x1="151.6" y1="342.26" x2="155.2" y2="342.26" stroke="#000" stroke-width="0.9"/>
<text x="151.2" y="344.76" font-family='"Liberation Sans", sans-serif' font-size="7.0" text-anchor="end" fill="#222" textLength="9.8" lengthAdjust="spacingAndGlyphs">1.8</text>
<line x1="153.2" y1="428.96000000000004" x2="155.2" y2="428.96000000000004" stroke="#000" stroke-width="0.7"/>
<line x1="153.2" y1="417.40000000000003" x2="155.2" y2="417.40000000000003" stroke="#000" stroke-width="0.7"/>
<line x1="153.2" y1="405.84000000000003" x2="155.2" y2="405.84000000000003" stroke="#000" stroke-width="0.7"/>
<line x1="153.2" y1="394.28000000000003" x2="155.2" y2="394.28000000000003" stroke="#000" stroke-width="0.7"/>
<line x1="153.2" y1="382.72" x2="155.2" y2="382.72" stroke="#000" stroke-width="0.7"/>
<line x1="153.2" y1="371.16" x2="155.2" y2="371.16" stroke="#000" stroke-width="0.7"/>
<line x1="153.2" y1="359.6" x2="155.2" y2="359.6" stroke="#000" stroke-width="0.7"/>
<line x1="153.2" y1="348.04" x2="155.2" y2="348.04" stroke="#000" stroke-width="0.7"/>
<line x1="164.5" y1="440.4" x2="164.5" y2="444.6" stroke="#000" stroke-width="0.9"/>
<line x1="176.9" y1="440.4" x2="176.9" y2="444.6" stroke="#000" stroke-width="0.9"/>
<line x1="189.2" y1="440.4" x2="189.2" y2="444.6" stroke="#000" stroke-width="0.9"/>
<line x1="202.1" y1="440.4" x2="202.1" y2="444.6" stroke="#000" stroke-width="0.9"/>
<line x1="225.2" y1="440.4" x2="225.2" y2="444.6" stroke="#000" stroke-width="0.9"/>
<line x1="237.6" y1="440.4" x2="237.6" y2="444.6" stroke="#000" stroke-width="0.9"/>
<line x1="250.0" y1="440.4" x2="250.0" y2="444.6" stroke="#000" stroke-width="0.9"/>
<line x1="262.5" y1="440.4" x2="262.5" y2="444.6" stroke="#000" stroke-width="0.9"/>
<line x1="285.5" y1="440.4" x2="285.5" y2="444.6" stroke="#000" stroke-width="0.9"/>
<line x1="298.1" y1="440.4" x2="298.1" y2="444.6" stroke="#000" stroke-width="0.9"/>
<line x1="310.6" y1="440.4" x2="310.6" y2="444.6" stroke="#000" stroke-width="0.9"/>
<line x1="323.0" y1="440.4" x2="323.0" y2="444.6" stroke="#000" stroke-width="0.9"/>
<text x="183.8" y="338.1" font-family='"Liberation Sans", sans-serif' font-size="10.0" text-anchor="middle" fill="#222" stroke="#222" stroke-width="0.17" textLength="24" lengthAdjust="spacingAndGlyphs">IFN-γ</text>
<text x="245.7" y="338.0" font-family='"Liberation Sans", sans-serif' font-size="10.0" text-anchor="middle" fill="#222" stroke="#222" stroke-width="0.17" textLength="27" lengthAdjust="spacingAndGlyphs">T-BET</text>
<text x="304.9" y="339.8" font-family='"Liberation Sans", sans-serif' font-size="10.0" text-anchor="middle" fill="#222" stroke="#222" stroke-width="0.17" textLength="34.5" lengthAdjust="spacingAndGlyphs">EOMES</text>
<text x="170.5" y="375.59999999999997" font-family='"Liberation Sans", sans-serif' font-size="7.6" text-anchor="middle" fill="#1a1a1a" stroke="#1a1a1a" stroke-width="0.1" textLength="23.2" lengthAdjust="spacingAndGlyphs">0.0005</text>
<line x1="162.9" y1="377.5" x2="177.6" y2="377.5" stroke="#000" stroke-width="1.4"/>
<text x="183.8" y="358.7" font-family='"Liberation Sans", sans-serif' font-size="7.6" text-anchor="middle" fill="#1a1a1a" stroke="#1a1a1a" stroke-width="0.1" textLength="23.2" lengthAdjust="spacingAndGlyphs">0.0041</text>
<line x1="176.0" y1="360.3" x2="190.2" y2="360.3" stroke="#000" stroke-width="1.4"/>
<text x="188.8" y="345.9" font-family='"Liberation Sans", sans-serif' font-size="7.6" text-anchor="middle" fill="#1a1a1a" stroke="#1a1a1a" stroke-width="0.1" textLength="23.2" lengthAdjust="spacingAndGlyphs">0.0016</text>
<line x1="176.8" y1="347.0" x2="202.8" y2="347.0" stroke="#000" stroke-width="1.4"/>
<text x="230.2" y="374.3" font-family='"Liberation Sans", sans-serif' font-size="7.6" text-anchor="middle" fill="#1a1a1a" stroke="#1a1a1a" stroke-width="0.1" textLength="23.2" lengthAdjust="spacingAndGlyphs">0.0011</text>
<line x1="220.0" y1="375.4" x2="236.5" y2="375.4" stroke="#000" stroke-width="1.4"/>
<text x="244.7" y="360.5" font-family='"Liberation Sans", sans-serif' font-size="7.6" text-anchor="middle" fill="#1a1a1a" stroke="#1a1a1a" stroke-width="0.1" textLength="23.2" lengthAdjust="spacingAndGlyphs">0.0015</text>
<line x1="233.2" y1="361.8" x2="250.3" y2="361.8" stroke="#000" stroke-width="1.4"/>
<text x="250.7" y="348.9" font-family='"Liberation Sans", sans-serif' font-size="7.6" text-anchor="middle" fill="#1a1a1a" stroke="#1a1a1a" stroke-width="0.1" textLength="23.2" lengthAdjust="spacingAndGlyphs">0.0028</text>
<line x1="237.7" y1="350.2" x2="262.9" y2="350.2" stroke="#000" stroke-width="1.4"/>
<text x="290.7" y="375.09999999999997" font-family='"Liberation Sans", sans-serif' font-size="7.6" text-anchor="middle" fill="#1a1a1a" stroke="#1a1a1a" stroke-width="0.1" textLength="23.2" lengthAdjust="spacingAndGlyphs">0.0052</text>
<line x1="281.8" y1="376.4" x2="297.7" y2="376.4" stroke="#000" stroke-width="1.4"/>
<text x="305.4" y="363.5" font-family='"Liberation Sans", sans-serif' font-size="7.6" text-anchor="middle" fill="#1a1a1a" stroke="#1a1a1a" stroke-width="0.1" textLength="23.2" lengthAdjust="spacingAndGlyphs">0.0103</text>
<line x1="293.6" y1="364.3" x2="312.0" y2="364.3" stroke="#000" stroke-width="1.4"/>
<text x="311.2" y="352.9" font-family='"Liberation Sans", sans-serif' font-size="7.6" text-anchor="middle" fill="#1a1a1a" stroke="#1a1a1a" stroke-width="0.1" textLength="23.2" lengthAdjust="spacingAndGlyphs">0.0133</text>
<line x1="298.2" y1="354.0" x2="322.9" y2="354.0" stroke="#000" stroke-width="1.4"/>
<text x="149.4" y="454.4" font-family='"Liberation Sans", sans-serif' font-size="10.0" text-anchor="end" fill="#222" stroke="#222" stroke-width="0.17" textLength="48.4" lengthAdjust="spacingAndGlyphs">IL-12+IL-18</text>
<text x="149.4" y="468.1" font-family='"Liberation Sans", sans-serif' font-size="10.0" text-anchor="end" fill="#222" stroke="#222" stroke-width="0.17" textLength="20.7" lengthAdjust="spacingAndGlyphs">IL-35</text>
<text x="149.4" y="480.8" font-family='"Liberation Sans", sans-serif' font-size="10.0" text-anchor="end" fill="#222" stroke="#222" stroke-width="0.17" textLength="53.1" lengthAdjust="spacingAndGlyphs">Galunisertib</text>
<text x="149.4" y="494.1" font-family='"Liberation Sans", sans-serif' font-size="10.0" text-anchor="end" fill="#222" stroke="#222" stroke-width="0.17" textLength="68.9" lengthAdjust="spacingAndGlyphs">Anti-TGFβ1/2/3</text>
<path d="M162.40,451.40H167.40M164.90,448.90V453.90" stroke="#111" stroke-width="1.15" fill="none"/>
<path d="M174.80,451.40H179.80M177.30,448.90V453.90" stroke="#111" stroke-width="1.15" fill="none"/>
<path d="M187.10,451.40H192.10M189.60,448.90V453.90" stroke="#111" stroke-width="1.15" fill="none"/>
<path d="M200.00,451.40H205.00M202.50,448.90V453.90" stroke="#111" stroke-width="1.15" fill="none"/>
<path d="M223.10,451.40H228.10M225.60,448.90V453.90" stroke="#111" stroke-width="1.15" fill="none"/>
<path d="M235.50,451.40H240.50M238.00,448.90V453.90" stroke="#111" stroke-width="1.15" fill="none"/>
<path d="M247.90,451.40H252.90M250.40,448.90V453.90" stroke="#111" stroke-width="1.15" fill="none"/>
<path d="M260.40,451.40H265.40M262.90,448.90V453.90" stroke="#111" stroke-width="1.15" fill="none"/>
<path d="M283.40,451.40H288.40M285.90,448.90V453.90" stroke="#111" stroke-width="1.15" fill="none"/>
<path d="M296.00,451.40H301.00M298.50,448.90V453.90" stroke="#111" stroke-width="1.15" fill="none"/>
<path d="M308.50,451.40H313.50M311.00,448.90V453.90" stroke="#111" stroke-width="1.15" fill="none"/>
<path d="M320.90,451.40H325.90M323.40,448.90V453.90" stroke="#111" stroke-width="1.15" fill="none"/>
<path d="M163.60,465.10H166.20" stroke="#111" stroke-width="1.15" fill="none"/>
<path d="M174.80,465.10H179.80M177.30,462.60V467.60" stroke="#111" stroke-width="1.15" fill="none"/>
<path d="M187.10,465.10H192.10M189.60,462.60V467.60" stroke="#111" stroke-width="1.15" fill="none"/>
<path d="M200.00,465.10H205.00M202.50,462.60V467.60" stroke="#111" stroke-width="1.15" fill="none"/>
<path d="M224.30,465.10H226.90" stroke="#111" stroke-width="1.15" fill="none"/>
<path d="M235.50,465.10H240.50M238.00,462.60V467.60" stroke="#111" stroke-width="1.15" fill="none"/>
<path d="M247.90,465.10H252.90M250.40,462.60V467.60" stroke="#111" stroke-width="1.15" fill="none"/>
<path d="M260.40,465.10H265.40M262.90,462.60V467.60" stroke="#111" stroke-width="1.15" fill="none"/>
<path d="M284.60,465.10H287.20" stroke="#111" stroke-width="1.15" fill="none"/>
<path d="M296.00,465.10H301.00M298.50,462.60V467.60" stroke="#111" stroke-width="1.15" fill="none"/>
<path d="M308.50,465.10H313.50M311.00,462.60V467.60" stroke="#111" stroke-width="1.15" fill="none"/>
<path d="M320.90,465.10H325.90M323.40,462.60V467.60" stroke="#111" stroke-width="1.15" fill="none"/>
<path d="M163.60,477.80H166.20" stroke="#111" stroke-width="1.15" fill="none"/>
<path d="M176.00,477.80H178.60" stroke="#111" stroke-width="1.15" fill="none"/>
<path d="M187.10,477.80H192.10M189.60,475.30V480.30" stroke="#111" stroke-width="1.15" fill="none"/>
<path d="M201.20,477.80H203.80" stroke="#111" stroke-width="1.15" fill="none"/>
<path d="M224.30,477.80H226.90" stroke="#111" stroke-width="1.15" fill="none"/>
<path d="M236.70,477.80H239.30" stroke="#111" stroke-width="1.15" fill="none"/>
<path d="M247.90,477.80H252.90M250.40,475.30V480.30" stroke="#111" stroke-width="1.15" fill="none"/>
<path d="M261.60,477.80H264.20" stroke="#111" stroke-width="1.15" fill="none"/>
<path d="M284.60,477.80H287.20" stroke="#111" stroke-width="1.15" fill="none"/>
<path d="M297.20,477.80H299.80" stroke="#111" stroke-width="1.15" fill="none"/>
<path d="M308.50,477.80H313.50M311.00,475.30V480.30" stroke="#111" stroke-width="1.15" fill="none"/>
<path d="M322.10,477.80H324.70" stroke="#111" stroke-width="1.15" fill="none"/>
<path d="M163.60,491.10H166.20" stroke="#111" stroke-width="1.15" fill="none"/>
<path d="M176.00,491.10H178.60" stroke="#111" stroke-width="1.15" fill="none"/>
<path d="M188.30,491.10H190.90" stroke="#111" stroke-width="1.15" fill="none"/>
<path d="M200.00,491.10H205.00M202.50,488.60V493.60" stroke="#111" stroke-width="1.15" fill="none"/>
<path d="M224.30,491.10H226.90" stroke="#111" stroke-width="1.15" fill="none"/>
<path d="M236.70,491.10H239.30" stroke="#111" stroke-width="1.15" fill="none"/>
<path d="M249.10,491.10H251.70" stroke="#111" stroke-width="1.15" fill="none"/>
<path d="M260.40,491.10H265.40M262.90,488.60V493.60" stroke="#111" stroke-width="1.15" fill="none"/>
<path d="M284.60,491.10H287.20" stroke="#111" stroke-width="1.15" fill="none"/>
<path d="M297.20,491.10H299.80" stroke="#111" stroke-width="1.15" fill="none"/>
<path d="M309.70,491.10H312.30" stroke="#111" stroke-width="1.15" fill="none"/>
<path d="M320.90,491.10H325.90M323.40,488.60V493.60" stroke="#111" stroke-width="1.15" fill="none"/>
<rect x="391.8" y="305.3" width="64.59999999999997" height="64.59999999999997" fill="#fff" stroke="#666" stroke-width="0.6"/>
<line x1="390.2" y1="310.468" x2="391.8" y2="310.468" stroke="#555" stroke-width="0.4"/>
<line x1="387.3" y1="310.468" x2="389.2" y2="310.468" stroke="#aaa" stroke-width="0.6"/>
<line x1="390.2" y1="324.68" x2="391.8" y2="324.68" stroke="#555" stroke-width="0.4"/>
<line x1="387.3" y1="324.68" x2="389.2" y2="324.68" stroke="#aaa" stroke-width="0.6"/>
<line x1="390.2" y1="342.768" x2="391.8" y2="342.768" stroke="#555" stroke-width="0.4"/>
<line x1="387.3" y1="342.768" x2="389.2" y2="342.768" stroke="#aaa" stroke-width="0.6"/>
<line x1="390.2" y1="358.272" x2="391.8" y2="358.272" stroke="#555" stroke-width="0.4"/>
<line x1="387.3" y1="358.272" x2="389.2" y2="358.272" stroke="#aaa" stroke-width="0.6"/>
<line x1="403.428" y1="369.9" x2="403.428" y2="371.5" stroke="#555" stroke-width="0.4"/>
<line x1="402.428" y1="373.9" x2="404.428" y2="373.9" stroke="#aaa" stroke-width="0.6"/>
<line x1="424.1" y1="369.9" x2="424.1" y2="371.5" stroke="#555" stroke-width="0.4"/>
<line x1="423.1" y1="373.9" x2="425.1" y2="373.9" stroke="#aaa" stroke-width="0.6"/>
<line x1="440.25" y1="369.9" x2="440.25" y2="371.5" stroke="#555" stroke-width="0.4"/>
<line x1="439.25" y1="373.9" x2="441.25" y2="373.9" stroke="#aaa" stroke-width="0.6"/>
<line x1="453.816" y1="369.9" x2="453.816" y2="371.5" stroke="#555" stroke-width="0.4"/>
<line x1="452.816" y1="373.9" x2="454.816" y2="373.9" stroke="#aaa" stroke-width="0.6"/>
<line x1="402.8" y1="369.9" x2="402.8" y2="371.09999999999997" stroke="#444" stroke-width="0.3"/>
<line x1="403.5" y1="369.9" x2="403.5" y2="371.09999999999997" stroke="#444" stroke-width="0.3"/>
<line x1="404.2" y1="369.9" x2="404.2" y2="371.09999999999997" stroke="#444" stroke-width="0.3"/>
<line x1="404.90000000000003" y1="369.9" x2="404.90000000000003" y2="371.09999999999997" stroke="#444" stroke-width="0.3"/>
<line x1="405.6" y1="369.9" x2="405.6" y2="371.09999999999997" stroke="#444" stroke-width="0.3"/>
<line x1="406.3" y1="369.9" x2="406.3" y2="371.09999999999997" stroke="#444" stroke-width="0.3"/>
<line x1="407.0" y1="369.9" x2="407.0" y2="371.09999999999997" stroke="#444" stroke-width="0.3"/>
<line x1="407.7" y1="369.9" x2="407.7" y2="371.09999999999997" stroke="#444" stroke-width="0.3"/>
<line x1="390.8" y1="354.9" x2="391.8" y2="354.9" stroke="#444" stroke-width="0.4"/>
<line x1="390.8" y1="356.09999999999997" x2="391.8" y2="356.09999999999997" stroke="#444" stroke-width="0.4"/>
<line x1="390.8" y1="357.29999999999995" x2="391.8" y2="357.29999999999995" stroke="#444" stroke-width="0.4"/>
<line x1="390.8" y1="358.5" x2="391.8" y2="358.5" stroke="#444" stroke-width="0.4"/>
<line x1="390.8" y1="359.7" x2="391.8" y2="359.7" stroke="#444" stroke-width="0.4"/>
<line x1="390.8" y1="360.9" x2="391.8" y2="360.9" stroke="#444" stroke-width="0.4"/>
<line x1="390.8" y1="362.09999999999997" x2="391.8" y2="362.09999999999997" stroke="#444" stroke-width="0.4"/>
<line x1="390.8" y1="363.29999999999995" x2="391.8" y2="363.29999999999995" stroke="#444" stroke-width="0.4"/>
<text x="393.3" y="309.8" font-family='"Liberation Sans", sans-serif' font-size="2.6" fill="#555">Q1</text>
<text x="393.3" y="313.8" font-family='"Liberation Sans", sans-serif' font-size="2.6" fill="#555">4.03</text>
<text x="454.9" y="309.8" font-family='"Liberation Sans", sans-serif' font-size="2.6" text-anchor="end" fill="#555">Q2</text>
<text x="454.9" y="313.8" font-family='"Liberation Sans", sans-serif' font-size="2.6" text-anchor="end" fill="#555">0.89</text>
<text x="393.3" y="363.9" font-family='"Liberation Sans", sans-serif' font-size="2.6" fill="#555">Q4</text>
<text x="393.3" y="367.9" font-family='"Liberation Sans", sans-serif' font-size="2.6" fill="#555">91.2</text>
<text x="454.9" y="363.9" font-family='"Liberation Sans", sans-serif' font-size="2.6" text-anchor="end" fill="#555">Q3</text>
<text x="454.9" y="367.9" font-family='"Liberation Sans", sans-serif' font-size="2.6" text-anchor="end" fill="#555">4.28</text>
<path d="M402.60,348.00 C402.80,346.33 402.15,343.83 402.20,342.00 C402.25,340.17 402.50,338.37 402.90,337.00 C403.30,335.63 403.98,334.47 404.60,333.80 C405.22,333.13 405.95,332.97 406.60,333.00 C407.25,333.03 407.95,333.25 408.50,334.00 C409.05,334.75 409.55,336.17 409.90,337.50 C410.25,338.83 410.42,340.25 410.60,342.00 C410.78,343.75 410.77,346.33 411.00,348.00 C411.23,349.67 413.67,351.33 412.00,352.00 C410.33,352.67 402.57,352.67 401.00,352.00 C399.43,351.33 402.40,349.67 402.60,348.00Z" fill="#3ccfd6" stroke="#3ccfd6" stroke-width="0.8"/>
<path d="M399.00,355.50 C399.08,353.87 399.50,351.42 400.50,350.20 C401.50,348.98 403.25,348.30 405.00,348.20 C406.75,348.10 408.83,349.08 411.00,349.60 C413.17,350.12 415.67,350.93 418.00,351.30 C420.33,351.67 422.92,351.55 425.00,351.80 C427.08,352.05 429.58,351.80 430.50,352.80 C431.42,353.80 431.58,356.83 430.50,357.80 C429.42,358.77 426.42,358.37 424.00,358.60 C421.58,358.83 418.33,358.67 416.00,359.20 C413.67,359.73 412.00,361.25 410.00,361.80 C408.00,362.35 405.67,362.80 404.00,362.50 C402.33,362.20 400.83,361.17 400.00,360.00 C399.17,358.83 398.92,357.13 399.00,355.50Z" fill="#3ccfd6" stroke="#3ccfd6" stroke-width="0.8"/>
<path d="M400.88,355.50 C400.94,354.27 401.25,352.44 402.00,351.52 C402.75,350.61 404.06,350.10 405.38,350.02 C406.69,349.95 408.25,350.69 409.88,351.08 C411.50,351.46 413.38,352.08 415.12,352.35 C416.88,352.62 418.81,352.54 420.38,352.73 C421.94,352.91 423.81,352.73 424.50,353.48 C425.19,354.23 425.31,356.50 424.50,357.23 C423.69,357.95 421.44,357.65 419.62,357.83 C417.81,358.00 415.38,357.88 413.62,358.27 C411.88,358.67 410.62,359.81 409.12,360.23 C407.62,360.64 405.88,360.98 404.62,360.75 C403.38,360.52 402.25,359.75 401.62,358.88 C401.00,358.00 400.81,356.73 400.88,355.50Z" fill="#a8e6ea" stroke="#fff" stroke-width="0.4"/>
<path d="M404.16,345.60 C404.28,344.60 403.89,343.10 403.92,342.00 C403.95,340.90 404.10,339.82 404.34,339.00 C404.58,338.18 404.99,337.48 405.36,337.08 C405.73,336.68 406.17,336.58 406.56,336.60 C406.95,336.62 407.37,336.75 407.70,337.20 C408.03,337.65 408.33,338.50 408.54,339.30 C408.75,340.10 408.85,340.95 408.96,342.00 C409.07,343.05 409.06,344.60 409.20,345.60 C409.34,346.60 410.80,347.60 409.80,348.00 C408.80,348.40 404.14,348.40 403.20,348.00 C402.26,347.60 404.04,346.60 404.16,345.60Z" fill="#b8ecef" stroke="#fff" stroke-width="0.4"/>
<ellipse cx="406.3" cy="355.6" rx="4.2" ry="3.57" fill="none" stroke="#3cc8d0" stroke-width="0.45"/>
<ellipse cx="406.3" cy="355.6" rx="2.8" ry="2.38" fill="none" stroke="#3cc8d0" stroke-width="0.45"/>
<ellipse cx="406.3" cy="355.6" rx="1.4" ry="1.19" fill="none" stroke="#3cc8d0" stroke-width="0.45"/>
<circle cx="418" cy="340" r="0.4" fill="#3ccfd6"/>
<circle cx="423" cy="345" r="0.4" fill="#3ccfd6"/>
<circle cx="435" cy="352" r="0.4" fill="#3ccfd6"/>
<circle cx="445" cy="330" r="0.4" fill="#3ccfd6"/>
<circle cx="430" cy="346" r="0.4" fill="#3ccfd6"/>
<circle cx="437" cy="360" r="0.4" fill="#3ccfd6"/>
<circle cx="447" cy="363" r="0.4" fill="#3ccfd6"/>
<line x1="414.2" y1="305.3" x2="414.2" y2="369.9" stroke="#222" stroke-width="1.0"/>
<line x1="391.8" y1="348.1" x2="456.4" y2="348.1" stroke="#6a6a6a" stroke-width="1.5"/>
<rect x="465.7" y="305.3" width="65.09999999999997" height="64.59999999999997" fill="#fff" stroke="#666" stroke-width="0.6"/>
<line x1="464.09999999999997" y1="310.468" x2="465.7" y2="310.468" stroke="#555" stroke-width="0.4"/>
<line x1="461.2" y1="310.468" x2="463.09999999999997" y2="310.468" stroke="#aaa" stroke-width="0.6"/>
<line x1="464.09999999999997" y1="324.68" x2="465.7" y2="324.68" stroke="#555" stroke-width="0.4"/>
<line x1="461.2" y1="324.68" x2="463.09999999999997" y2="324.68" stroke="#aaa" stroke-width="0.6"/>
<line x1="464.09999999999997" y1="342.768" x2="465.7" y2="342.768" stroke="#555" stroke-width="0.4"/>
<line x1="461.2" y1="342.768" x2="463.09999999999997" y2="342.768" stroke="#aaa" stroke-width="0.6"/>
<line x1="464.09999999999997" y1="358.272" x2="465.7" y2="358.272" stroke="#555" stroke-width="0.4"/>
<line x1="461.2" y1="358.272" x2="463.09999999999997" y2="358.272" stroke="#aaa" stroke-width="0.6"/>
<line x1="477.418" y1="369.9" x2="477.418" y2="371.5" stroke="#555" stroke-width="0.4"/>
<line x1="476.418" y1="373.9" x2="478.418" y2="373.9" stroke="#aaa" stroke-width="0.6"/>
<line x1="498.25" y1="369.9" x2="498.25" y2="371.5" stroke="#555" stroke-width="0.4"/>
<line x1="497.25" y1="373.9" x2="499.25" y2="373.9" stroke="#aaa" stroke-width="0.6"/>
<line x1="514.525" y1="369.9" x2="514.525" y2="371.5" stroke="#555" stroke-width="0.4"/>
<line x1="513.525" y1="373.9" x2="515.525" y2="373.9" stroke="#aaa" stroke-width="0.6"/>
<line x1="528.1959999999999" y1="369.9" x2="528.1959999999999" y2="371.5" stroke="#555" stroke-width="0.4"/>
<line x1="527.1959999999999" y1="373.9" x2="529.1959999999999" y2="373.9" stroke="#aaa" stroke-width="0.6"/>
<line x1="476.7" y1="369.9" x2="476.7" y2="371.09999999999997" stroke="#444" stroke-width="0.3"/>
<line x1="477.4" y1="369.9" x2="477.4" y2="371.09999999999997" stroke="#444" stroke-width="0.3"/>
<line x1="478.09999999999997" y1="369.9" x2="478.09999999999997" y2="371.09999999999997" stroke="#444" stroke-width="0.3"/>
<line x1="478.8" y1="369.9" x2="478.8" y2="371.09999999999997" stroke="#444" stroke-width="0.3"/>
<line x1="479.5" y1="369.9" x2="479.5" y2="371.09999999999997" stroke="#444" stroke-width="0.3"/>
<line x1="480.2" y1="369.9" x2="480.2" y2="371.09999999999997" stroke="#444" stroke-width="0.3"/>
<line x1="480.9" y1="369.9" x2="480.9" y2="371.09999999999997" stroke="#444" stroke-width="0.3"/>
<line x1="481.59999999999997" y1="369.9" x2="481.59999999999997" y2="371.09999999999997" stroke="#444" stroke-width="0.3"/>
<line x1="464.7" y1="354.9" x2="465.7" y2="354.9" stroke="#444" stroke-width="0.4"/>
<line x1="464.7" y1="356.09999999999997" x2="465.7" y2="356.09999999999997" stroke="#444" stroke-width="0.4"/>
<line x1="464.7" y1="357.29999999999995" x2="465.7" y2="357.29999999999995" stroke="#444" stroke-width="0.4"/>
<line x1="464.7" y1="358.5" x2="465.7" y2="358.5" stroke="#444" stroke-width="0.4"/>
<line x1="464.7" y1="359.7" x2="465.7" y2="359.7" stroke="#444" stroke-width="0.4"/>
<line x1="464.7" y1="360.9" x2="465.7" y2="360.9" stroke="#444" stroke-width="0.4"/>
<line x1="464.7" y1="362.09999999999997" x2="465.7" y2="362.09999999999997" stroke="#444" stroke-width="0.4"/>
<line x1="464.7" y1="363.29999999999995" x2="465.7" y2="363.29999999999995" stroke="#444" stroke-width="0.4"/>
<text x="467.2" y="309.8" font-family='"Liberation Sans", sans-serif' font-size="2.6" fill="#555">Q1</text>
<text x="467.2" y="313.8" font-family='"Liberation Sans", sans-serif' font-size="2.6" fill="#555">24.5</text>
<text x="529.3" y="309.8" font-family='"Liberation Sans", sans-serif' font-size="2.6" text-anchor="end" fill="#555">Q2</text>
<text x="529.3" y="313.8" font-family='"Liberation Sans", sans-serif' font-size="2.6" text-anchor="end" fill="#555">62.0</text>
<text x="467.2" y="363.9" font-family='"Liberation Sans", sans-serif' font-size="2.6" fill="#555">Q4</text>
<text x="467.2" y="367.9" font-family='"Liberation Sans", sans-serif' font-size="2.6" fill="#555">5.60</text>
<text x="529.3" y="363.9" font-family='"Liberation Sans", sans-serif' font-size="2.6" text-anchor="end" fill="#555">Q3</text>
<text x="529.3" y="367.9" font-family='"Liberation Sans", sans-serif' font-size="2.6" text-anchor="end" fill="#555">7.30</text>
<path d="M476.50,322.00 C477.07,319.38 477.75,319.67 480.00,319.30 C482.25,318.93 486.67,319.93 490.00,319.80 C493.33,319.67 496.67,318.70 500.00,318.50 C503.33,318.30 507.00,318.55 510.00,318.60 C513.00,318.65 516.05,318.40 518.00,318.80 C519.95,319.20 521.20,319.13 521.70,321.00 C522.20,322.87 521.78,327.33 521.00,330.00 C520.22,332.67 518.08,334.83 517.00,337.00 C515.92,339.17 514.42,340.83 514.50,343.00 C514.58,345.17 517.05,347.83 517.50,350.00 C517.95,352.17 518.45,354.62 517.20,356.00 C515.95,357.38 513.70,357.87 510.00,358.30 C506.30,358.73 499.33,358.60 495.00,358.60 C490.67,358.60 486.92,358.48 484.00,358.30 C481.08,358.12 478.67,359.22 477.50,357.50 C476.33,355.78 477.15,351.75 477.00,348.00 C476.85,344.25 476.68,339.33 476.60,335.00 C476.52,330.67 475.93,324.62 476.50,322.00Z" fill="#f59a48" stroke="#f7902e" stroke-width="1.0" filter="url(#rough)"/>
<path d="M479.08,323.92 C479.58,321.62 480.18,321.87 482.16,321.54 C484.14,321.22 488.03,322.10 490.96,321.98 C493.89,321.87 496.83,321.02 499.76,320.84 C502.69,320.66 505.92,320.88 508.56,320.93 C511.20,320.97 513.88,320.75 515.60,321.10 C517.32,321.46 518.42,321.40 518.86,323.04 C519.30,324.68 518.93,328.61 518.24,330.96 C517.55,333.31 515.67,335.21 514.72,337.12 C513.77,339.03 512.45,340.49 512.52,342.40 C512.59,344.31 514.76,346.65 515.16,348.56 C515.56,350.47 516.00,352.62 514.90,353.84 C513.80,355.06 511.82,355.48 508.56,355.86 C505.30,356.25 499.17,356.13 495.36,356.13 C491.55,356.13 488.25,356.03 485.68,355.86 C483.11,355.70 480.99,356.67 479.96,355.16 C478.93,353.65 479.65,350.10 479.52,346.80 C479.39,343.50 479.24,339.17 479.17,335.36 C479.09,331.55 478.58,326.22 479.08,323.92Z" fill="#f9c28f" stroke="#fff" stroke-width="0.5"/>
<path d="M480.00,324.00 C481.67,322.08 485.83,322.92 490.00,322.50 C494.17,322.08 500.50,321.50 505.00,321.50 C509.50,321.50 515.00,320.75 517.00,322.50 C519.00,324.25 519.00,330.08 517.00,332.00 C515.00,333.92 509.50,333.50 505.00,334.00 C500.50,334.50 494.17,335.00 490.00,335.00 C485.83,335.00 481.67,335.83 480.00,334.00 C478.33,332.17 478.33,325.92 480.00,324.00Z" fill="#f5a45c" stroke="#fff" stroke-width="0.5"/>
<path d="M486.30,325.40 C487.38,324.15 490.09,324.70 492.80,324.43 C495.51,324.15 499.62,323.77 502.55,323.77 C505.48,323.77 509.05,323.29 510.35,324.43 C511.65,325.56 511.65,329.35 510.35,330.60 C509.05,331.85 505.48,331.57 502.55,331.90 C499.62,332.22 495.51,332.55 492.80,332.55 C490.09,332.55 487.38,333.09 486.30,331.90 C485.22,330.71 485.22,326.65 486.30,325.40Z" fill="#f9c594" stroke="#fff" stroke-width="0.5"/>
<path d="M480.00,350.50 C482.50,349.25 489.33,349.50 495.00,349.50 C500.67,349.50 510.83,349.25 514.00,350.50 C517.17,351.75 517.17,355.83 514.00,357.00 C510.83,358.17 500.67,357.50 495.00,357.50 C489.33,357.50 482.50,358.17 480.00,357.00 C477.50,355.83 477.50,351.75 480.00,350.50Z" fill="#f5a055" stroke="#fff" stroke-width="0.5"/>
<path d="M481.40,324.28 C482.95,322.50 486.82,323.27 490.70,322.88 C494.57,322.50 500.46,321.95 504.65,321.95 C508.83,321.95 513.95,321.26 515.81,322.88 C517.67,324.51 517.67,329.94 515.81,331.72 C513.95,333.50 508.83,333.12 504.65,333.58 C500.46,334.04 494.57,334.51 490.70,334.51 C486.82,334.51 482.95,335.28 481.40,333.58 C479.85,331.88 479.85,326.06 481.40,324.28Z" fill="none" stroke="#fff" stroke-width="0.45"/>
<path d="M484.00,324.80 C485.33,323.27 488.67,323.93 492.00,323.60 C495.33,323.27 500.40,322.80 504.00,322.80 C507.60,322.80 512.00,322.20 513.60,323.60 C515.20,325.00 515.20,329.67 513.60,331.20 C512.00,332.73 507.60,332.40 504.00,332.80 C500.40,333.20 495.33,333.60 492.00,333.60 C488.67,333.60 485.33,334.27 484.00,332.80 C482.67,331.33 482.67,326.33 484.00,324.80Z" fill="none" stroke="#fff" stroke-width="0.45"/>
<path d="M490.00,326.00 C490.83,325.04 492.92,325.46 495.00,325.25 C497.08,325.04 500.25,324.75 502.50,324.75 C504.75,324.75 507.50,324.38 508.50,325.25 C509.50,326.12 509.50,329.04 508.50,330.00 C507.50,330.96 504.75,330.75 502.50,331.00 C500.25,331.25 497.08,331.50 495.00,331.50 C492.92,331.50 490.83,331.92 490.00,331.00 C489.17,330.08 489.17,326.96 490.00,326.00Z" fill="none" stroke="#fff" stroke-width="0.45"/>
<path d="M481.70,350.80 C483.95,349.68 490.10,349.90 495.20,349.90 C500.30,349.90 509.45,349.68 512.30,350.80 C515.15,351.93 515.15,355.60 512.30,356.65 C509.45,357.70 500.30,357.10 495.20,357.10 C490.10,357.10 483.95,357.70 481.70,356.65 C479.45,355.60 479.45,351.93 481.70,350.80Z" fill="none" stroke="#fff" stroke-width="0.45"/>
<path d="M485.10,351.40 C486.85,350.52 491.63,350.70 495.60,350.70 C499.57,350.70 506.68,350.52 508.90,351.40 C511.12,352.27 511.12,355.13 508.90,355.95 C506.68,356.77 499.57,356.30 495.60,356.30 C491.63,356.30 486.85,356.77 485.10,355.95 C483.35,355.13 483.35,352.27 485.10,351.40Z" fill="none" stroke="#fff" stroke-width="0.45"/>
<path d="M477.57,322.80 C478.11,320.31 478.76,320.58 480.90,320.24 C483.04,319.89 487.23,320.84 490.40,320.71 C493.57,320.58 496.73,319.67 499.90,319.48 C503.07,319.29 506.55,319.52 509.40,319.57 C512.25,319.62 515.15,319.38 517.00,319.76 C518.85,320.14 520.04,320.08 520.52,321.85 C520.99,323.62 520.59,327.87 519.85,330.40 C519.11,332.93 517.08,334.99 516.05,337.05 C515.02,339.11 513.60,340.69 513.67,342.75 C513.75,344.81 516.10,347.34 516.52,349.40 C516.95,351.46 517.43,353.79 516.24,355.10 C515.05,356.41 512.91,356.87 509.40,357.29 C505.88,357.70 499.27,357.57 495.15,357.57 C491.03,357.57 487.47,357.46 484.70,357.29 C481.93,357.11 479.63,358.16 478.52,356.52 C477.42,354.89 478.19,351.06 478.05,347.50 C477.91,343.94 477.75,339.27 477.67,335.15 C477.59,331.03 477.04,325.29 477.57,322.80Z" fill="none" stroke="#fff" stroke-width="0.45"/>
<ellipse cx="484" cy="328" rx="3" ry="3.5" fill="none" stroke="#fff" stroke-width="0.45"/>
<ellipse cx="507" cy="325.5" rx="6" ry="2.2" fill="#f08a1c"/>
<ellipse cx="481" cy="353.5" rx="2.5" ry="3" fill="#fbe6d2" stroke="#f39a45" stroke-width="0.6"/>
<ellipse cx="493" cy="344" rx="4.8" ry="4.3" fill="#f08a1c"/>
<ellipse cx="492" cy="344.5" rx="2.6" ry="2.3" fill="#fff"/>
<ellipse cx="495.5" cy="345" rx="1.2" ry="1.8" fill="#fff"/>
<ellipse cx="511" cy="344" rx="2.2" ry="1.6" fill="#f08a1c"/>
<line x1="488.4" y1="305.3" x2="488.4" y2="369.9" stroke="#222" stroke-width="1.0"/>
<line x1="465.7" y1="348.1" x2="530.8" y2="348.1" stroke="#6a6a6a" stroke-width="1.5"/>
<rect x="391.4" y="415.6" width="65.0" height="64.69999999999999" fill="#fff" stroke="#666" stroke-width="0.6"/>
<line x1="389.79999999999995" y1="420.776" x2="391.4" y2="420.776" stroke="#555" stroke-width="0.4"/>
<line x1="386.9" y1="420.776" x2="388.79999999999995" y2="420.776" stroke="#aaa" stroke-width="0.6"/>
<line x1="389.79999999999995" y1="435.01" x2="391.4" y2="435.01" stroke="#555" stroke-width="0.4"/>
<line x1="386.9" y1="435.01" x2="388.79999999999995" y2="435.01" stroke="#aaa" stroke-width="0.6"/>
<line x1="389.79999999999995" y1="453.12600000000003" x2="391.4" y2="453.12600000000003" stroke="#555" stroke-width="0.4"/>
<line x1="386.9" y1="453.12600000000003" x2="388.79999999999995" y2="453.12600000000003" stroke="#aaa" stroke-width="0.6"/>
<line x1="389.79999999999995" y1="468.654" x2="391.4" y2="468.654" stroke="#555" stroke-width="0.4"/>
<line x1="386.9" y1="468.654" x2="388.79999999999995" y2="468.654" stroke="#aaa" stroke-width="0.6"/>
<line x1="403.09999999999997" y1="480.3" x2="403.09999999999997" y2="481.90000000000003" stroke="#555" stroke-width="0.4"/>
<line x1="402.09999999999997" y1="484.3" x2="404.09999999999997" y2="484.3" stroke="#aaa" stroke-width="0.6"/>
<line x1="423.9" y1="480.3" x2="423.9" y2="481.90000000000003" stroke="#555" stroke-width="0.4"/>
<line x1="422.9" y1="484.3" x2="424.9" y2="484.3" stroke="#aaa" stroke-width="0.6"/>
<line x1="440.15" y1="480.3" x2="440.15" y2="481.90000000000003" stroke="#555" stroke-width="0.4"/>
<line x1="439.15" y1="484.3" x2="441.15" y2="484.3" stroke="#aaa" stroke-width="0.6"/>
<line x1="453.79999999999995" y1="480.3" x2="453.79999999999995" y2="481.90000000000003" stroke="#555" stroke-width="0.4"/>
<line x1="452.79999999999995" y1="484.3" x2="454.79999999999995" y2="484.3" stroke="#aaa" stroke-width="0.6"/>
<line x1="402.4" y1="480.3" x2="402.4" y2="481.5" stroke="#444" stroke-width="0.3"/>
<line x1="403.09999999999997" y1="480.3" x2="403.09999999999997" y2="481.5" stroke="#444" stroke-width="0.3"/>
<line x1="403.79999999999995" y1="480.3" x2="403.79999999999995" y2="481.5" stroke="#444" stroke-width="0.3"/>
<line x1="404.5" y1="480.3" x2="404.5" y2="481.5" stroke="#444" stroke-width="0.3"/>
<line x1="405.2" y1="480.3" x2="405.2" y2="481.5" stroke="#444" stroke-width="0.3"/>
<line x1="405.9" y1="480.3" x2="405.9" y2="481.5" stroke="#444" stroke-width="0.3"/>
<line x1="406.59999999999997" y1="480.3" x2="406.59999999999997" y2="481.5" stroke="#444" stroke-width="0.3"/>
<line x1="407.29999999999995" y1="480.3" x2="407.29999999999995" y2="481.5" stroke="#444" stroke-width="0.3"/>
<line x1="390.4" y1="465.3" x2="391.4" y2="465.3" stroke="#444" stroke-width="0.4"/>
<line x1="390.4" y1="466.5" x2="391.4" y2="466.5" stroke="#444" stroke-width="0.4"/>
<line x1="390.4" y1="467.7" x2="391.4" y2="467.7" stroke="#444" stroke-width="0.4"/>
<line x1="390.4" y1="468.90000000000003" x2="391.4" y2="468.90000000000003" stroke="#444" stroke-width="0.4"/>
<line x1="390.4" y1="470.1" x2="391.4" y2="470.1" stroke="#444" stroke-width="0.4"/>
<line x1="390.4" y1="471.3" x2="391.4" y2="471.3" stroke="#444" stroke-width="0.4"/>
<line x1="390.4" y1="472.5" x2="391.4" y2="472.5" stroke="#444" stroke-width="0.4"/>
<line x1="390.4" y1="473.7" x2="391.4" y2="473.7" stroke="#444" stroke-width="0.4"/>
<text x="392.9" y="420.1" font-family='"Liberation Sans", sans-serif' font-size="2.6" fill="#555">Q1</text>
<text x="392.9" y="424.1" font-family='"Liberation Sans", sans-serif' font-size="2.6" fill="#555">0.14</text>
<text x="454.9" y="420.1" font-family='"Liberation Sans", sans-serif' font-size="2.6" text-anchor="end" fill="#555">Q2</text>
<text x="454.9" y="424.1" font-family='"Liberation Sans", sans-serif' font-size="2.6" text-anchor="end" fill="#555">0.00</text>
<text x="392.9" y="474.3" font-family='"Liberation Sans", sans-serif' font-size="2.6" fill="#555">Q4</text>
<text x="392.9" y="478.3" font-family='"Liberation Sans", sans-serif' font-size="2.6" fill="#555">96.3</text>
<text x="454.9" y="474.3" font-family='"Liberation Sans", sans-serif' font-size="2.6" text-anchor="end" fill="#555">Q3</text>
<text x="454.9" y="478.3" font-family='"Liberation Sans", sans-serif' font-size="2.6" text-anchor="end" fill="#555">3.56</text>
<path d="M406.5,459.8 C411.54,459.8 412.8,462.8 415.8,463.6 L424,464.0 C427,464.6 427,467.0 424,467.6 L415.8,468.0 C412.8,468.8 411.54,471.8 406.5,471.8 C398.31,471.8 398.31,459.8 406.5,459.8Z" fill="#d2d2d2" stroke="#111" stroke-width="1.0"/>
<ellipse cx="406.8" cy="465.8" rx="5.1659999999999995" ry="4.800000000000001" fill="#b4b4b4" stroke="#444" stroke-width="0.45"/>
<ellipse cx="406.8" cy="465.8" rx="3.6539999999999995" ry="3.3600000000000003" fill="#9a9a9a" stroke="#555" stroke-width="0.35"/>
<ellipse cx="406.8" cy="465.8" rx="1.89" ry="1.7999999999999998" fill="#8a8a8a" stroke="#555" stroke-width="0.3"/>
<path d="M413.8,464.1 L424,464.8 C426.5,465.1 426.5,466.5 424,466.8 L413.8,467.5Z" fill="#2a2a2a" stroke="none" stroke-width="1"/>
<path d="M411.8,464.8 L418.8,465.2 L418.8,466.40000000000003 L411.8,466.8Z" fill="#e0e0e0" stroke="none" stroke-width="1"/>
<circle cx="430" cy="464.8" r="0.35" fill="#666"/>
<circle cx="433" cy="466.8" r="0.35" fill="#666"/>
<circle cx="428" cy="468.8" r="0.35" fill="#666"/>
<circle cx="431.5" cy="459.8" r="0.35" fill="#666"/>
<line x1="414.2" y1="415.6" x2="414.2" y2="480.3" stroke="#222" stroke-width="1.0"/>
<line x1="391.4" y1="458.7" x2="456.4" y2="458.7" stroke="#6a6a6a" stroke-width="1.5"/>
<rect x="465.7" y="415.6" width="65.69999999999999" height="65.19999999999999" fill="#fff" stroke="#666" stroke-width="0.6"/>
<line x1="464.09999999999997" y1="420.81600000000003" x2="465.7" y2="420.81600000000003" stroke="#555" stroke-width="0.4"/>
<line x1="461.2" y1="420.81600000000003" x2="463.09999999999997" y2="420.81600000000003" stroke="#aaa" stroke-width="0.6"/>
<line x1="464.09999999999997" y1="435.16" x2="465.7" y2="435.16" stroke="#555" stroke-width="0.4"/>
<line x1="461.2" y1="435.16" x2="463.09999999999997" y2="435.16" stroke="#aaa" stroke-width="0.6"/>
<line x1="464.09999999999997" y1="453.416" x2="465.7" y2="453.416" stroke="#555" stroke-width="0.4"/>
<line x1="461.2" y1="453.416" x2="463.09999999999997" y2="453.416" stroke="#aaa" stroke-width="0.6"/>
<line x1="464.09999999999997" y1="469.064" x2="465.7" y2="469.064" stroke="#555" stroke-width="0.4"/>
<line x1="461.2" y1="469.064" x2="463.09999999999997" y2="469.064" stroke="#aaa" stroke-width="0.6"/>
<line x1="477.526" y1="480.8" x2="477.526" y2="482.40000000000003" stroke="#555" stroke-width="0.4"/>
<line x1="476.526" y1="484.8" x2="478.526" y2="484.8" stroke="#aaa" stroke-width="0.6"/>
<line x1="498.54999999999995" y1="480.8" x2="498.54999999999995" y2="482.40000000000003" stroke="#555" stroke-width="0.4"/>
<line x1="497.54999999999995" y1="484.8" x2="499.54999999999995" y2="484.8" stroke="#aaa" stroke-width="0.6"/>
<line x1="514.975" y1="480.8" x2="514.975" y2="482.40000000000003" stroke="#555" stroke-width="0.4"/>
<line x1="513.975" y1="484.8" x2="515.975" y2="484.8" stroke="#aaa" stroke-width="0.6"/>
<line x1="528.7719999999999" y1="480.8" x2="528.7719999999999" y2="482.40000000000003" stroke="#555" stroke-width="0.4"/>
<line x1="527.7719999999999" y1="484.8" x2="529.7719999999999" y2="484.8" stroke="#aaa" stroke-width="0.6"/>
<line x1="476.7" y1="480.8" x2="476.7" y2="482.0" stroke="#444" stroke-width="0.3"/>
<line x1="477.4" y1="480.8" x2="477.4" y2="482.0" stroke="#444" stroke-width="0.3"/>
<line x1="478.09999999999997" y1="480.8" x2="478.09999999999997" y2="482.0" stroke="#444" stroke-width="0.3"/>
<line x1="478.8" y1="480.8" x2="478.8" y2="482.0" stroke="#444" stroke-width="0.3"/>
<line x1="479.5" y1="480.8" x2="479.5" y2="482.0" stroke="#444" stroke-width="0.3"/>
<line x1="480.2" y1="480.8" x2="480.2" y2="482.0" stroke="#444" stroke-width="0.3"/>
<line x1="480.9" y1="480.8" x2="480.9" y2="482.0" stroke="#444" stroke-width="0.3"/>
<line x1="481.59999999999997" y1="480.8" x2="481.59999999999997" y2="482.0" stroke="#444" stroke-width="0.3"/>
<line x1="464.7" y1="465.8" x2="465.7" y2="465.8" stroke="#444" stroke-width="0.4"/>
<line x1="464.7" y1="467.0" x2="465.7" y2="467.0" stroke="#444" stroke-width="0.4"/>
<line x1="464.7" y1="468.2" x2="465.7" y2="468.2" stroke="#444" stroke-width="0.4"/>
<line x1="464.7" y1="469.40000000000003" x2="465.7" y2="469.40000000000003" stroke="#444" stroke-width="0.4"/>
<line x1="464.7" y1="470.6" x2="465.7" y2="470.6" stroke="#444" stroke-width="0.4"/>
<line x1="464.7" y1="471.8" x2="465.7" y2="471.8" stroke="#444" stroke-width="0.4"/>
<line x1="464.7" y1="473.0" x2="465.7" y2="473.0" stroke="#444" stroke-width="0.4"/>
<line x1="464.7" y1="474.2" x2="465.7" y2="474.2" stroke="#444" stroke-width="0.4"/>
<text x="467.2" y="420.1" font-family='"Liberation Sans", sans-serif' font-size="2.6" fill="#555">Q1</text>
<text x="467.2" y="424.1" font-family='"Liberation Sans", sans-serif' font-size="2.6" fill="#555">1.96</text>
<text x="529.9" y="420.1" font-family='"Liberation Sans", sans-serif' font-size="2.6" text-anchor="end" fill="#555">Q2</text>
<text x="529.9" y="424.1" font-family='"Liberation Sans", sans-serif' font-size="2.6" text-anchor="end" fill="#555">0.10</text>
<text x="467.2" y="474.8" font-family='"Liberation Sans", sans-serif' font-size="2.6" fill="#555">Q4</text>
<text x="467.2" y="478.8" font-family='"Liberation Sans", sans-serif' font-size="2.6" fill="#555">94.2</text>
<text x="529.9" y="474.8" font-family='"Liberation Sans", sans-serif' font-size="2.6" text-anchor="end" fill="#555">Q3</text>
<text x="529.9" y="478.8" font-family='"Liberation Sans", sans-serif' font-size="2.6" text-anchor="end" fill="#555">3.83</text>
<path d="M480.4,457.0 C486.47999999999996,457.0 488.0,462.0 491.0,462.8 L498,463.2 C501,463.8 501,466.2 498,466.8 L491.0,467.2 C488.0,468.0 486.47999999999996,473.0 480.4,473.0 C470.52,473.0 470.52,457.0 480.4,457.0Z" fill="#d2d2d2" stroke="#111" stroke-width="1.0"/>
<ellipse cx="480.7" cy="465.0" rx="6.231999999999999" ry="6.4" fill="#b4b4b4" stroke="#444" stroke-width="0.45"/>
<ellipse cx="480.7" cy="465.0" rx="4.4079999999999995" ry="4.48" fill="#9a9a9a" stroke="#555" stroke-width="0.35"/>
<ellipse cx="480.7" cy="465.0" rx="2.28" ry="2.4" fill="#8a8a8a" stroke="#555" stroke-width="0.3"/>
<path d="M489.0,463.3 L498,464.0 C500.5,464.3 500.5,465.7 498,466.0 L489.0,466.7Z" fill="#2a2a2a" stroke="none" stroke-width="1"/>
<path d="M487.0,464.0 L494.0,464.4 L494.0,465.6 L487.0,466.0Z" fill="#e0e0e0" stroke="none" stroke-width="1"/>
<circle cx="504" cy="464.0" r="0.35" fill="#666"/>
<circle cx="507" cy="466.0" r="0.35" fill="#666"/>
<circle cx="502" cy="468.0" r="0.35" fill="#666"/>
<circle cx="505.4" cy="459.0" r="0.35" fill="#666"/>
<line x1="488.4" y1="415.6" x2="488.4" y2="480.8" stroke="#222" stroke-width="1.0"/>
<line x1="465.7" y1="458.7" x2="531.4" y2="458.7" stroke="#6a6a6a" stroke-width="1.5"/>
<text x="423.4" y="299.8" font-family='"Liberation Sans", sans-serif' font-size="9.8" text-anchor="middle" fill="#3ccfd6" stroke="#3ccfd6" stroke-width="0.17" textLength="16" lengthAdjust="spacingAndGlyphs">IL-2</text>
<text x="497.7" y="299.8" font-family='"Liberation Sans", sans-serif' font-size="9.8" text-anchor="middle" fill="#f7902e" stroke="#f7902e" stroke-width="0.17" textLength="43" lengthAdjust="spacingAndGlyphs">IL-2+IL-35</text>
<text x="423.2" y="397.8" font-family='"Liberation Sans", sans-serif' font-size="9.8" text-anchor="middle" fill="#222" stroke="#222" stroke-width="0.17" textLength="42.6" lengthAdjust="spacingAndGlyphs">IL-2+IL-35</text>
<text x="423.2" y="411.8" font-family='"Liberation Sans", sans-serif' font-size="9.8" text-anchor="middle" fill="#222" stroke="#222" stroke-width="0.17" textLength="61.3" lengthAdjust="spacingAndGlyphs">+ Galunisertib</text>
<text x="497.9" y="397.8" font-family='"Liberation Sans", sans-serif' font-size="9.8" text-anchor="middle" fill="#222" stroke="#222" stroke-width="0.17" textLength="43" lengthAdjust="spacingAndGlyphs">IL-2+IL-35</text>
<text x="497.9" y="411.8" font-family='"Liberation Sans", sans-serif' font-size="9.8" text-anchor="middle" fill="#222" stroke="#222" stroke-width="0.17" textLength="76.5" lengthAdjust="spacingAndGlyphs">+ anti-TGFβ1/2/3</text>
<text x="383.3" y="335.2" font-family='"Liberation Sans", sans-serif' font-size="9.8" text-anchor="middle" fill="#1a1a1a" stroke="#1a1a1a" stroke-width="0.12" textLength="25.6" lengthAdjust="spacingAndGlyphs" transform="rotate(-90 383.3 335.2)">CD103</text>
<line x1="379.8" y1="372.1" x2="379.8" y2="355.5" stroke="#000" stroke-width="1.2"/>
<path d="M379.8,352.0 L377.5,356.6 L382.1,356.6Z" fill="#000" stroke="none" stroke-width="1"/>
<line x1="385.0" y1="379.7" x2="402.0" y2="379.7" stroke="#000" stroke-width="1.2"/>
<path d="M405.6,379.7 L401.0,377.4 L401.0,382.0Z" fill="#000" stroke="none" stroke-width="1"/>
<text x="409.6" y="383.0" font-family='"Liberation Sans", sans-serif' font-size="10.0" fill="#1a1a1a" stroke="#1a1a1a" stroke-width="0.17" textLength="15.7" lengthAdjust="spacingAndGlyphs">CD9</text>
<text x="382.3" y="447.8" font-family='"Liberation Sans", sans-serif' font-size="9.8" text-anchor="middle" fill="#1a1a1a" stroke="#1a1a1a" stroke-width="0.12" textLength="25.6" lengthAdjust="spacingAndGlyphs" transform="rotate(-90 382.3 447.8)">CD103</text>
<line x1="378.9" y1="484.4" x2="378.9" y2="468.3" stroke="#000" stroke-width="1.2"/>
<path d="M378.9,464.8 L376.59999999999997,469.40000000000003 L381.2,469.40000000000003Z" fill="#000" stroke="none" stroke-width="1"/>
<line x1="385.0" y1="490.9" x2="402.0" y2="490.9" stroke="#000" stroke-width="1.2"/>
<path d="M405.6,490.9 L401.0,488.59999999999997 L401.0,493.2Z" fill="#000" stroke="none" stroke-width="1"/>
<text x="408.7" y="494.2" font-family='"Liberation Sans", sans-serif' font-size="10.0" fill="#1a1a1a" stroke="#1a1a1a" stroke-width="0.17" textLength="15.7" lengthAdjust="spacingAndGlyphs">CD9</text>
<line x1="622.1" y1="412.495" x2="639.5" y2="328.84000000000003" stroke="#777" stroke-width="0.3"/>
<line x1="639.5" y1="328.84000000000003" x2="656.6" y2="417.071" stroke="#888" stroke-width="0.3" stroke-dasharray="0.8,0.8"/>
<line x1="656.6" y1="417.071" x2="674.4" y2="417.214" stroke="#888" stroke-width="0.3" stroke-dasharray="0.8,0.8"/>
<line x1="622.1" y1="413.925" x2="639.5" y2="343.14" stroke="#777" stroke-width="0.3"/>
<line x1="639.5" y1="343.14" x2="656.6" y2="417.071" stroke="#888" stroke-width="0.3" stroke-dasharray="0.8,0.8"/>
<line x1="656.6" y1="417.071" x2="674.4" y2="417.214" stroke="#888" stroke-width="0.3" stroke-dasharray="0.8,0.8"/>
<line x1="622.1" y1="414.64" x2="639.5" y2="367.45" stroke="#777" stroke-width="0.3"/>
<line x1="639.5" y1="367.45" x2="656.6" y2="417.071" stroke="#888" stroke-width="0.3" stroke-dasharray="0.8,0.8"/>
<line x1="656.6" y1="417.071" x2="674.4" y2="417.214" stroke="#888" stroke-width="0.3" stroke-dasharray="0.8,0.8"/>
<line x1="622.1" y1="415.355" x2="639.5" y2="378.89" stroke="#777" stroke-width="0.3"/>
<line x1="639.5" y1="378.89" x2="656.6" y2="417.071" stroke="#888" stroke-width="0.3" stroke-dasharray="0.8,0.8"/>
<line x1="656.6" y1="417.071" x2="674.4" y2="417.214" stroke="#888" stroke-width="0.3" stroke-dasharray="0.8,0.8"/>
<line x1="622.1" y1="416.07" x2="639.5" y2="380.32" stroke="#777" stroke-width="0.3"/>
<line x1="639.5" y1="380.32" x2="656.6" y2="417.071" stroke="#888" stroke-width="0.3" stroke-dasharray="0.8,0.8"/>
<line x1="656.6" y1="417.071" x2="674.4" y2="417.214" stroke="#888" stroke-width="0.3" stroke-dasharray="0.8,0.8"/>
<line x1="622.1" y1="416.356" x2="639.5" y2="387.47" stroke="#777" stroke-width="0.3"/>
<line x1="639.5" y1="387.47" x2="656.6" y2="417.071" stroke="#888" stroke-width="0.3" stroke-dasharray="0.8,0.8"/>
<line x1="656.6" y1="417.071" x2="674.4" y2="417.214" stroke="#888" stroke-width="0.3" stroke-dasharray="0.8,0.8"/>
<rect x="616.9" y="415.069" width="11" height="2.430999999999983" fill="#13a9d5" stroke="#333" stroke-width="0.3"/>
<rect x="634.4" y="365.019" width="11.3" height="52.480999999999995" fill="#f9a13e" stroke="#333" stroke-width="0.5"/>
<circle cx="622.1" cy="412.495" r="0.9" fill="#000"/>
<circle cx="622.1" cy="413.925" r="0.9" fill="#000"/>
<circle cx="622.1" cy="414.64" r="0.9" fill="#000"/>
<circle cx="622.1" cy="415.355" r="0.9" fill="#000"/>
<circle cx="622.1" cy="416.07" r="0.9" fill="#000"/>
<circle cx="622.1" cy="416.356" r="0.9" fill="#000"/>
<line x1="622.1" y1="417.5" x2="622.1" y2="411.065" stroke="#000" stroke-width="0.6"/>
<circle cx="639.5" cy="328.84000000000003" r="1.2" fill="#000"/>
<circle cx="639.5" cy="343.14" r="1.2" fill="#000"/>
<circle cx="639.5" cy="367.45" r="1.2" fill="#000"/>
<circle cx="639.5" cy="378.89" r="1.2" fill="#000"/>
<circle cx="639.5" cy="380.32" r="1.2" fill="#000"/>
<circle cx="639.5" cy="387.47" r="1.2" fill="#000"/>
<circle cx="657.2" cy="417.214" r="1.1" fill="#000"/>
<circle cx="675.0" cy="417.357" r="1.0" fill="#000"/>
<line x1="613.5" y1="318.3" x2="613.5" y2="418.0" stroke="#000" stroke-width="1.1"/>
<line x1="611" y1="417.5" x2="685" y2="417.5" stroke="#000" stroke-width="1.1"/>
<line x1="609.8" y1="417.5" x2="613.5" y2="417.5" stroke="#000" stroke-width="0.9"/>
<text x="608.8" y="419.8" font-family='"Liberation Sans", sans-serif' font-size="6.6" text-anchor="end" font-weight="bold" fill="#333">0</text>
<line x1="609.8" y1="388.9" x2="613.5" y2="388.9" stroke="#000" stroke-width="0.9"/>
<text x="608.8" y="391.2" font-family='"Liberation Sans", sans-serif' font-size="6.6" text-anchor="end" fill="#333">20</text>
<line x1="609.8" y1="360.3" x2="613.5" y2="360.3" stroke="#000" stroke-width="0.9"/>
<text x="608.8" y="362.6" font-family='"Liberation Sans", sans-serif' font-size="6.6" text-anchor="end" fill="#333">40</text>
<line x1="609.8" y1="331.7" x2="613.5" y2="331.7" stroke="#000" stroke-width="0.9"/>
<text x="608.8" y="334.0" font-family='"Liberation Sans", sans-serif' font-size="6.6" text-anchor="end" fill="#333">60</text>
<line x1="611.6" y1="403.2" x2="613.5" y2="403.2" stroke="#000" stroke-width="0.7"/>
<line x1="611.6" y1="374.6" x2="613.5" y2="374.6" stroke="#000" stroke-width="0.7"/>
<line x1="611.6" y1="346.0" x2="613.5" y2="346.0" stroke="#000" stroke-width="0.7"/>
<line x1="622.3" y1="417.5" x2="622.3" y2="421.5" stroke="#000" stroke-width="0.9"/>
<line x1="640.0" y1="417.5" x2="640.0" y2="421.5" stroke="#000" stroke-width="0.9"/>
<line x1="657.3" y1="417.5" x2="657.3" y2="421.5" stroke="#000" stroke-width="0.9"/>
<line x1="675.1" y1="417.5" x2="675.1" y2="421.5" stroke="#000" stroke-width="0.9"/>
<text x="628.3" y="312.3" font-family='"Liberation Sans", sans-serif' font-size="7.6" text-anchor="middle" fill="#1a1a1a" stroke="#1a1a1a" stroke-width="0.1" textLength="22.8" lengthAdjust="spacingAndGlyphs">0.0038</text>
<line x1="620" y1="314.1" x2="637" y2="314.1" stroke="#000" stroke-width="1.4"/>
<text x="648.4" y="301.09999999999997" font-family='"Liberation Sans", sans-serif' font-size="7.6" text-anchor="middle" fill="#1a1a1a" stroke="#1a1a1a" stroke-width="0.1" textLength="22.8" lengthAdjust="spacingAndGlyphs">0.0028</text>
<line x1="637" y1="302.3" x2="658.8" y2="302.3" stroke="#000" stroke-width="1.4"/>
<text x="656.7" y="318.9" font-family='"Liberation Sans", sans-serif' font-size="7.6" text-anchor="middle" fill="#1a1a1a" stroke="#1a1a1a" stroke-width="0.1" textLength="22.8" lengthAdjust="spacingAndGlyphs">0.0053</text>
<line x1="641" y1="320.7" x2="673.7" y2="320.7" stroke="#000" stroke-width="1.4"/>
<text x="597.2" y="414.4" transform="rotate(-90 597.2 414.4)" stroke="#222" stroke-width="0.1" font-family='"Liberation Sans", sans-serif' font-size="9.6" fill="#222" textLength="95" lengthAdjust="spacingAndGlyphs">% of <tspan font-weight="bold">CD9</tspan><tspan font-weight="bold" font-size="6" dy="-3.5">+</tspan><tspan font-weight="bold" dy="3.5">CD103</tspan><tspan font-weight="bold" font-size="6" dy="-3.5">+</tspan><tspan dy="3.5"> NK</tspan></text>
<text x="606.3" y="435.0" font-family='"Liberation Sans", sans-serif' font-size="10.0" text-anchor="end" fill="#222" stroke="#222" stroke-width="0.17" textLength="16" lengthAdjust="spacingAndGlyphs">IL-2</text>
<text x="606.3" y="448.6" font-family='"Liberation Sans", sans-serif' font-size="10.0" text-anchor="end" fill="#222" stroke="#222" stroke-width="0.17" textLength="22" lengthAdjust="spacingAndGlyphs">IL-35</text>
<text x="606.3" y="461.5" font-family='"Liberation Sans", sans-serif' font-size="10.0" text-anchor="end" fill="#222" stroke="#222" stroke-width="0.17" textLength="53" lengthAdjust="spacingAndGlyphs">Galunisertib</text>
<text x="606.3" y="475.1" font-family='"Liberation Sans", sans-serif' font-size="10.0" text-anchor="end" fill="#222" stroke="#222" stroke-width="0.17" textLength="69" lengthAdjust="spacingAndGlyphs">Anti-TGFβ1/2/3</text>
<path d="M620.10,432.00H625.10M622.60,429.50V434.50" stroke="#111" stroke-width="1.15" fill="none"/>
<path d="M637.80,432.00H642.80M640.30,429.50V434.50" stroke="#111" stroke-width="1.15" fill="none"/>
<path d="M655.10,432.00H660.10M657.60,429.50V434.50" stroke="#111" stroke-width="1.15" fill="none"/>
<path d="M672.90,432.00H677.90M675.40,429.50V434.50" stroke="#111" stroke-width="1.15" fill="none"/>
<path d="M621.30,445.60H623.90" stroke="#111" stroke-width="1.15" fill="none"/>
<path d="M637.80,445.60H642.80M640.30,443.10V448.10" stroke="#111" stroke-width="1.15" fill="none"/>
<path d="M655.10,445.60H660.10M657.60,443.10V448.10" stroke="#111" stroke-width="1.15" fill="none"/>
<path d="M672.90,445.60H677.90M675.40,443.10V448.10" stroke="#111" stroke-width="1.15" fill="none"/>
<path d="M621.30,458.50H623.90" stroke="#111" stroke-width="1.15" fill="none"/>
<path d="M639.00,458.50H641.60" stroke="#111" stroke-width="1.15" fill="none"/>
<path d="M655.10,458.50H660.10M657.60,456.00V461.00" stroke="#111" stroke-width="1.15" fill="none"/>
<path d="M674.10,458.50H676.70" stroke="#111" stroke-width="1.15" fill="none"/>
<path d="M621.30,472.10H623.90" stroke="#111" stroke-width="1.15" fill="none"/>
<path d="M639.00,472.10H641.60" stroke="#111" stroke-width="1.15" fill="none"/>
<path d="M656.30,472.10H658.90" stroke="#111" stroke-width="1.15" fill="none"/>
<path d="M672.90,472.10H677.90M675.40,469.60V474.60" stroke="#111" stroke-width="1.15" fill="none"/>
</svg>
</body></html>
